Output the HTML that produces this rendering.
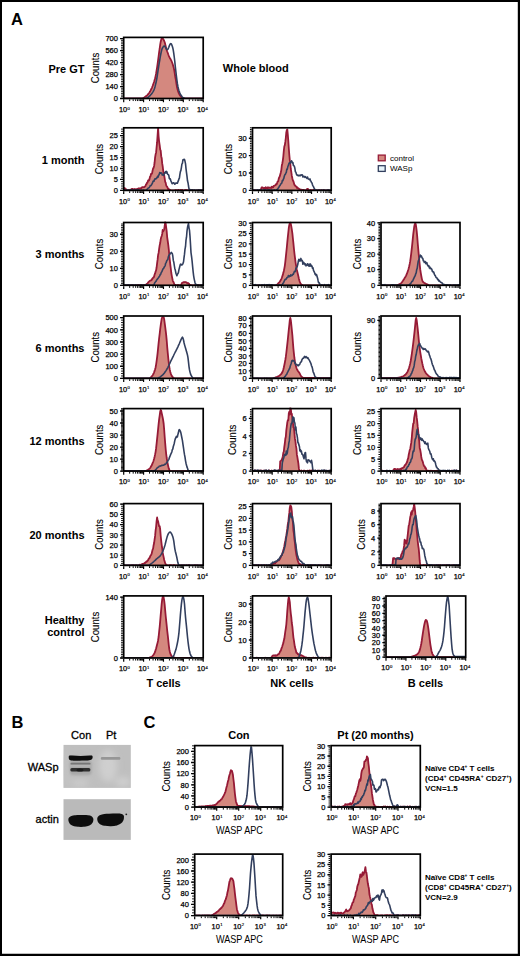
<!DOCTYPE html>
<html><head><meta charset="utf-8"><style>
html,body{margin:0;padding:0;background:#fff;}
body{width:520px;height:956px;overflow:hidden;font-family:"Liberation Sans", sans-serif;}
svg{display:block;}
</style></head><body>
<svg width="520" height="956" viewBox="0 0 520 956" font-family='"Liberation Sans", sans-serif'><rect x="0" y="0" width="520" height="956" fill="#fff"/>
<clipPath id="c123_37"><rect x="123.70" y="36.40" width="79.50" height="62.10"/></clipPath>
<g clip-path="url(#c123_37)">
<path d="M123.7,98.5L123.7,98.5L124.2,98.5L124.7,98.5L125.2,98.5L125.7,98.5L126.2,98.5L126.7,98.5L127.2,98.5L127.8,98.5L128.3,98.5L128.8,98.5L129.3,98.5L129.8,98.5L130.3,98.5L130.8,98.5L131.3,98.5L131.8,98.5L132.3,98.5L132.8,98.5L133.3,98.5L133.8,98.5L134.3,98.5L134.8,98.5L135.3,98.5L135.9,98.5L136.4,98.5L136.9,98.5L137.4,98.5L137.9,98.5L138.4,98.5L138.9,98.5L139.4,98.5L139.9,98.5L140.4,98.5L140.9,98.5L141.4,98.5L141.9,98.5L142.4,98.4L142.9,98.2L143.4,97.9L144.0,97.6L144.5,97.3L145.0,96.9L145.5,96.6L146.0,96.2L146.5,95.8L147.0,95.4L147.5,94.9L148.0,94.3L148.5,93.7L149.0,93.1L149.5,92.4L150.0,91.6L150.5,90.7L151.0,89.6L151.6,88.5L152.1,87.3L152.6,86.0L153.1,84.6L153.6,83.2L154.1,81.7L154.6,80.0L155.1,78.2L155.6,76.1L156.1,73.5L156.6,70.5L157.1,67.3L157.6,64.0L158.1,60.2L158.6,56.3L159.1,52.4L159.7,48.5L160.2,44.6L160.7,41.7L161.2,39.8L161.7,38.4L162.2,38.0L162.7,38.4L163.2,39.1L163.7,40.0L164.2,41.0L164.7,42.3L165.2,44.1L165.7,46.2L166.2,48.2L166.7,50.0L167.2,51.5L167.8,53.0L168.3,54.5L168.8,55.8L169.3,56.9L169.8,57.9L170.3,58.7L170.8,59.6L171.3,60.6L171.8,61.7L172.3,63.0L172.8,64.5L173.3,66.2L173.8,68.1L174.3,70.7L174.8,73.7L175.3,77.0L175.9,80.1L176.4,83.6L176.9,86.7L177.4,88.9L177.9,90.6L178.4,92.1L178.9,93.3L179.4,94.3L179.9,95.2L180.4,95.9L180.9,96.5L181.4,97.0L181.9,97.4L182.4,97.8L182.9,98.1L183.5,98.3L184.0,98.5L184.5,98.5L185.0,98.5L185.5,98.5L186.0,98.5L186.5,98.5L187.0,98.5L187.5,98.5L188.0,98.5L188.5,98.5L189.0,98.5L189.5,98.5L190.0,98.5L190.5,98.5L191.0,98.5L191.6,98.5L192.1,98.5L192.6,98.5L193.1,98.5L193.6,98.5L194.1,98.5L194.6,98.5L195.1,98.5L195.6,98.5L196.1,98.5L196.6,98.5L197.1,98.5L197.6,98.5L198.1,98.5L198.6,98.5L199.1,98.5L199.7,98.5L200.2,98.5L200.7,98.5L201.2,98.5L201.7,98.5L202.2,98.5L202.7,98.5L203.2,98.5L203.2,98.5 Z" fill="#d4887f" stroke="none"/>
<path d="M123.7,98.5L124.2,98.5L124.7,98.5L125.2,98.5L125.7,98.5L126.2,98.5L126.7,98.5L127.2,98.5L127.8,98.5L128.3,98.5L128.8,98.5L129.3,98.5L129.8,98.5L130.3,98.5L130.8,98.5L131.3,98.5L131.8,98.5L132.3,98.5L132.8,98.5L133.3,98.5L133.8,98.5L134.3,98.5L134.8,98.5L135.3,98.5L135.9,98.5L136.4,98.5L136.9,98.5L137.4,98.5L137.9,98.5L138.4,98.5L138.9,98.5L139.4,98.5L139.9,98.5L140.4,98.5L140.9,98.5L141.4,98.5L141.9,98.5L142.4,98.4L142.9,98.2L143.4,97.9L144.0,97.6L144.5,97.3L145.0,96.9L145.5,96.6L146.0,96.2L146.5,95.8L147.0,95.4L147.5,94.9L148.0,94.3L148.5,93.7L149.0,93.1L149.5,92.4L150.0,91.6L150.5,90.7L151.0,89.6L151.6,88.5L152.1,87.3L152.6,86.0L153.1,84.6L153.6,83.2L154.1,81.7L154.6,80.0L155.1,78.2L155.6,76.1L156.1,73.5L156.6,70.5L157.1,67.3L157.6,64.0L158.1,60.2L158.6,56.3L159.1,52.4L159.7,48.5L160.2,44.6L160.7,41.7L161.2,39.8L161.7,38.4L162.2,38.0L162.7,38.4L163.2,39.1L163.7,40.0L164.2,41.0L164.7,42.3L165.2,44.1L165.7,46.2L166.2,48.2L166.7,50.0L167.2,51.5L167.8,53.0L168.3,54.5L168.8,55.8L169.3,56.9L169.8,57.9L170.3,58.7L170.8,59.6L171.3,60.6L171.8,61.7L172.3,63.0L172.8,64.5L173.3,66.2L173.8,68.1L174.3,70.7L174.8,73.7L175.3,77.0L175.9,80.1L176.4,83.6L176.9,86.7L177.4,88.9L177.9,90.6L178.4,92.1L178.9,93.3L179.4,94.3L179.9,95.2L180.4,95.9L180.9,96.5L181.4,97.0L181.9,97.4L182.4,97.8L182.9,98.1L183.5,98.3L184.0,98.5L184.5,98.5L185.0,98.5L185.5,98.5L186.0,98.5L186.5,98.5L187.0,98.5L187.5,98.5L188.0,98.5L188.5,98.5L189.0,98.5L189.5,98.5L190.0,98.5L190.5,98.5L191.0,98.5L191.6,98.5L192.1,98.5L192.6,98.5L193.1,98.5L193.6,98.5L194.1,98.5L194.6,98.5L195.1,98.5L195.6,98.5L196.1,98.5L196.6,98.5L197.1,98.5L197.6,98.5L198.1,98.5L198.6,98.5L199.1,98.5L199.7,98.5L200.2,98.5L200.7,98.5L201.2,98.5L201.7,98.5L202.2,98.5L202.7,98.5L203.2,98.5" fill="none" stroke="#961a36" stroke-width="1.8" stroke-linejoin="round"/>
<path d="M123.7,98.5L124.2,98.5L124.7,98.5L125.2,98.5L125.7,98.5L126.2,98.5L126.7,98.5L127.2,98.5L127.8,98.5L128.3,98.5L128.8,98.5L129.3,98.5L129.8,98.5L130.3,98.5L130.8,98.5L131.3,98.5L131.8,98.5L132.3,98.5L132.8,98.5L133.3,98.5L133.8,98.5L134.3,98.5L134.8,98.5L135.3,98.5L135.9,98.5L136.4,98.5L136.9,98.5L137.4,98.5L137.9,98.5L138.4,98.5L138.9,98.5L139.4,98.5L139.9,98.5L140.4,98.5L140.9,98.5L141.4,98.5L141.9,98.5L142.4,98.5L142.9,98.5L143.4,98.5L144.0,98.5L144.5,98.5L145.0,98.5L145.5,98.5L146.0,98.5L146.5,98.3L147.0,98.1L147.5,97.7L148.0,97.4L148.5,96.9L149.0,96.5L149.5,96.1L150.0,95.6L150.5,95.1L151.0,94.5L151.6,93.9L152.1,93.2L152.6,92.4L153.1,91.6L153.6,90.6L154.1,89.6L154.6,88.2L155.1,86.4L155.6,84.4L156.1,82.2L156.6,79.8L157.1,76.8L157.6,73.5L158.1,70.2L158.6,67.0L159.1,63.7L159.7,60.3L160.2,57.2L160.7,54.5L161.2,52.2L161.7,50.1L162.2,48.5L162.7,47.6L163.2,46.8L163.7,46.2L164.2,46.0L164.7,46.2L165.2,46.9L165.7,47.8L166.2,48.7L166.7,49.4L167.2,49.6L167.8,49.3L168.3,48.4L168.8,47.2L169.3,45.9L169.8,44.7L170.3,43.9L170.8,43.5L171.3,43.9L171.8,44.9L172.3,46.3L172.8,47.9L173.3,50.3L173.8,53.6L174.3,57.5L174.8,61.6L175.3,66.7L175.9,71.9L176.4,76.2L176.9,80.2L177.4,83.7L177.9,86.5L178.4,88.6L178.9,90.4L179.4,91.9L179.9,93.1L180.4,94.1L180.9,95.0L181.4,95.8L181.9,96.5L182.4,97.0L182.9,97.4L183.5,97.8L184.0,98.1L184.5,98.3L185.0,98.5L185.5,98.5L186.0,98.5L186.5,98.5L187.0,98.5L187.5,98.5L188.0,98.5L188.5,98.5L189.0,98.5L189.5,98.5L190.0,98.5L190.5,98.5L191.0,98.5L191.6,98.5L192.1,98.5L192.6,98.5L193.1,98.5L193.6,98.5L194.1,98.5L194.6,98.5L195.1,98.5L195.6,98.5L196.1,98.5L196.6,98.5L197.1,98.5L197.6,98.5L198.1,98.5L198.6,98.5L199.1,98.5L199.7,98.5L200.2,98.5L200.7,98.5L201.2,98.5L201.7,98.5L202.2,98.5L202.7,98.5L203.2,98.5" fill="none" stroke="#323f5e" stroke-width="1.6" stroke-linejoin="round"/>
</g>
<rect x="123.70" y="37.40" width="79.50" height="61.10" fill="none" stroke="#000" stroke-width="1.7"/>
<path d="M122.85,98.50h-1.7M122.85,96.79h-1.7M122.85,95.08h-1.7M122.85,93.37h-1.7M122.85,91.66h-1.7M122.85,89.95h-1.7M122.85,88.25h-1.7M122.85,86.54h-1.7M122.85,84.83h-1.7M122.85,83.12h-1.7M122.85,81.41h-1.7M122.85,79.70h-1.7M122.85,77.99h-1.7M122.85,76.28h-1.7M122.85,74.57h-1.7M122.85,72.86h-1.7M122.85,71.15h-1.7M122.85,69.45h-1.7M122.85,67.74h-1.7M122.85,66.03h-1.7M122.85,64.32h-1.7M122.85,62.61h-1.7M122.85,60.90h-1.7M122.85,59.19h-1.7M122.85,57.48h-1.7M122.85,55.77h-1.7M122.85,54.06h-1.7M122.85,52.35h-1.7M122.85,50.65h-1.7M122.85,48.94h-1.7M122.85,47.23h-1.7M122.85,45.52h-1.7M122.85,43.81h-1.7M122.85,42.10h-1.7M122.85,40.39h-1.7M122.85,38.68h-1.7" stroke="#000" stroke-width="1.0" fill="none"/>
<path d="M122.85,98.50h-2.8M122.85,86.54h-2.8M122.85,74.57h-2.8M122.85,62.61h-2.8M122.85,50.65h-2.8M122.85,38.68h-2.8" stroke="#000" stroke-width="1.3" fill="none"/>
<path d="M129.68,99.35v1.7M133.18,99.35v1.7M135.67,99.35v1.7M137.59,99.35v1.7M139.17,99.35v1.7M140.50,99.35v1.7M141.65,99.35v1.7M142.67,99.35v1.7M149.56,99.35v1.7M153.06,99.35v1.7M155.54,99.35v1.7M157.47,99.35v1.7M159.04,99.35v1.7M160.37,99.35v1.7M161.52,99.35v1.7M162.54,99.35v1.7M169.43,99.35v1.7M172.93,99.35v1.7M175.42,99.35v1.7M177.34,99.35v1.7M178.92,99.35v1.7M180.25,99.35v1.7M181.40,99.35v1.7M182.42,99.35v1.7M189.31,99.35v1.7M192.81,99.35v1.7M195.29,99.35v1.7M197.22,99.35v1.7M198.79,99.35v1.7M200.12,99.35v1.7M201.27,99.35v1.7M202.29,99.35v1.7" stroke="#000" stroke-width="1.0" fill="none"/>
<path d="M123.70,99.35v2.8M143.57,99.35v2.8M163.45,99.35v2.8M183.32,99.35v2.8M203.20,99.35v2.8" stroke="#000" stroke-width="1.2" fill="none"/>
<text x="117.90" y="101.20" font-size="7.5" text-anchor="end" stroke="#000" stroke-width="0.25">0</text>
<text x="117.90" y="89.24" font-size="7.5" text-anchor="end" stroke="#000" stroke-width="0.25">140</text>
<text x="117.90" y="77.27" font-size="7.5" text-anchor="end" stroke="#000" stroke-width="0.25">280</text>
<text x="117.90" y="65.31" font-size="7.5" text-anchor="end" stroke="#000" stroke-width="0.25">420</text>
<text x="117.90" y="53.35" font-size="7.5" text-anchor="end" stroke="#000" stroke-width="0.25">560</text>
<text x="117.90" y="41.38" font-size="7.5" text-anchor="end" stroke="#000" stroke-width="0.25">700</text>
<text x="123.10" y="112.10" font-size="7.4" text-anchor="middle" stroke="#000" stroke-width="0.25">10</text>
<text x="127.60" y="109.60" font-size="4.2" stroke="#000" stroke-width="0.15">0</text>
<text x="142.58" y="112.10" font-size="7.4" text-anchor="middle" stroke="#000" stroke-width="0.25">10</text>
<text x="147.08" y="109.60" font-size="4.2" stroke="#000" stroke-width="0.15">1</text>
<text x="162.05" y="112.10" font-size="7.4" text-anchor="middle" stroke="#000" stroke-width="0.25">10</text>
<text x="166.55" y="109.60" font-size="4.2" stroke="#000" stroke-width="0.15">2</text>
<text x="181.53" y="112.10" font-size="7.4" text-anchor="middle" stroke="#000" stroke-width="0.25">10</text>
<text x="186.03" y="109.60" font-size="4.2" stroke="#000" stroke-width="0.15">3</text>
<text x="201.00" y="112.10" font-size="7.4" text-anchor="middle" stroke="#000" stroke-width="0.25">10</text>
<text x="205.50" y="109.60" font-size="4.2" stroke="#000" stroke-width="0.15">4</text>
<text x="99.19" y="67.95" font-size="10.6" text-anchor="middle" textLength="30.50" lengthAdjust="spacingAndGlyphs" transform="rotate(-90 99.19 67.95)" stroke="#000" stroke-width="0.1">Counts</text>
<clipPath id="c123_127"><rect x="123.70" y="126.80" width="79.50" height="63.60"/></clipPath>
<g clip-path="url(#c123_127)">
<path d="M123.7,190.4L123.7,190.4L124.2,189.1L124.7,188.0L125.2,188.7L125.7,189.0L126.2,189.4L126.7,190.3L127.2,190.3L127.8,190.3L128.3,190.0L128.8,190.4L129.3,190.4L129.8,190.4L130.3,189.6L130.8,189.6L131.3,190.2L131.8,189.0L132.3,188.9L132.8,189.1L133.3,189.1L133.8,189.5L134.3,189.6L134.8,189.0L135.3,189.5L135.9,189.3L136.4,189.2L136.9,189.4L137.4,188.8L137.9,188.8L138.4,188.3L138.9,188.6L139.4,188.4L139.9,188.5L140.4,188.2L140.9,188.3L141.4,188.4L141.9,187.3L142.4,187.1L142.9,187.1L143.4,187.1L144.0,187.3L144.5,187.0L145.0,186.4L145.5,186.1L146.0,184.4L146.5,184.2L147.0,182.7L147.5,182.6L148.0,180.8L148.5,180.1L149.0,180.5L149.5,179.1L150.0,176.7L150.5,176.3L151.0,174.0L151.6,173.9L152.1,173.2L152.6,170.5L153.1,168.4L153.6,167.8L154.1,166.0L154.6,162.5L155.1,157.4L155.6,154.3L156.1,152.4L156.6,147.1L157.1,142.2L157.6,135.1L158.1,127.7L158.6,136.3L159.1,141.3L159.7,145.5L160.2,149.6L160.7,150.7L161.2,156.2L161.7,158.2L162.2,163.4L162.7,166.3L163.2,170.6L163.7,173.7L164.2,175.5L164.7,178.7L165.2,181.9L165.7,182.8L166.2,185.4L166.7,186.4L167.2,186.8L167.8,188.1L168.3,189.5L168.8,189.0L169.3,190.2L169.8,190.4L170.3,189.9L170.8,190.4L171.3,190.4L171.8,190.4L172.3,190.4L172.8,190.3L173.3,190.4L173.8,190.3L174.3,190.4L174.8,190.4L175.3,189.9L175.9,190.4L176.4,190.3L176.9,190.0L177.4,190.4L177.9,190.4L178.4,189.9L178.9,190.0L179.4,190.4L179.9,190.4L180.4,190.1L180.9,189.9L181.4,190.4L181.9,189.9L182.4,190.0L182.9,190.3L183.5,190.4L184.0,190.4L184.5,190.4L185.0,189.9L185.5,190.4L186.0,190.2L186.5,190.4L187.0,190.0L187.5,190.3L188.0,190.4L188.5,190.4L189.0,190.2L189.5,190.4L190.0,190.4L190.5,190.3L191.0,190.0L191.6,190.3L192.1,190.4L192.6,189.9L193.1,190.4L193.6,190.4L194.1,190.4L194.6,190.4L195.1,190.4L195.6,190.4L196.1,190.4L196.6,190.3L197.1,190.4L197.6,190.4L198.1,190.0L198.6,189.9L199.1,190.2L199.7,190.2L200.2,190.3L200.7,190.4L201.2,190.4L201.7,190.4L202.2,189.9L202.7,190.2L203.2,189.9L203.2,190.4 Z" fill="#d4887f" stroke="none"/>
<path d="M123.7,190.4L124.2,189.1L124.7,188.0L125.2,188.7L125.7,189.0L126.2,189.4L126.7,190.3L127.2,190.3L127.8,190.3L128.3,190.0L128.8,190.4L129.3,190.4L129.8,190.4L130.3,189.6L130.8,189.6L131.3,190.2L131.8,189.0L132.3,188.9L132.8,189.1L133.3,189.1L133.8,189.5L134.3,189.6L134.8,189.0L135.3,189.5L135.9,189.3L136.4,189.2L136.9,189.4L137.4,188.8L137.9,188.8L138.4,188.3L138.9,188.6L139.4,188.4L139.9,188.5L140.4,188.2L140.9,188.3L141.4,188.4L141.9,187.3L142.4,187.1L142.9,187.1L143.4,187.1L144.0,187.3L144.5,187.0L145.0,186.4L145.5,186.1L146.0,184.4L146.5,184.2L147.0,182.7L147.5,182.6L148.0,180.8L148.5,180.1L149.0,180.5L149.5,179.1L150.0,176.7L150.5,176.3L151.0,174.0L151.6,173.9L152.1,173.2L152.6,170.5L153.1,168.4L153.6,167.8L154.1,166.0L154.6,162.5L155.1,157.4L155.6,154.3L156.1,152.4L156.6,147.1L157.1,142.2L157.6,135.1L158.1,127.7L158.6,136.3L159.1,141.3L159.7,145.5L160.2,149.6L160.7,150.7L161.2,156.2L161.7,158.2L162.2,163.4L162.7,166.3L163.2,170.6L163.7,173.7L164.2,175.5L164.7,178.7L165.2,181.9L165.7,182.8L166.2,185.4L166.7,186.4L167.2,186.8L167.8,188.1L168.3,189.5L168.8,189.0L169.3,190.2L169.8,190.4L170.3,189.9L170.8,190.4L171.3,190.4L171.8,190.4L172.3,190.4L172.8,190.3L173.3,190.4L173.8,190.3L174.3,190.4L174.8,190.4L175.3,189.9L175.9,190.4L176.4,190.3L176.9,190.0L177.4,190.4L177.9,190.4L178.4,189.9L178.9,190.0L179.4,190.4L179.9,190.4L180.4,190.1L180.9,189.9L181.4,190.4L181.9,189.9L182.4,190.0L182.9,190.3L183.5,190.4L184.0,190.4L184.5,190.4L185.0,189.9L185.5,190.4L186.0,190.2L186.5,190.4L187.0,190.0L187.5,190.3L188.0,190.4L188.5,190.4L189.0,190.2L189.5,190.4L190.0,190.4L190.5,190.3L191.0,190.0L191.6,190.3L192.1,190.4L192.6,189.9L193.1,190.4L193.6,190.4L194.1,190.4L194.6,190.4L195.1,190.4L195.6,190.4L196.1,190.4L196.6,190.3L197.1,190.4L197.6,190.4L198.1,190.0L198.6,189.9L199.1,190.2L199.7,190.2L200.2,190.3L200.7,190.4L201.2,190.4L201.7,190.4L202.2,189.9L202.7,190.2L203.2,189.9" fill="none" stroke="#961a36" stroke-width="1.8" stroke-linejoin="round"/>
<path d="M123.7,190.4L124.2,190.2L124.7,190.2L125.2,190.4L125.7,190.4L126.2,190.4L126.7,190.4L127.2,190.1L127.8,190.2L128.3,190.3L128.8,190.3L129.3,190.2L129.8,190.4L130.3,190.4L130.8,190.4L131.3,189.9L131.8,190.4L132.3,190.0L132.8,190.4L133.3,190.2L133.8,190.4L134.3,190.4L134.8,190.0L135.3,190.4L135.9,190.4L136.4,189.9L136.9,190.4L137.4,190.4L137.9,189.9L138.4,189.9L138.9,190.4L139.4,190.4L139.9,190.4L140.4,190.4L140.9,190.3L141.4,190.4L141.9,190.2L142.4,190.4L142.9,190.4L143.4,190.0L144.0,190.4L144.5,190.4L145.0,190.3L145.5,190.4L146.0,190.4L146.5,190.4L147.0,189.4L147.5,188.7L148.0,188.2L148.5,188.0L149.0,187.8L149.5,187.1L150.0,186.1L150.5,185.5L151.0,185.7L151.6,184.7L152.1,183.7L152.6,182.6L153.1,181.3L153.6,181.0L154.1,181.1L154.6,179.1L155.1,179.3L155.6,178.7L156.1,178.8L156.6,178.0L157.1,177.7L157.6,176.4L158.1,177.1L158.6,175.2L159.1,174.8L159.7,172.6L160.2,173.4L160.7,172.8L161.2,173.0L161.7,173.1L162.2,175.0L162.7,174.7L163.2,175.3L163.7,175.0L164.2,174.1L164.7,172.5L165.2,173.0L165.7,171.5L166.2,173.0L166.7,171.4L167.2,173.2L167.8,174.5L168.3,174.5L168.8,175.4L169.3,178.4L169.8,178.9L170.3,178.9L170.8,180.6L171.3,181.8L171.8,183.0L172.3,183.7L172.8,183.2L173.3,182.8L173.8,182.7L174.3,183.5L174.8,184.2L175.3,183.8L175.9,183.1L176.4,183.0L176.9,183.2L177.4,183.3L177.9,181.8L178.4,180.7L178.9,179.0L179.4,178.1L179.9,174.4L180.4,171.6L180.9,170.4L181.4,167.6L181.9,164.0L182.4,163.5L182.9,159.8L183.5,159.9L184.0,159.2L184.5,159.4L185.0,161.3L185.5,163.7L186.0,168.6L186.5,172.6L187.0,176.4L187.5,180.8L188.0,182.7L188.5,186.0L189.0,188.8L189.5,189.9L190.0,189.5L190.5,190.2L191.0,190.2L191.6,189.9L192.1,189.9L192.6,190.1L193.1,190.4L193.6,190.3L194.1,189.9L194.6,190.1L195.1,190.3L195.6,190.4L196.1,190.4L196.6,190.1L197.1,190.3L197.6,190.4L198.1,190.2L198.6,189.9L199.1,190.1L199.7,190.0L200.2,189.9L200.7,190.4L201.2,190.1L201.7,190.4L202.2,190.4L202.7,190.4L203.2,190.4" fill="none" stroke="#323f5e" stroke-width="1.6" stroke-linejoin="round"/>
</g>
<rect x="123.70" y="127.80" width="79.50" height="62.60" fill="none" stroke="#000" stroke-width="1.7"/>
<path d="M122.85,190.40h-1.7M122.85,188.21h-1.7M122.85,186.02h-1.7M122.85,183.83h-1.7M122.85,181.64h-1.7M122.85,179.46h-1.7M122.85,177.27h-1.7M122.85,175.08h-1.7M122.85,172.89h-1.7M122.85,170.70h-1.7M122.85,168.51h-1.7M122.85,166.32h-1.7M122.85,164.13h-1.7M122.85,161.95h-1.7M122.85,159.76h-1.7M122.85,157.57h-1.7M122.85,155.38h-1.7M122.85,153.19h-1.7M122.85,151.00h-1.7M122.85,148.81h-1.7M122.85,146.62h-1.7M122.85,144.43h-1.7M122.85,142.25h-1.7M122.85,140.06h-1.7M122.85,137.87h-1.7M122.85,135.68h-1.7M122.85,133.49h-1.7M122.85,131.30h-1.7M122.85,129.11h-1.7" stroke="#000" stroke-width="1.0" fill="none"/>
<path d="M122.85,190.40h-2.8M122.85,179.46h-2.8M122.85,168.51h-2.8M122.85,157.57h-2.8M122.85,146.62h-2.8M122.85,135.68h-2.8" stroke="#000" stroke-width="1.3" fill="none"/>
<path d="M129.68,191.25v1.7M133.18,191.25v1.7M135.67,191.25v1.7M137.59,191.25v1.7M139.17,191.25v1.7M140.50,191.25v1.7M141.65,191.25v1.7M142.67,191.25v1.7M149.56,191.25v1.7M153.06,191.25v1.7M155.54,191.25v1.7M157.47,191.25v1.7M159.04,191.25v1.7M160.37,191.25v1.7M161.52,191.25v1.7M162.54,191.25v1.7M169.43,191.25v1.7M172.93,191.25v1.7M175.42,191.25v1.7M177.34,191.25v1.7M178.92,191.25v1.7M180.25,191.25v1.7M181.40,191.25v1.7M182.42,191.25v1.7M189.31,191.25v1.7M192.81,191.25v1.7M195.29,191.25v1.7M197.22,191.25v1.7M198.79,191.25v1.7M200.12,191.25v1.7M201.27,191.25v1.7M202.29,191.25v1.7" stroke="#000" stroke-width="1.0" fill="none"/>
<path d="M123.70,191.25v2.8M143.57,191.25v2.8M163.45,191.25v2.8M183.32,191.25v2.8M203.20,191.25v2.8" stroke="#000" stroke-width="1.2" fill="none"/>
<text x="117.90" y="193.10" font-size="7.5" text-anchor="end" stroke="#000" stroke-width="0.25">0</text>
<text x="117.90" y="182.16" font-size="7.5" text-anchor="end" stroke="#000" stroke-width="0.25">5</text>
<text x="117.90" y="171.21" font-size="7.5" text-anchor="end" stroke="#000" stroke-width="0.25">10</text>
<text x="117.90" y="160.27" font-size="7.5" text-anchor="end" stroke="#000" stroke-width="0.25">15</text>
<text x="117.90" y="149.32" font-size="7.5" text-anchor="end" stroke="#000" stroke-width="0.25">20</text>
<text x="117.90" y="138.38" font-size="7.5" text-anchor="end" stroke="#000" stroke-width="0.25">25</text>
<text x="123.10" y="203.60" font-size="7.4" text-anchor="middle" stroke="#000" stroke-width="0.25">10</text>
<text x="127.60" y="201.10" font-size="4.2" stroke="#000" stroke-width="0.15">0</text>
<text x="142.58" y="203.60" font-size="7.4" text-anchor="middle" stroke="#000" stroke-width="0.25">10</text>
<text x="147.08" y="201.10" font-size="4.2" stroke="#000" stroke-width="0.15">1</text>
<text x="162.05" y="203.60" font-size="7.4" text-anchor="middle" stroke="#000" stroke-width="0.25">10</text>
<text x="166.55" y="201.10" font-size="4.2" stroke="#000" stroke-width="0.15">2</text>
<text x="181.53" y="203.60" font-size="7.4" text-anchor="middle" stroke="#000" stroke-width="0.25">10</text>
<text x="186.03" y="201.10" font-size="4.2" stroke="#000" stroke-width="0.15">3</text>
<text x="201.00" y="203.60" font-size="7.4" text-anchor="middle" stroke="#000" stroke-width="0.25">10</text>
<text x="205.50" y="201.10" font-size="4.2" stroke="#000" stroke-width="0.15">4</text>
<text x="103.36" y="159.10" font-size="10.6" text-anchor="middle" textLength="30.50" lengthAdjust="spacingAndGlyphs" transform="rotate(-90 103.36 159.10)" stroke="#000" stroke-width="0.1">Counts</text>
<clipPath id="c252_127"><rect x="252.50" y="126.80" width="78.70" height="63.60"/></clipPath>
<g clip-path="url(#c252_127)">
<path d="M252.5,190.4L252.5,190.4L253.0,190.2L253.5,190.2L254.0,190.4L254.5,190.4L255.0,190.1L255.5,190.1L256.0,190.4L256.5,190.4L257.0,190.4L257.5,190.4L258.0,190.4L258.6,190.3L259.1,190.4L259.6,190.0L260.1,190.3L260.6,189.6L261.1,189.1L261.6,187.4L262.1,187.6L262.6,187.4L263.1,187.7L263.6,188.5L264.1,188.1L264.6,187.9L265.1,188.4L265.6,187.3L266.1,188.1L266.6,188.3L267.1,187.5L267.6,188.4L268.1,187.3L268.6,187.9L269.1,187.7L269.7,187.9L270.2,187.6L270.7,187.9L271.2,188.0L271.7,186.8L272.2,187.5L272.7,186.6L273.2,187.2L273.7,186.0L274.2,185.9L274.7,185.7L275.2,185.2L275.7,184.9L276.2,184.0L276.7,184.2L277.2,182.8L277.7,181.4L278.2,181.4L278.7,178.9L279.2,177.4L279.7,176.6L280.2,174.7L280.8,172.4L281.3,170.1L281.8,165.5L282.3,163.5L282.8,160.6L283.3,156.6L283.8,150.9L284.3,146.5L284.8,145.1L285.3,141.9L285.8,138.1L286.3,132.4L286.8,130.1L287.3,129.4L287.8,134.7L288.3,140.8L288.8,148.3L289.3,154.7L289.8,160.2L290.3,163.3L290.8,169.0L291.3,172.0L291.8,175.7L292.4,178.5L292.9,180.6L293.4,181.2L293.9,182.9L294.4,184.8L294.9,185.2L295.4,186.0L295.9,186.3L296.4,186.7L296.9,187.9L297.4,187.5L297.9,187.9L298.4,188.7L298.9,188.6L299.4,189.3L299.9,189.7L300.4,190.0L300.9,189.4L301.4,190.3L301.9,190.4L302.4,189.8L302.9,189.9L303.5,190.3L304.0,189.9L304.5,190.4L305.0,190.4L305.5,190.4L306.0,190.3L306.5,189.7L307.0,189.1L307.5,188.9L308.0,189.0L308.5,189.7L309.0,190.1L309.5,190.4L310.0,190.4L310.5,189.9L311.0,190.4L311.5,190.1L312.0,190.4L312.5,190.4L313.0,190.0L313.5,190.1L314.0,190.0L314.6,190.3L315.1,190.4L315.6,190.3L316.1,190.0L316.6,190.4L317.1,190.4L317.6,190.4L318.1,190.1L318.6,190.4L319.1,190.2L319.6,189.9L320.1,190.4L320.6,190.3L321.1,190.2L321.6,190.0L322.1,190.3L322.6,190.4L323.1,190.4L323.6,189.9L324.1,189.9L324.6,190.4L325.1,190.4L325.7,190.4L326.2,190.4L326.7,190.4L327.2,190.4L327.7,190.0L328.2,190.2L328.7,190.4L329.2,190.4L329.7,190.4L330.2,190.4L330.7,190.4L331.2,190.4L331.2,190.4 Z" fill="#d4887f" stroke="none"/>
<path d="M252.5,190.4L253.0,190.2L253.5,190.2L254.0,190.4L254.5,190.4L255.0,190.1L255.5,190.1L256.0,190.4L256.5,190.4L257.0,190.4L257.5,190.4L258.0,190.4L258.6,190.3L259.1,190.4L259.6,190.0L260.1,190.3L260.6,189.6L261.1,189.1L261.6,187.4L262.1,187.6L262.6,187.4L263.1,187.7L263.6,188.5L264.1,188.1L264.6,187.9L265.1,188.4L265.6,187.3L266.1,188.1L266.6,188.3L267.1,187.5L267.6,188.4L268.1,187.3L268.6,187.9L269.1,187.7L269.7,187.9L270.2,187.6L270.7,187.9L271.2,188.0L271.7,186.8L272.2,187.5L272.7,186.6L273.2,187.2L273.7,186.0L274.2,185.9L274.7,185.7L275.2,185.2L275.7,184.9L276.2,184.0L276.7,184.2L277.2,182.8L277.7,181.4L278.2,181.4L278.7,178.9L279.2,177.4L279.7,176.6L280.2,174.7L280.8,172.4L281.3,170.1L281.8,165.5L282.3,163.5L282.8,160.6L283.3,156.6L283.8,150.9L284.3,146.5L284.8,145.1L285.3,141.9L285.8,138.1L286.3,132.4L286.8,130.1L287.3,129.4L287.8,134.7L288.3,140.8L288.8,148.3L289.3,154.7L289.8,160.2L290.3,163.3L290.8,169.0L291.3,172.0L291.8,175.7L292.4,178.5L292.9,180.6L293.4,181.2L293.9,182.9L294.4,184.8L294.9,185.2L295.4,186.0L295.9,186.3L296.4,186.7L296.9,187.9L297.4,187.5L297.9,187.9L298.4,188.7L298.9,188.6L299.4,189.3L299.9,189.7L300.4,190.0L300.9,189.4L301.4,190.3L301.9,190.4L302.4,189.8L302.9,189.9L303.5,190.3L304.0,189.9L304.5,190.4L305.0,190.4L305.5,190.4L306.0,190.3L306.5,189.7L307.0,189.1L307.5,188.9L308.0,189.0L308.5,189.7L309.0,190.1L309.5,190.4L310.0,190.4L310.5,189.9L311.0,190.4L311.5,190.1L312.0,190.4L312.5,190.4L313.0,190.0L313.5,190.1L314.0,190.0L314.6,190.3L315.1,190.4L315.6,190.3L316.1,190.0L316.6,190.4L317.1,190.4L317.6,190.4L318.1,190.1L318.6,190.4L319.1,190.2L319.6,189.9L320.1,190.4L320.6,190.3L321.1,190.2L321.6,190.0L322.1,190.3L322.6,190.4L323.1,190.4L323.6,189.9L324.1,189.9L324.6,190.4L325.1,190.4L325.7,190.4L326.2,190.4L326.7,190.4L327.2,190.4L327.7,190.0L328.2,190.2L328.7,190.4L329.2,190.4L329.7,190.4L330.2,190.4L330.7,190.4L331.2,190.4" fill="none" stroke="#961a36" stroke-width="1.8" stroke-linejoin="round"/>
<path d="M252.5,189.9L253.0,190.4L253.5,190.4L254.0,189.8L254.5,190.4L255.0,190.4L255.5,190.2L256.0,190.4L256.5,190.0L257.0,190.4L257.5,189.9L258.0,190.4L258.6,190.3L259.1,189.9L259.6,190.2L260.1,189.9L260.6,190.2L261.1,190.4L261.6,190.0L262.1,190.3L262.6,190.4L263.1,190.4L263.6,190.0L264.1,190.3L264.6,189.9L265.1,190.1L265.6,189.9L266.1,190.3L266.6,190.2L267.1,190.3L267.6,190.4L268.1,189.9L268.6,190.4L269.1,190.1L269.7,189.9L270.2,190.2L270.7,190.4L271.2,190.0L271.7,190.2L272.2,190.4L272.7,190.4L273.2,190.4L273.7,190.4L274.2,189.9L274.7,190.4L275.2,190.4L275.7,190.4L276.2,190.1L276.7,189.5L277.2,189.7L277.7,189.0L278.2,188.1L278.7,187.7L279.2,186.5L279.7,185.8L280.2,185.2L280.8,184.0L281.3,183.4L281.8,183.1L282.3,180.6L282.8,180.7L283.3,179.4L283.8,178.4L284.3,176.2L284.8,174.8L285.3,174.4L285.8,173.2L286.3,172.4L286.8,169.1L287.3,169.3L287.8,166.8L288.3,165.4L288.8,163.9L289.3,162.8L289.8,162.9L290.3,163.2L290.8,161.6L291.3,160.8L291.8,161.2L292.4,163.0L292.9,162.6L293.4,165.5L293.9,165.7L294.4,166.4L294.9,168.5L295.4,171.8L295.9,172.3L296.4,174.1L296.9,175.0L297.4,175.5L297.9,175.0L298.4,175.5L298.9,175.9L299.4,175.3L299.9,175.3L300.4,175.7L300.9,174.8L301.4,174.8L301.9,175.3L302.4,174.9L302.9,177.0L303.5,176.3L304.0,176.2L304.5,177.0L305.0,177.5L305.5,176.7L306.0,177.3L306.5,177.8L307.0,178.5L307.5,177.0L308.0,178.4L308.5,179.1L309.0,179.3L309.5,179.6L310.0,178.9L310.5,180.7L311.0,181.2L311.5,182.5L312.0,183.1L312.5,184.8L313.0,185.8L313.5,186.7L314.0,187.9L314.6,189.0L315.1,190.4L315.6,190.3L316.1,190.0L316.6,190.4L317.1,190.4L317.6,190.4L318.1,190.4L318.6,190.1L319.1,190.2L319.6,190.4L320.1,190.4L320.6,190.4L321.1,190.4L321.6,190.4L322.1,190.2L322.6,190.4L323.1,190.0L323.6,190.2L324.1,190.4L324.6,190.4L325.1,190.3L325.7,190.4L326.2,190.4L326.7,190.4L327.2,190.1L327.7,190.4L328.2,190.3L328.7,189.9L329.2,190.0L329.7,190.4L330.2,190.4L330.7,190.4L331.2,190.4" fill="none" stroke="#323f5e" stroke-width="1.6" stroke-linejoin="round"/>
</g>
<rect x="252.50" y="127.80" width="78.70" height="62.60" fill="none" stroke="#000" stroke-width="1.7"/>
<path d="M251.65,190.40h-1.7M251.65,188.66h-1.7M251.65,186.92h-1.7M251.65,185.18h-1.7M251.65,183.44h-1.7M251.65,181.71h-1.7M251.65,179.97h-1.7M251.65,178.23h-1.7M251.65,176.49h-1.7M251.65,174.75h-1.7M251.65,173.01h-1.7M251.65,171.27h-1.7M251.65,169.53h-1.7M251.65,167.79h-1.7M251.65,166.06h-1.7M251.65,164.32h-1.7M251.65,162.58h-1.7M251.65,160.84h-1.7M251.65,159.10h-1.7M251.65,157.36h-1.7M251.65,155.62h-1.7M251.65,153.88h-1.7M251.65,152.14h-1.7M251.65,150.41h-1.7M251.65,148.67h-1.7M251.65,146.93h-1.7M251.65,145.19h-1.7M251.65,143.45h-1.7M251.65,141.71h-1.7M251.65,139.97h-1.7M251.65,138.23h-1.7M251.65,136.49h-1.7M251.65,134.76h-1.7M251.65,133.02h-1.7M251.65,131.28h-1.7M251.65,129.54h-1.7M251.65,127.80h-1.7" stroke="#000" stroke-width="1.0" fill="none"/>
<path d="M251.65,190.40h-2.8M251.65,173.01h-2.8M251.65,155.62h-2.8M251.65,138.23h-2.8" stroke="#000" stroke-width="1.3" fill="none"/>
<path d="M258.42,191.25v1.7M261.89,191.25v1.7M264.35,191.25v1.7M266.25,191.25v1.7M267.81,191.25v1.7M269.13,191.25v1.7M270.27,191.25v1.7M271.27,191.25v1.7M278.10,191.25v1.7M281.56,191.25v1.7M284.02,191.25v1.7M285.93,191.25v1.7M287.49,191.25v1.7M288.80,191.25v1.7M289.94,191.25v1.7M290.95,191.25v1.7M297.77,191.25v1.7M301.24,191.25v1.7M303.70,191.25v1.7M305.60,191.25v1.7M307.16,191.25v1.7M308.48,191.25v1.7M309.62,191.25v1.7M310.62,191.25v1.7M317.45,191.25v1.7M320.91,191.25v1.7M323.37,191.25v1.7M325.28,191.25v1.7M326.84,191.25v1.7M328.15,191.25v1.7M329.29,191.25v1.7M330.30,191.25v1.7" stroke="#000" stroke-width="1.0" fill="none"/>
<path d="M252.50,191.25v2.8M272.18,191.25v2.8M291.85,191.25v2.8M311.52,191.25v2.8M331.20,191.25v2.8" stroke="#000" stroke-width="1.2" fill="none"/>
<text x="246.70" y="193.10" font-size="7.5" text-anchor="end" stroke="#000" stroke-width="0.25">0</text>
<text x="246.70" y="175.71" font-size="7.5" text-anchor="end" stroke="#000" stroke-width="0.25">10</text>
<text x="246.70" y="158.32" font-size="7.5" text-anchor="end" stroke="#000" stroke-width="0.25">20</text>
<text x="246.70" y="140.93" font-size="7.5" text-anchor="end" stroke="#000" stroke-width="0.25">30</text>
<text x="251.90" y="203.60" font-size="7.4" text-anchor="middle" stroke="#000" stroke-width="0.25">10</text>
<text x="256.40" y="201.10" font-size="4.2" stroke="#000" stroke-width="0.15">0</text>
<text x="271.18" y="203.60" font-size="7.4" text-anchor="middle" stroke="#000" stroke-width="0.25">10</text>
<text x="275.68" y="201.10" font-size="4.2" stroke="#000" stroke-width="0.15">1</text>
<text x="290.45" y="203.60" font-size="7.4" text-anchor="middle" stroke="#000" stroke-width="0.25">10</text>
<text x="294.95" y="201.10" font-size="4.2" stroke="#000" stroke-width="0.15">2</text>
<text x="309.73" y="203.60" font-size="7.4" text-anchor="middle" stroke="#000" stroke-width="0.25">10</text>
<text x="314.23" y="201.10" font-size="4.2" stroke="#000" stroke-width="0.15">3</text>
<text x="329.00" y="203.60" font-size="7.4" text-anchor="middle" stroke="#000" stroke-width="0.25">10</text>
<text x="333.50" y="201.10" font-size="4.2" stroke="#000" stroke-width="0.15">4</text>
<text x="232.16" y="159.10" font-size="10.6" text-anchor="middle" textLength="30.50" lengthAdjust="spacingAndGlyphs" transform="rotate(-90 232.16 159.10)" stroke="#000" stroke-width="0.1">Counts</text>
<clipPath id="c123_222"><rect x="123.70" y="221.50" width="79.50" height="63.80"/></clipPath>
<g clip-path="url(#c123_222)">
<path d="M123.7,285.3L123.7,285.3L124.2,285.3L124.7,285.3L125.2,285.2L125.7,285.3L126.2,285.3L126.7,285.3L127.2,285.1L127.8,285.3L128.3,285.1L128.8,285.2L129.3,285.3L129.8,285.3L130.3,285.3L130.8,285.3L131.3,284.9L131.8,285.3L132.3,285.3L132.8,285.0L133.3,285.3L133.8,285.3L134.3,285.3L134.8,285.3L135.3,285.0L135.9,285.3L136.4,285.3L136.9,285.2L137.4,285.3L137.9,285.0L138.4,285.0L138.9,285.3L139.4,285.3L139.9,285.0L140.4,284.9L140.9,285.3L141.4,285.1L141.9,285.0L142.4,285.2L142.9,285.3L143.4,285.1L144.0,285.1L144.5,285.3L145.0,284.9L145.5,285.0L146.0,284.8L146.5,284.2L147.0,283.8L147.5,283.4L148.0,282.7L148.5,282.1L149.0,281.6L149.5,281.1L150.0,280.7L150.5,280.4L151.0,280.4L151.6,280.0L152.1,279.0L152.6,278.5L153.1,277.7L153.6,277.5L154.1,276.5L154.6,274.5L155.1,273.4L155.6,271.5L156.1,270.3L156.6,267.5L157.1,263.3L157.6,259.7L158.1,255.0L158.6,252.9L159.1,249.1L159.7,245.1L160.2,243.0L160.7,239.4L161.2,237.3L161.7,236.0L162.2,233.9L162.7,229.8L163.2,231.4L163.7,230.5L164.2,229.2L164.7,226.0L165.2,221.9L165.7,223.5L166.2,227.6L166.7,231.4L167.2,237.3L167.8,241.5L168.3,245.2L168.8,249.5L169.3,255.3L169.8,260.0L170.3,264.7L170.8,268.5L171.3,273.0L171.8,275.8L172.3,278.4L172.8,280.8L173.3,281.8L173.8,282.7L174.3,284.2L174.8,285.0L175.3,284.9L175.9,285.0L176.4,285.2L176.9,285.3L177.4,285.3L177.9,284.9L178.4,285.3L178.9,285.2L179.4,285.3L179.9,285.3L180.4,285.1L180.9,285.0L181.4,284.2L181.9,283.2L182.4,282.6L182.9,282.6L183.5,282.1L184.0,282.4L184.5,282.2L185.0,282.0L185.5,282.2L186.0,282.1L186.5,282.5L187.0,283.0L187.5,283.3L188.0,283.0L188.5,283.4L189.0,283.8L189.5,284.7L190.0,285.2L190.5,285.3L191.0,285.0L191.6,285.3L192.1,285.3L192.6,285.3L193.1,285.3L193.6,285.3L194.1,285.3L194.6,285.1L195.1,285.3L195.6,285.3L196.1,285.1L196.6,285.1L197.1,285.1L197.6,285.3L198.1,285.2L198.6,285.0L199.1,285.3L199.7,285.3L200.2,285.1L200.7,285.3L201.2,285.3L201.7,285.1L202.2,285.3L202.7,285.3L203.2,285.3L203.2,285.3 Z" fill="#d4887f" stroke="none"/>
<path d="M123.7,285.3L124.2,285.3L124.7,285.3L125.2,285.2L125.7,285.3L126.2,285.3L126.7,285.3L127.2,285.1L127.8,285.3L128.3,285.1L128.8,285.2L129.3,285.3L129.8,285.3L130.3,285.3L130.8,285.3L131.3,284.9L131.8,285.3L132.3,285.3L132.8,285.0L133.3,285.3L133.8,285.3L134.3,285.3L134.8,285.3L135.3,285.0L135.9,285.3L136.4,285.3L136.9,285.2L137.4,285.3L137.9,285.0L138.4,285.0L138.9,285.3L139.4,285.3L139.9,285.0L140.4,284.9L140.9,285.3L141.4,285.1L141.9,285.0L142.4,285.2L142.9,285.3L143.4,285.1L144.0,285.1L144.5,285.3L145.0,284.9L145.5,285.0L146.0,284.8L146.5,284.2L147.0,283.8L147.5,283.4L148.0,282.7L148.5,282.1L149.0,281.6L149.5,281.1L150.0,280.7L150.5,280.4L151.0,280.4L151.6,280.0L152.1,279.0L152.6,278.5L153.1,277.7L153.6,277.5L154.1,276.5L154.6,274.5L155.1,273.4L155.6,271.5L156.1,270.3L156.6,267.5L157.1,263.3L157.6,259.7L158.1,255.0L158.6,252.9L159.1,249.1L159.7,245.1L160.2,243.0L160.7,239.4L161.2,237.3L161.7,236.0L162.2,233.9L162.7,229.8L163.2,231.4L163.7,230.5L164.2,229.2L164.7,226.0L165.2,221.9L165.7,223.5L166.2,227.6L166.7,231.4L167.2,237.3L167.8,241.5L168.3,245.2L168.8,249.5L169.3,255.3L169.8,260.0L170.3,264.7L170.8,268.5L171.3,273.0L171.8,275.8L172.3,278.4L172.8,280.8L173.3,281.8L173.8,282.7L174.3,284.2L174.8,285.0L175.3,284.9L175.9,285.0L176.4,285.2L176.9,285.3L177.4,285.3L177.9,284.9L178.4,285.3L178.9,285.2L179.4,285.3L179.9,285.3L180.4,285.1L180.9,285.0L181.4,284.2L181.9,283.2L182.4,282.6L182.9,282.6L183.5,282.1L184.0,282.4L184.5,282.2L185.0,282.0L185.5,282.2L186.0,282.1L186.5,282.5L187.0,283.0L187.5,283.3L188.0,283.0L188.5,283.4L189.0,283.8L189.5,284.7L190.0,285.2L190.5,285.3L191.0,285.0L191.6,285.3L192.1,285.3L192.6,285.3L193.1,285.3L193.6,285.3L194.1,285.3L194.6,285.1L195.1,285.3L195.6,285.3L196.1,285.1L196.6,285.1L197.1,285.1L197.6,285.3L198.1,285.2L198.6,285.0L199.1,285.3L199.7,285.3L200.2,285.1L200.7,285.3L201.2,285.3L201.7,285.1L202.2,285.3L202.7,285.3L203.2,285.3" fill="none" stroke="#961a36" stroke-width="1.8" stroke-linejoin="round"/>
<path d="M123.7,285.3L124.2,285.3L124.7,285.3L125.2,285.0L125.7,285.3L126.2,285.1L126.7,285.3L127.2,285.3L127.8,285.0L128.3,285.3L128.8,285.0L129.3,285.0L129.8,285.3L130.3,285.3L130.8,285.1L131.3,285.3L131.8,285.3L132.3,285.1L132.8,285.0L133.3,285.0L133.8,285.0L134.3,285.3L134.8,285.3L135.3,285.3L135.9,284.9L136.4,285.3L136.9,285.3L137.4,285.3L137.9,285.3L138.4,285.3L138.9,285.3L139.4,285.3L139.9,285.3L140.4,285.0L140.9,285.3L141.4,285.1L141.9,285.1L142.4,285.2L142.9,285.2L143.4,285.1L144.0,285.2L144.5,285.3L145.0,285.3L145.5,285.3L146.0,285.3L146.5,284.9L147.0,285.3L147.5,285.3L148.0,285.3L148.5,285.1L149.0,285.3L149.5,285.1L150.0,285.3L150.5,285.3L151.0,285.2L151.6,285.3L152.1,285.3L152.6,285.3L153.1,285.3L153.6,285.1L154.1,284.6L154.6,283.1L155.1,282.5L155.6,281.5L156.1,281.2L156.6,280.0L157.1,279.4L157.6,278.9L158.1,278.2L158.6,277.4L159.1,276.9L159.7,275.9L160.2,274.6L160.7,274.4L161.2,272.6L161.7,272.0L162.2,270.9L162.7,269.5L163.2,268.7L163.7,268.3L164.2,267.1L164.7,266.5L165.2,265.5L165.7,263.0L166.2,262.6L166.7,260.9L167.2,260.1L167.8,259.7L168.3,256.9L168.8,255.4L169.3,254.8L169.8,254.4L170.3,253.3L170.8,253.1L171.3,252.4L171.8,253.1L172.3,253.6L172.8,256.0L173.3,260.4L173.8,262.2L174.3,265.5L174.8,268.4L175.3,270.1L175.9,273.2L176.4,274.4L176.9,275.8L177.4,274.0L177.9,273.7L178.4,272.7L178.9,269.9L179.4,268.0L179.9,266.0L180.4,264.2L180.9,264.1L181.4,264.8L181.9,265.1L182.4,264.5L182.9,263.6L183.5,262.0L184.0,257.9L184.5,254.2L185.0,249.2L185.5,246.7L186.0,240.1L186.5,237.2L187.0,231.1L187.5,227.5L188.0,225.2L188.5,223.5L189.0,227.8L189.5,230.3L190.0,236.4L190.5,244.3L191.0,252.6L191.6,256.9L192.1,261.1L192.6,266.4L193.1,271.3L193.6,275.6L194.1,278.6L194.6,280.9L195.1,283.0L195.6,284.1L196.1,284.4L196.6,284.9L197.1,285.3L197.6,284.9L198.1,285.2L198.6,285.3L199.1,285.3L199.7,285.3L200.2,285.1L200.7,285.3L201.2,285.3L201.7,285.1L202.2,285.0L202.7,285.3L203.2,285.3" fill="none" stroke="#323f5e" stroke-width="1.6" stroke-linejoin="round"/>
</g>
<rect x="123.70" y="222.50" width="79.50" height="62.80" fill="none" stroke="#000" stroke-width="1.7"/>
<path d="M122.85,285.30h-1.7M122.85,283.60h-1.7M122.85,281.90h-1.7M122.85,280.19h-1.7M122.85,278.49h-1.7M122.85,276.79h-1.7M122.85,275.09h-1.7M122.85,273.39h-1.7M122.85,271.68h-1.7M122.85,269.98h-1.7M122.85,268.28h-1.7M122.85,266.58h-1.7M122.85,264.88h-1.7M122.85,263.18h-1.7M122.85,261.47h-1.7M122.85,259.77h-1.7M122.85,258.07h-1.7M122.85,256.37h-1.7M122.85,254.67h-1.7M122.85,252.96h-1.7M122.85,251.26h-1.7M122.85,249.56h-1.7M122.85,247.86h-1.7M122.85,246.16h-1.7M122.85,244.45h-1.7M122.85,242.75h-1.7M122.85,241.05h-1.7M122.85,239.35h-1.7M122.85,237.65h-1.7M122.85,235.94h-1.7M122.85,234.24h-1.7M122.85,232.54h-1.7M122.85,230.84h-1.7M122.85,229.14h-1.7M122.85,227.44h-1.7M122.85,225.73h-1.7M122.85,224.03h-1.7" stroke="#000" stroke-width="1.0" fill="none"/>
<path d="M122.85,285.30h-2.8M122.85,268.28h-2.8M122.85,251.26h-2.8M122.85,234.24h-2.8" stroke="#000" stroke-width="1.3" fill="none"/>
<path d="M129.68,286.15v1.7M133.18,286.15v1.7M135.67,286.15v1.7M137.59,286.15v1.7M139.17,286.15v1.7M140.50,286.15v1.7M141.65,286.15v1.7M142.67,286.15v1.7M149.56,286.15v1.7M153.06,286.15v1.7M155.54,286.15v1.7M157.47,286.15v1.7M159.04,286.15v1.7M160.37,286.15v1.7M161.52,286.15v1.7M162.54,286.15v1.7M169.43,286.15v1.7M172.93,286.15v1.7M175.42,286.15v1.7M177.34,286.15v1.7M178.92,286.15v1.7M180.25,286.15v1.7M181.40,286.15v1.7M182.42,286.15v1.7M189.31,286.15v1.7M192.81,286.15v1.7M195.29,286.15v1.7M197.22,286.15v1.7M198.79,286.15v1.7M200.12,286.15v1.7M201.27,286.15v1.7M202.29,286.15v1.7" stroke="#000" stroke-width="1.0" fill="none"/>
<path d="M123.70,286.15v2.8M143.57,286.15v2.8M163.45,286.15v2.8M183.32,286.15v2.8M203.20,286.15v2.8" stroke="#000" stroke-width="1.2" fill="none"/>
<text x="117.90" y="288.00" font-size="7.5" text-anchor="end" stroke="#000" stroke-width="0.25">0</text>
<text x="117.90" y="270.98" font-size="7.5" text-anchor="end" stroke="#000" stroke-width="0.25">10</text>
<text x="117.90" y="253.96" font-size="7.5" text-anchor="end" stroke="#000" stroke-width="0.25">20</text>
<text x="117.90" y="236.94" font-size="7.5" text-anchor="end" stroke="#000" stroke-width="0.25">30</text>
<text x="123.10" y="298.50" font-size="7.4" text-anchor="middle" stroke="#000" stroke-width="0.25">10</text>
<text x="127.60" y="296.00" font-size="4.2" stroke="#000" stroke-width="0.15">0</text>
<text x="142.58" y="298.50" font-size="7.4" text-anchor="middle" stroke="#000" stroke-width="0.25">10</text>
<text x="147.08" y="296.00" font-size="4.2" stroke="#000" stroke-width="0.15">1</text>
<text x="162.05" y="298.50" font-size="7.4" text-anchor="middle" stroke="#000" stroke-width="0.25">10</text>
<text x="166.55" y="296.00" font-size="4.2" stroke="#000" stroke-width="0.15">2</text>
<text x="181.53" y="298.50" font-size="7.4" text-anchor="middle" stroke="#000" stroke-width="0.25">10</text>
<text x="186.03" y="296.00" font-size="4.2" stroke="#000" stroke-width="0.15">3</text>
<text x="201.00" y="298.50" font-size="7.4" text-anchor="middle" stroke="#000" stroke-width="0.25">10</text>
<text x="205.50" y="296.00" font-size="4.2" stroke="#000" stroke-width="0.15">4</text>
<text x="103.36" y="253.90" font-size="10.6" text-anchor="middle" textLength="30.50" lengthAdjust="spacingAndGlyphs" transform="rotate(-90 103.36 253.90)" stroke="#000" stroke-width="0.1">Counts</text>
<clipPath id="c252_222"><rect x="252.50" y="221.50" width="78.70" height="63.80"/></clipPath>
<g clip-path="url(#c252_222)">
<path d="M252.5,285.3L252.5,285.3L253.0,285.3L253.5,285.3L254.0,285.3L254.5,285.3L255.0,285.3L255.5,285.3L256.0,285.3L256.5,285.3L257.0,285.3L257.5,285.3L258.0,285.3L258.6,285.3L259.1,285.3L259.6,285.3L260.1,285.3L260.6,285.3L261.1,285.3L261.6,285.3L262.1,285.3L262.6,285.3L263.1,285.3L263.6,285.3L264.1,285.3L264.6,285.3L265.1,285.3L265.6,285.3L266.1,285.3L266.6,285.3L267.1,285.3L267.6,285.3L268.1,285.3L268.6,285.3L269.1,285.3L269.7,285.3L270.2,285.3L270.7,285.3L271.2,285.3L271.7,285.3L272.2,285.3L272.7,285.3L273.2,285.3L273.7,285.3L274.2,285.3L274.7,285.3L275.2,285.3L275.7,285.2L276.2,285.0L276.7,284.7L277.2,284.4L277.7,284.0L278.2,283.5L278.7,282.9L279.2,282.4L279.7,281.8L280.2,281.0L280.8,280.1L281.3,279.0L281.8,277.8L282.3,276.4L282.8,274.9L283.3,273.1L283.8,271.0L284.3,268.6L284.8,265.8L285.3,261.8L285.8,257.2L286.3,252.4L286.8,247.5L287.3,242.2L287.8,237.2L288.3,232.5L288.8,227.9L289.3,224.9L289.8,223.2L290.3,222.5L290.8,223.8L291.3,226.4L291.8,229.4L292.4,233.6L292.9,238.5L293.4,243.2L293.9,248.3L294.4,253.0L294.9,257.2L295.4,261.2L295.9,264.6L296.4,267.4L296.9,269.9L297.4,272.1L297.9,274.2L298.4,276.4L298.9,278.7L299.4,280.6L299.9,282.0L300.4,283.2L300.9,284.1L301.4,284.6L301.9,284.9L302.4,285.1L302.9,285.2L303.5,285.3L304.0,285.3L304.5,285.3L305.0,285.3L305.5,285.3L306.0,285.3L306.5,285.3L307.0,285.3L307.5,285.3L308.0,285.3L308.5,285.3L309.0,285.3L309.5,285.3L310.0,285.3L310.5,285.3L311.0,285.3L311.5,285.3L312.0,285.3L312.5,285.3L313.0,285.3L313.5,285.3L314.0,285.3L314.6,285.3L315.1,285.3L315.6,285.3L316.1,285.3L316.6,285.3L317.1,285.3L317.6,285.3L318.1,285.3L318.6,285.3L319.1,285.3L319.6,285.3L320.1,285.3L320.6,285.3L321.1,285.3L321.6,285.3L322.1,285.3L322.6,285.3L323.1,285.3L323.6,285.3L324.1,285.3L324.6,285.3L325.1,285.3L325.7,285.3L326.2,285.3L326.7,285.3L327.2,285.3L327.7,285.3L328.2,285.3L328.7,285.3L329.2,285.3L329.7,285.3L330.2,285.3L330.7,285.3L331.2,285.3L331.2,285.3 Z" fill="#d4887f" stroke="none"/>
<path d="M252.5,285.3L253.0,285.3L253.5,285.3L254.0,285.3L254.5,285.3L255.0,285.3L255.5,285.3L256.0,285.3L256.5,285.3L257.0,285.3L257.5,285.3L258.0,285.3L258.6,285.3L259.1,285.3L259.6,285.3L260.1,285.3L260.6,285.3L261.1,285.3L261.6,285.3L262.1,285.3L262.6,285.3L263.1,285.3L263.6,285.3L264.1,285.3L264.6,285.3L265.1,285.3L265.6,285.3L266.1,285.3L266.6,285.3L267.1,285.3L267.6,285.3L268.1,285.3L268.6,285.3L269.1,285.3L269.7,285.3L270.2,285.3L270.7,285.3L271.2,285.3L271.7,285.3L272.2,285.3L272.7,285.3L273.2,285.3L273.7,285.3L274.2,285.3L274.7,285.3L275.2,285.3L275.7,285.2L276.2,285.0L276.7,284.7L277.2,284.4L277.7,284.0L278.2,283.5L278.7,282.9L279.2,282.4L279.7,281.8L280.2,281.0L280.8,280.1L281.3,279.0L281.8,277.8L282.3,276.4L282.8,274.9L283.3,273.1L283.8,271.0L284.3,268.6L284.8,265.8L285.3,261.8L285.8,257.2L286.3,252.4L286.8,247.5L287.3,242.2L287.8,237.2L288.3,232.5L288.8,227.9L289.3,224.9L289.8,223.2L290.3,222.5L290.8,223.8L291.3,226.4L291.8,229.4L292.4,233.6L292.9,238.5L293.4,243.2L293.9,248.3L294.4,253.0L294.9,257.2L295.4,261.2L295.9,264.6L296.4,267.4L296.9,269.9L297.4,272.1L297.9,274.2L298.4,276.4L298.9,278.7L299.4,280.6L299.9,282.0L300.4,283.2L300.9,284.1L301.4,284.6L301.9,284.9L302.4,285.1L302.9,285.2L303.5,285.3L304.0,285.3L304.5,285.3L305.0,285.3L305.5,285.3L306.0,285.3L306.5,285.3L307.0,285.3L307.5,285.3L308.0,285.3L308.5,285.3L309.0,285.3L309.5,285.3L310.0,285.3L310.5,285.3L311.0,285.3L311.5,285.3L312.0,285.3L312.5,285.3L313.0,285.3L313.5,285.3L314.0,285.3L314.6,285.3L315.1,285.3L315.6,285.3L316.1,285.3L316.6,285.3L317.1,285.3L317.6,285.3L318.1,285.3L318.6,285.3L319.1,285.3L319.6,285.3L320.1,285.3L320.6,285.3L321.1,285.3L321.6,285.3L322.1,285.3L322.6,285.3L323.1,285.3L323.6,285.3L324.1,285.3L324.6,285.3L325.1,285.3L325.7,285.3L326.2,285.3L326.7,285.3L327.2,285.3L327.7,285.3L328.2,285.3L328.7,285.3L329.2,285.3L329.7,285.3L330.2,285.3L330.7,285.3L331.2,285.3" fill="none" stroke="#961a36" stroke-width="1.8" stroke-linejoin="round"/>
<path d="M252.5,285.1L253.0,285.3L253.5,285.3L254.0,285.3L254.5,284.9L255.0,285.0L255.5,284.7L256.0,285.3L256.5,285.3L257.0,285.3L257.5,285.3L258.0,285.3L258.6,285.3L259.1,285.3L259.6,285.1L260.1,285.2L260.6,285.3L261.1,285.2L261.6,284.8L262.1,285.3L262.6,284.8L263.1,285.0L263.6,285.3L264.1,285.3L264.6,284.6L265.1,285.3L265.6,285.3L266.1,285.3L266.6,284.8L267.1,285.1L267.6,284.8L268.1,285.0L268.6,285.2L269.1,284.6L269.7,285.3L270.2,285.2L270.7,284.8L271.2,285.1L271.7,284.8L272.2,285.2L272.7,285.0L273.2,285.3L273.7,285.3L274.2,285.3L274.7,285.3L275.2,285.3L275.7,285.3L276.2,285.3L276.7,285.1L277.2,285.3L277.7,285.3L278.2,285.3L278.7,285.3L279.2,284.6L279.7,285.1L280.2,285.1L280.8,285.3L281.3,285.0L281.8,285.3L282.3,285.1L282.8,283.4L283.3,283.1L283.8,282.2L284.3,281.0L284.8,279.9L285.3,279.2L285.8,279.4L286.3,279.0L286.8,277.8L287.3,277.5L287.8,277.4L288.3,275.6L288.8,275.6L289.3,276.7L289.8,275.8L290.3,276.2L290.8,274.7L291.3,275.5L291.8,275.6L292.4,275.2L292.9,274.0L293.4,274.2L293.9,272.8L294.4,271.4L294.9,271.8L295.4,271.4L295.9,268.1L296.4,267.8L296.9,267.3L297.4,265.9L297.9,264.0L298.4,260.7L298.9,259.2L299.4,260.1L299.9,261.1L300.4,260.1L300.9,258.4L301.4,260.8L301.9,260.1L302.4,261.0L302.9,264.3L303.5,262.3L304.0,262.8L304.5,263.6L305.0,264.8L305.5,263.9L306.0,265.9L306.5,265.2L307.0,265.3L307.5,263.8L308.0,264.0L308.5,265.9L309.0,265.2L309.5,266.2L310.0,263.9L310.5,264.2L311.0,266.2L311.5,265.6L312.0,266.2L312.5,268.2L313.0,267.8L313.5,270.4L314.0,271.3L314.6,272.6L315.1,274.4L315.6,274.0L316.1,275.5L316.6,274.7L317.1,276.5L317.6,278.2L318.1,280.7L318.6,282.7L319.1,282.6L319.6,283.6L320.1,285.3L320.6,285.3L321.1,285.3L321.6,284.9L322.1,284.9L322.6,285.3L323.1,285.3L323.6,285.2L324.1,285.3L324.6,284.7L325.1,285.3L325.7,285.3L326.2,285.2L326.7,285.0L327.2,285.3L327.7,285.3L328.2,284.6L328.7,285.1L329.2,285.3L329.7,285.3L330.2,285.3L330.7,285.3L331.2,285.3" fill="none" stroke="#323f5e" stroke-width="1.6" stroke-linejoin="round"/>
</g>
<rect x="252.50" y="222.50" width="78.70" height="62.80" fill="none" stroke="#000" stroke-width="1.7"/>
<path d="M251.65,285.30h-1.7M251.65,283.23h-1.7M251.65,281.15h-1.7M251.65,279.08h-1.7M251.65,277.01h-1.7M251.65,274.94h-1.7M251.65,272.86h-1.7M251.65,270.79h-1.7M251.65,268.72h-1.7M251.65,266.65h-1.7M251.65,264.57h-1.7M251.65,262.50h-1.7M251.65,260.43h-1.7M251.65,258.36h-1.7M251.65,256.28h-1.7M251.65,254.21h-1.7M251.65,252.14h-1.7M251.65,250.07h-1.7M251.65,247.99h-1.7M251.65,245.92h-1.7M251.65,243.85h-1.7M251.65,241.78h-1.7M251.65,239.70h-1.7M251.65,237.63h-1.7M251.65,235.56h-1.7M251.65,233.48h-1.7M251.65,231.41h-1.7M251.65,229.34h-1.7M251.65,227.27h-1.7M251.65,225.19h-1.7M251.65,223.12h-1.7" stroke="#000" stroke-width="1.0" fill="none"/>
<path d="M251.65,285.30h-2.8M251.65,274.94h-2.8M251.65,264.57h-2.8M251.65,254.21h-2.8M251.65,243.85h-2.8M251.65,233.48h-2.8M251.65,223.12h-2.8" stroke="#000" stroke-width="1.3" fill="none"/>
<path d="M258.42,286.15v1.7M261.89,286.15v1.7M264.35,286.15v1.7M266.25,286.15v1.7M267.81,286.15v1.7M269.13,286.15v1.7M270.27,286.15v1.7M271.27,286.15v1.7M278.10,286.15v1.7M281.56,286.15v1.7M284.02,286.15v1.7M285.93,286.15v1.7M287.49,286.15v1.7M288.80,286.15v1.7M289.94,286.15v1.7M290.95,286.15v1.7M297.77,286.15v1.7M301.24,286.15v1.7M303.70,286.15v1.7M305.60,286.15v1.7M307.16,286.15v1.7M308.48,286.15v1.7M309.62,286.15v1.7M310.62,286.15v1.7M317.45,286.15v1.7M320.91,286.15v1.7M323.37,286.15v1.7M325.28,286.15v1.7M326.84,286.15v1.7M328.15,286.15v1.7M329.29,286.15v1.7M330.30,286.15v1.7" stroke="#000" stroke-width="1.0" fill="none"/>
<path d="M252.50,286.15v2.8M272.18,286.15v2.8M291.85,286.15v2.8M311.52,286.15v2.8M331.20,286.15v2.8" stroke="#000" stroke-width="1.2" fill="none"/>
<text x="246.70" y="288.00" font-size="7.5" text-anchor="end" stroke="#000" stroke-width="0.25">0</text>
<text x="246.70" y="277.64" font-size="7.5" text-anchor="end" stroke="#000" stroke-width="0.25">5</text>
<text x="246.70" y="267.27" font-size="7.5" text-anchor="end" stroke="#000" stroke-width="0.25">10</text>
<text x="246.70" y="256.91" font-size="7.5" text-anchor="end" stroke="#000" stroke-width="0.25">15</text>
<text x="246.70" y="246.55" font-size="7.5" text-anchor="end" stroke="#000" stroke-width="0.25">20</text>
<text x="246.70" y="236.18" font-size="7.5" text-anchor="end" stroke="#000" stroke-width="0.25">25</text>
<text x="246.70" y="225.82" font-size="7.5" text-anchor="end" stroke="#000" stroke-width="0.25">30</text>
<text x="251.90" y="298.50" font-size="7.4" text-anchor="middle" stroke="#000" stroke-width="0.25">10</text>
<text x="256.40" y="296.00" font-size="4.2" stroke="#000" stroke-width="0.15">0</text>
<text x="271.18" y="298.50" font-size="7.4" text-anchor="middle" stroke="#000" stroke-width="0.25">10</text>
<text x="275.68" y="296.00" font-size="4.2" stroke="#000" stroke-width="0.15">1</text>
<text x="290.45" y="298.50" font-size="7.4" text-anchor="middle" stroke="#000" stroke-width="0.25">10</text>
<text x="294.95" y="296.00" font-size="4.2" stroke="#000" stroke-width="0.15">2</text>
<text x="309.73" y="298.50" font-size="7.4" text-anchor="middle" stroke="#000" stroke-width="0.25">10</text>
<text x="314.23" y="296.00" font-size="4.2" stroke="#000" stroke-width="0.15">3</text>
<text x="329.00" y="298.50" font-size="7.4" text-anchor="middle" stroke="#000" stroke-width="0.25">10</text>
<text x="333.50" y="296.00" font-size="4.2" stroke="#000" stroke-width="0.15">4</text>
<text x="232.16" y="253.90" font-size="10.6" text-anchor="middle" textLength="30.50" lengthAdjust="spacingAndGlyphs" transform="rotate(-90 232.16 253.90)" stroke="#000" stroke-width="0.1">Counts</text>
<clipPath id="c381_222"><rect x="381.00" y="221.50" width="79.00" height="63.80"/></clipPath>
<g clip-path="url(#c381_222)">
<path d="M381.0,285.3L381.0,285.3L381.5,285.3L382.0,285.3L382.5,285.3L383.0,285.3L383.5,285.3L384.0,285.3L384.5,285.3L385.0,285.3L385.5,285.3L386.0,285.3L386.5,285.3L387.0,285.3L387.5,285.3L388.0,285.3L388.5,285.3L389.1,285.3L389.6,285.3L390.1,285.3L390.6,285.3L391.1,285.3L391.6,285.3L392.1,285.3L392.6,285.3L393.1,285.3L393.6,285.3L394.1,285.3L394.6,285.3L395.1,285.3L395.6,285.3L396.1,285.3L396.6,285.2L397.1,285.1L397.6,285.0L398.1,284.8L398.6,284.6L399.1,284.3L399.6,284.1L400.1,283.8L400.6,283.5L401.1,283.1L401.6,282.6L402.1,282.0L402.6,281.3L403.1,280.6L403.6,279.8L404.1,279.0L404.6,278.1L405.2,277.2L405.7,276.3L406.2,275.3L406.7,274.1L407.2,272.9L407.7,271.5L408.2,270.0L408.7,268.2L409.2,266.2L409.7,263.9L410.2,261.2L410.7,257.7L411.2,253.6L411.7,249.2L412.2,244.6L412.7,239.6L413.2,234.7L413.7,230.6L414.2,226.8L414.7,224.5L415.2,223.2L415.7,223.9L416.2,227.1L416.7,231.1L417.2,236.3L417.7,242.7L418.2,248.5L418.7,254.2L419.2,259.5L419.7,264.4L420.2,269.2L420.8,273.1L421.3,276.0L421.8,278.6L422.3,280.6L422.8,281.6L423.3,282.2L423.8,282.6L424.3,282.9L424.8,283.2L425.3,283.4L425.8,283.7L426.3,284.0L426.8,284.2L427.3,284.4L427.8,284.7L428.3,284.9L428.8,285.2L429.3,285.3L429.8,285.3L430.3,285.3L430.8,285.3L431.3,285.3L431.8,285.3L432.3,285.3L432.8,285.3L433.3,285.3L433.8,285.3L434.3,285.3L434.8,285.3L435.3,285.3L435.8,285.3L436.4,285.3L436.9,285.3L437.4,285.3L437.9,285.3L438.4,285.3L438.9,285.3L439.4,285.3L439.9,285.3L440.4,285.3L440.9,285.3L441.4,285.3L441.9,285.3L442.4,285.3L442.9,285.3L443.4,285.3L443.9,285.3L444.4,285.3L444.9,285.3L445.4,285.3L445.9,285.3L446.4,285.3L446.9,285.3L447.4,285.3L447.9,285.3L448.4,285.3L448.9,285.3L449.4,285.3L449.9,285.3L450.4,285.3L450.9,285.3L451.4,285.3L451.9,285.3L452.5,285.3L453.0,285.3L453.5,285.3L454.0,285.3L454.5,285.3L455.0,285.3L455.5,285.3L456.0,285.3L456.5,285.3L457.0,285.3L457.5,285.3L458.0,285.3L458.5,285.3L459.0,285.3L459.5,285.3L460.0,285.3L460.0,285.3 Z" fill="#d4887f" stroke="none"/>
<path d="M381.0,285.3L381.5,285.3L382.0,285.3L382.5,285.3L383.0,285.3L383.5,285.3L384.0,285.3L384.5,285.3L385.0,285.3L385.5,285.3L386.0,285.3L386.5,285.3L387.0,285.3L387.5,285.3L388.0,285.3L388.5,285.3L389.1,285.3L389.6,285.3L390.1,285.3L390.6,285.3L391.1,285.3L391.6,285.3L392.1,285.3L392.6,285.3L393.1,285.3L393.6,285.3L394.1,285.3L394.6,285.3L395.1,285.3L395.6,285.3L396.1,285.3L396.6,285.2L397.1,285.1L397.6,285.0L398.1,284.8L398.6,284.6L399.1,284.3L399.6,284.1L400.1,283.8L400.6,283.5L401.1,283.1L401.6,282.6L402.1,282.0L402.6,281.3L403.1,280.6L403.6,279.8L404.1,279.0L404.6,278.1L405.2,277.2L405.7,276.3L406.2,275.3L406.7,274.1L407.2,272.9L407.7,271.5L408.2,270.0L408.7,268.2L409.2,266.2L409.7,263.9L410.2,261.2L410.7,257.7L411.2,253.6L411.7,249.2L412.2,244.6L412.7,239.6L413.2,234.7L413.7,230.6L414.2,226.8L414.7,224.5L415.2,223.2L415.7,223.9L416.2,227.1L416.7,231.1L417.2,236.3L417.7,242.7L418.2,248.5L418.7,254.2L419.2,259.5L419.7,264.4L420.2,269.2L420.8,273.1L421.3,276.0L421.8,278.6L422.3,280.6L422.8,281.6L423.3,282.2L423.8,282.6L424.3,282.9L424.8,283.2L425.3,283.4L425.8,283.7L426.3,284.0L426.8,284.2L427.3,284.4L427.8,284.7L428.3,284.9L428.8,285.2L429.3,285.3L429.8,285.3L430.3,285.3L430.8,285.3L431.3,285.3L431.8,285.3L432.3,285.3L432.8,285.3L433.3,285.3L433.8,285.3L434.3,285.3L434.8,285.3L435.3,285.3L435.8,285.3L436.4,285.3L436.9,285.3L437.4,285.3L437.9,285.3L438.4,285.3L438.9,285.3L439.4,285.3L439.9,285.3L440.4,285.3L440.9,285.3L441.4,285.3L441.9,285.3L442.4,285.3L442.9,285.3L443.4,285.3L443.9,285.3L444.4,285.3L444.9,285.3L445.4,285.3L445.9,285.3L446.4,285.3L446.9,285.3L447.4,285.3L447.9,285.3L448.4,285.3L448.9,285.3L449.4,285.3L449.9,285.3L450.4,285.3L450.9,285.3L451.4,285.3L451.9,285.3L452.5,285.3L453.0,285.3L453.5,285.3L454.0,285.3L454.5,285.3L455.0,285.3L455.5,285.3L456.0,285.3L456.5,285.3L457.0,285.3L457.5,285.3L458.0,285.3L458.5,285.3L459.0,285.3L459.5,285.3L460.0,285.3" fill="none" stroke="#961a36" stroke-width="1.8" stroke-linejoin="round"/>
<path d="M381.0,284.8L381.5,285.3L382.0,285.0L382.5,285.3L383.0,284.8L383.5,285.3L384.0,284.8L384.5,285.3L385.0,284.7L385.5,285.3L386.0,285.3L386.5,285.3L387.0,285.2L387.5,285.3L388.0,285.3L388.5,285.3L389.1,285.3L389.6,285.3L390.1,285.3L390.6,285.3L391.1,285.0L391.6,285.3L392.1,284.9L392.6,284.8L393.1,284.9L393.6,284.8L394.1,285.2L394.6,285.1L395.1,284.9L395.6,285.3L396.1,285.3L396.6,285.3L397.1,285.3L397.6,285.3L398.1,285.3L398.6,285.3L399.1,285.1L399.6,284.9L400.1,285.1L400.6,285.3L401.1,285.3L401.6,285.3L402.1,285.1L402.6,285.3L403.1,285.3L403.6,285.3L404.1,285.3L404.6,285.3L405.2,285.3L405.7,285.2L406.2,285.3L406.7,285.2L407.2,285.3L407.7,285.2L408.2,285.0L408.7,285.0L409.2,285.3L409.7,284.3L410.2,283.9L410.7,283.3L411.2,283.1L411.7,281.7L412.2,281.1L412.7,281.1L413.2,279.7L413.7,278.6L414.2,277.7L414.7,276.4L415.2,275.7L415.7,273.8L416.2,272.9L416.7,269.6L417.2,268.4L417.7,264.6L418.2,261.3L418.7,260.0L419.2,258.8L419.7,257.0L420.2,255.1L420.8,256.7L421.3,255.9L421.8,257.2L422.3,258.2L422.8,258.5L423.3,260.7L423.8,260.7L424.3,262.4L424.8,261.7L425.3,261.6L425.8,263.6L426.3,262.7L426.8,262.5L427.3,264.7L427.8,265.6L428.3,266.2L428.8,265.6L429.3,267.9L429.8,267.0L430.3,268.7L430.8,268.3L431.3,268.6L431.8,269.3L432.3,271.3L432.8,271.3L433.3,272.5L433.8,272.2L434.3,274.1L434.8,275.1L435.3,275.6L435.8,277.0L436.4,277.7L436.9,277.7L437.4,279.0L437.9,279.9L438.4,279.5L438.9,281.1L439.4,280.8L439.9,281.5L440.4,282.0L440.9,282.3L441.4,282.7L441.9,282.7L442.4,283.3L442.9,284.3L443.4,284.2L443.9,284.7L444.4,284.5L444.9,285.3L445.4,285.3L445.9,284.8L446.4,285.3L446.9,285.0L447.4,284.8L447.9,285.2L448.4,285.3L448.9,285.0L449.4,285.3L449.9,285.3L450.4,284.9L450.9,285.3L451.4,285.3L451.9,285.3L452.5,285.3L453.0,285.3L453.5,285.1L454.0,284.9L454.5,285.3L455.0,285.3L455.5,285.0L456.0,285.0L456.5,285.3L457.0,285.3L457.5,285.1L458.0,285.3L458.5,284.7L459.0,284.8L459.5,284.8L460.0,285.3" fill="none" stroke="#323f5e" stroke-width="1.6" stroke-linejoin="round"/>
</g>
<rect x="381.00" y="222.50" width="79.00" height="62.80" fill="none" stroke="#000" stroke-width="1.7"/>
<path d="M380.15,285.30h-1.7M380.15,283.74h-1.7M380.15,282.18h-1.7M380.15,280.63h-1.7M380.15,279.07h-1.7M380.15,277.51h-1.7M380.15,275.95h-1.7M380.15,274.39h-1.7M380.15,272.83h-1.7M380.15,271.28h-1.7M380.15,269.72h-1.7M380.15,268.16h-1.7M380.15,266.60h-1.7M380.15,265.04h-1.7M380.15,263.48h-1.7M380.15,261.93h-1.7M380.15,260.37h-1.7M380.15,258.81h-1.7M380.15,257.25h-1.7M380.15,255.69h-1.7M380.15,254.13h-1.7M380.15,252.58h-1.7M380.15,251.02h-1.7M380.15,249.46h-1.7M380.15,247.90h-1.7M380.15,246.34h-1.7M380.15,244.78h-1.7M380.15,243.23h-1.7M380.15,241.67h-1.7M380.15,240.11h-1.7M380.15,238.55h-1.7M380.15,236.99h-1.7M380.15,235.43h-1.7M380.15,233.88h-1.7M380.15,232.32h-1.7M380.15,230.76h-1.7M380.15,229.20h-1.7M380.15,227.64h-1.7M380.15,226.08h-1.7M380.15,224.53h-1.7M380.15,222.97h-1.7" stroke="#000" stroke-width="1.0" fill="none"/>
<path d="M380.15,285.30h-2.8M380.15,269.72h-2.8M380.15,254.13h-2.8M380.15,238.55h-2.8M380.15,222.97h-2.8" stroke="#000" stroke-width="1.3" fill="none"/>
<path d="M386.95,286.15v1.7M390.42,286.15v1.7M392.89,286.15v1.7M394.80,286.15v1.7M396.37,286.15v1.7M397.69,286.15v1.7M398.84,286.15v1.7M399.85,286.15v1.7M406.70,286.15v1.7M410.17,286.15v1.7M412.64,286.15v1.7M414.55,286.15v1.7M416.12,286.15v1.7M417.44,286.15v1.7M418.59,286.15v1.7M419.60,286.15v1.7M426.45,286.15v1.7M429.92,286.15v1.7M432.39,286.15v1.7M434.30,286.15v1.7M435.87,286.15v1.7M437.19,286.15v1.7M438.34,286.15v1.7M439.35,286.15v1.7M446.20,286.15v1.7M449.67,286.15v1.7M452.14,286.15v1.7M454.05,286.15v1.7M455.62,286.15v1.7M456.94,286.15v1.7M458.09,286.15v1.7M459.10,286.15v1.7" stroke="#000" stroke-width="1.0" fill="none"/>
<path d="M381.00,286.15v2.8M400.75,286.15v2.8M420.50,286.15v2.8M440.25,286.15v2.8M460.00,286.15v2.8" stroke="#000" stroke-width="1.2" fill="none"/>
<text x="375.20" y="288.00" font-size="7.5" text-anchor="end" stroke="#000" stroke-width="0.25">0</text>
<text x="375.20" y="272.42" font-size="7.5" text-anchor="end" stroke="#000" stroke-width="0.25">10</text>
<text x="375.20" y="256.83" font-size="7.5" text-anchor="end" stroke="#000" stroke-width="0.25">20</text>
<text x="375.20" y="241.25" font-size="7.5" text-anchor="end" stroke="#000" stroke-width="0.25">30</text>
<text x="375.20" y="225.67" font-size="7.5" text-anchor="end" stroke="#000" stroke-width="0.25">40</text>
<text x="380.40" y="298.50" font-size="7.4" text-anchor="middle" stroke="#000" stroke-width="0.25">10</text>
<text x="384.90" y="296.00" font-size="4.2" stroke="#000" stroke-width="0.15">0</text>
<text x="399.75" y="298.50" font-size="7.4" text-anchor="middle" stroke="#000" stroke-width="0.25">10</text>
<text x="404.25" y="296.00" font-size="4.2" stroke="#000" stroke-width="0.15">1</text>
<text x="419.10" y="298.50" font-size="7.4" text-anchor="middle" stroke="#000" stroke-width="0.25">10</text>
<text x="423.60" y="296.00" font-size="4.2" stroke="#000" stroke-width="0.15">2</text>
<text x="438.45" y="298.50" font-size="7.4" text-anchor="middle" stroke="#000" stroke-width="0.25">10</text>
<text x="442.95" y="296.00" font-size="4.2" stroke="#000" stroke-width="0.15">3</text>
<text x="457.80" y="298.50" font-size="7.4" text-anchor="middle" stroke="#000" stroke-width="0.25">10</text>
<text x="462.30" y="296.00" font-size="4.2" stroke="#000" stroke-width="0.15">4</text>
<text x="360.66" y="253.90" font-size="10.6" text-anchor="middle" textLength="30.50" lengthAdjust="spacingAndGlyphs" transform="rotate(-90 360.66 253.90)" stroke="#000" stroke-width="0.1">Counts</text>
<clipPath id="c123_316"><rect x="123.70" y="315.00" width="79.50" height="63.40"/></clipPath>
<g clip-path="url(#c123_316)">
<path d="M123.7,378.4L123.7,378.4L124.2,378.4L124.7,378.4L125.2,378.4L125.7,378.4L126.2,378.4L126.7,378.4L127.2,378.4L127.8,378.4L128.3,378.4L128.8,378.4L129.3,378.4L129.8,378.4L130.3,378.4L130.8,378.4L131.3,378.4L131.8,378.4L132.3,378.4L132.8,378.4L133.3,378.4L133.8,378.4L134.3,378.4L134.8,378.4L135.3,378.4L135.9,378.4L136.4,378.4L136.9,378.4L137.4,378.4L137.9,378.4L138.4,378.4L138.9,378.4L139.4,378.4L139.9,378.4L140.4,378.4L140.9,378.4L141.4,378.4L141.9,378.4L142.4,378.4L142.9,378.4L143.4,378.4L144.0,378.4L144.5,378.4L145.0,378.4L145.5,378.4L146.0,378.4L146.5,378.4L147.0,378.4L147.5,378.4L148.0,378.4L148.5,378.4L149.0,378.4L149.5,378.3L150.0,378.1L150.5,377.7L151.0,377.2L151.6,376.6L152.1,375.9L152.6,375.2L153.1,374.4L153.6,373.5L154.1,372.3L154.6,370.9L155.1,369.3L155.6,367.4L156.1,364.6L156.6,361.2L157.1,357.3L157.6,353.1L158.1,348.2L158.6,343.2L159.1,338.5L159.7,333.7L160.2,329.2L160.7,325.4L161.2,321.9L161.7,318.8L162.2,317.3L162.7,317.2L163.2,317.2L163.7,317.3L164.2,319.4L164.7,323.2L165.2,326.8L165.7,330.8L166.2,335.2L166.7,340.3L167.2,346.9L167.8,353.3L168.3,358.5L168.8,363.2L169.3,367.0L169.8,369.7L170.3,371.9L170.8,373.6L171.3,374.9L171.8,375.8L172.3,376.7L172.8,377.3L173.3,377.7L173.8,378.0L174.3,378.2L174.8,378.3L175.3,378.4L175.9,378.4L176.4,378.4L176.9,378.4L177.4,378.4L177.9,378.4L178.4,378.4L178.9,378.4L179.4,378.4L179.9,378.4L180.4,378.4L180.9,378.4L181.4,378.4L181.9,378.4L182.4,378.4L182.9,378.4L183.5,378.4L184.0,378.4L184.5,378.4L185.0,378.4L185.5,378.4L186.0,378.4L186.5,378.4L187.0,378.4L187.5,378.4L188.0,378.4L188.5,378.4L189.0,378.4L189.5,378.4L190.0,378.4L190.5,378.4L191.0,378.4L191.6,378.4L192.1,378.4L192.6,378.4L193.1,378.4L193.6,378.4L194.1,378.4L194.6,378.4L195.1,378.4L195.6,378.4L196.1,378.4L196.6,378.4L197.1,378.4L197.6,378.4L198.1,378.4L198.6,378.4L199.1,378.4L199.7,378.4L200.2,378.4L200.7,378.4L201.2,378.4L201.7,378.4L202.2,378.4L202.7,378.4L203.2,378.4L203.2,378.4 Z" fill="#d4887f" stroke="none"/>
<path d="M123.7,378.4L124.2,378.4L124.7,378.4L125.2,378.4L125.7,378.4L126.2,378.4L126.7,378.4L127.2,378.4L127.8,378.4L128.3,378.4L128.8,378.4L129.3,378.4L129.8,378.4L130.3,378.4L130.8,378.4L131.3,378.4L131.8,378.4L132.3,378.4L132.8,378.4L133.3,378.4L133.8,378.4L134.3,378.4L134.8,378.4L135.3,378.4L135.9,378.4L136.4,378.4L136.9,378.4L137.4,378.4L137.9,378.4L138.4,378.4L138.9,378.4L139.4,378.4L139.9,378.4L140.4,378.4L140.9,378.4L141.4,378.4L141.9,378.4L142.4,378.4L142.9,378.4L143.4,378.4L144.0,378.4L144.5,378.4L145.0,378.4L145.5,378.4L146.0,378.4L146.5,378.4L147.0,378.4L147.5,378.4L148.0,378.4L148.5,378.4L149.0,378.4L149.5,378.3L150.0,378.1L150.5,377.7L151.0,377.2L151.6,376.6L152.1,375.9L152.6,375.2L153.1,374.4L153.6,373.5L154.1,372.3L154.6,370.9L155.1,369.3L155.6,367.4L156.1,364.6L156.6,361.2L157.1,357.3L157.6,353.1L158.1,348.2L158.6,343.2L159.1,338.5L159.7,333.7L160.2,329.2L160.7,325.4L161.2,321.9L161.7,318.8L162.2,317.3L162.7,317.2L163.2,317.2L163.7,317.3L164.2,319.4L164.7,323.2L165.2,326.8L165.7,330.8L166.2,335.2L166.7,340.3L167.2,346.9L167.8,353.3L168.3,358.5L168.8,363.2L169.3,367.0L169.8,369.7L170.3,371.9L170.8,373.6L171.3,374.9L171.8,375.8L172.3,376.7L172.8,377.3L173.3,377.7L173.8,378.0L174.3,378.2L174.8,378.3L175.3,378.4L175.9,378.4L176.4,378.4L176.9,378.4L177.4,378.4L177.9,378.4L178.4,378.4L178.9,378.4L179.4,378.4L179.9,378.4L180.4,378.4L180.9,378.4L181.4,378.4L181.9,378.4L182.4,378.4L182.9,378.4L183.5,378.4L184.0,378.4L184.5,378.4L185.0,378.4L185.5,378.4L186.0,378.4L186.5,378.4L187.0,378.4L187.5,378.4L188.0,378.4L188.5,378.4L189.0,378.4L189.5,378.4L190.0,378.4L190.5,378.4L191.0,378.4L191.6,378.4L192.1,378.4L192.6,378.4L193.1,378.4L193.6,378.4L194.1,378.4L194.6,378.4L195.1,378.4L195.6,378.4L196.1,378.4L196.6,378.4L197.1,378.4L197.6,378.4L198.1,378.4L198.6,378.4L199.1,378.4L199.7,378.4L200.2,378.4L200.7,378.4L201.2,378.4L201.7,378.4L202.2,378.4L202.7,378.4L203.2,378.4" fill="none" stroke="#961a36" stroke-width="1.8" stroke-linejoin="round"/>
<path d="M123.7,378.4L124.2,378.4L124.7,378.4L125.2,378.4L125.7,378.4L126.2,378.4L126.7,378.4L127.2,378.4L127.8,378.4L128.3,378.4L128.8,378.4L129.3,378.4L129.8,378.4L130.3,378.4L130.8,378.4L131.3,378.4L131.8,378.4L132.3,378.4L132.8,378.4L133.3,378.4L133.8,378.4L134.3,378.4L134.8,378.4L135.3,378.4L135.9,378.4L136.4,378.4L136.9,378.4L137.4,378.4L137.9,378.4L138.4,378.4L138.9,378.4L139.4,378.4L139.9,378.4L140.4,378.4L140.9,378.4L141.4,378.4L141.9,378.4L142.4,378.4L142.9,378.4L143.4,378.4L144.0,378.4L144.5,378.4L145.0,378.4L145.5,378.4L146.0,378.4L146.5,378.4L147.0,378.4L147.5,378.4L148.0,378.4L148.5,378.4L149.0,378.4L149.5,378.4L150.0,378.4L150.5,378.4L151.0,378.4L151.6,378.4L152.1,378.4L152.6,378.4L153.1,378.4L153.6,378.4L154.1,378.4L154.6,378.4L155.1,378.4L155.6,378.4L156.1,378.4L156.6,378.4L157.1,378.3L157.6,378.2L158.1,378.0L158.6,377.8L159.1,377.5L159.7,377.2L160.2,376.9L160.7,376.5L161.2,376.1L161.7,375.7L162.2,375.3L162.7,374.9L163.2,374.4L163.7,373.8L164.2,373.2L164.7,372.5L165.2,371.8L165.7,371.1L166.2,370.3L166.7,369.5L167.2,368.6L167.8,367.6L168.3,366.5L168.8,365.5L169.3,364.3L169.8,363.3L170.3,362.2L170.8,361.2L171.3,360.2L171.8,359.2L172.3,358.1L172.8,357.1L173.3,356.1L173.8,355.0L174.3,354.0L174.8,353.0L175.3,352.0L175.9,350.9L176.4,349.9L176.9,348.9L177.4,347.8L177.9,346.8L178.4,345.7L178.9,344.6L179.4,343.5L179.9,342.3L180.4,341.1L180.9,339.9L181.4,338.9L181.9,337.9L182.4,337.2L182.9,337.9L183.5,340.0L184.0,342.5L184.5,344.6L185.0,346.4L185.5,348.1L186.0,349.8L186.5,351.6L187.0,353.2L187.5,355.1L188.0,357.8L188.5,362.1L189.0,366.6L189.5,369.9L190.0,372.1L190.5,373.9L191.0,375.2L191.6,376.2L192.1,377.0L192.6,377.5L193.1,377.9L193.6,378.2L194.1,378.4L194.6,378.4L195.1,378.4L195.6,378.4L196.1,378.4L196.6,378.4L197.1,378.4L197.6,378.4L198.1,378.4L198.6,378.4L199.1,378.4L199.7,378.4L200.2,378.4L200.7,378.4L201.2,378.4L201.7,378.4L202.2,378.4L202.7,378.4L203.2,378.4" fill="none" stroke="#323f5e" stroke-width="1.6" stroke-linejoin="round"/>
</g>
<rect x="123.70" y="316.00" width="79.50" height="62.40" fill="none" stroke="#000" stroke-width="1.7"/>
<path d="M122.85,378.40h-1.7M122.85,375.97h-1.7M122.85,373.54h-1.7M122.85,371.12h-1.7M122.85,368.69h-1.7M122.85,366.26h-1.7M122.85,363.83h-1.7M122.85,361.40h-1.7M122.85,358.98h-1.7M122.85,356.55h-1.7M122.85,354.12h-1.7M122.85,351.69h-1.7M122.85,349.26h-1.7M122.85,346.84h-1.7M122.85,344.41h-1.7M122.85,341.98h-1.7M122.85,339.55h-1.7M122.85,337.12h-1.7M122.85,334.70h-1.7M122.85,332.27h-1.7M122.85,329.84h-1.7M122.85,327.41h-1.7M122.85,324.98h-1.7M122.85,322.56h-1.7M122.85,320.13h-1.7M122.85,317.70h-1.7" stroke="#000" stroke-width="1.0" fill="none"/>
<path d="M122.85,378.40h-2.8M122.85,366.26h-2.8M122.85,354.12h-2.8M122.85,341.98h-2.8M122.85,329.84h-2.8M122.85,317.70h-2.8" stroke="#000" stroke-width="1.3" fill="none"/>
<path d="M129.68,379.25v1.7M133.18,379.25v1.7M135.67,379.25v1.7M137.59,379.25v1.7M139.17,379.25v1.7M140.50,379.25v1.7M141.65,379.25v1.7M142.67,379.25v1.7M149.56,379.25v1.7M153.06,379.25v1.7M155.54,379.25v1.7M157.47,379.25v1.7M159.04,379.25v1.7M160.37,379.25v1.7M161.52,379.25v1.7M162.54,379.25v1.7M169.43,379.25v1.7M172.93,379.25v1.7M175.42,379.25v1.7M177.34,379.25v1.7M178.92,379.25v1.7M180.25,379.25v1.7M181.40,379.25v1.7M182.42,379.25v1.7M189.31,379.25v1.7M192.81,379.25v1.7M195.29,379.25v1.7M197.22,379.25v1.7M198.79,379.25v1.7M200.12,379.25v1.7M201.27,379.25v1.7M202.29,379.25v1.7" stroke="#000" stroke-width="1.0" fill="none"/>
<path d="M123.70,379.25v2.8M143.57,379.25v2.8M163.45,379.25v2.8M183.32,379.25v2.8M203.20,379.25v2.8" stroke="#000" stroke-width="1.2" fill="none"/>
<text x="117.90" y="381.10" font-size="7.5" text-anchor="end" stroke="#000" stroke-width="0.25">0</text>
<text x="117.90" y="368.96" font-size="7.5" text-anchor="end" stroke="#000" stroke-width="0.25">100</text>
<text x="117.90" y="356.82" font-size="7.5" text-anchor="end" stroke="#000" stroke-width="0.25">200</text>
<text x="117.90" y="344.68" font-size="7.5" text-anchor="end" stroke="#000" stroke-width="0.25">300</text>
<text x="117.90" y="332.54" font-size="7.5" text-anchor="end" stroke="#000" stroke-width="0.25">400</text>
<text x="117.90" y="320.40" font-size="7.5" text-anchor="end" stroke="#000" stroke-width="0.25">500</text>
<text x="123.10" y="391.60" font-size="7.4" text-anchor="middle" stroke="#000" stroke-width="0.25">10</text>
<text x="127.60" y="389.10" font-size="4.2" stroke="#000" stroke-width="0.15">0</text>
<text x="142.58" y="391.60" font-size="7.4" text-anchor="middle" stroke="#000" stroke-width="0.25">10</text>
<text x="147.08" y="389.10" font-size="4.2" stroke="#000" stroke-width="0.15">1</text>
<text x="162.05" y="391.60" font-size="7.4" text-anchor="middle" stroke="#000" stroke-width="0.25">10</text>
<text x="166.55" y="389.10" font-size="4.2" stroke="#000" stroke-width="0.15">2</text>
<text x="181.53" y="391.60" font-size="7.4" text-anchor="middle" stroke="#000" stroke-width="0.25">10</text>
<text x="186.03" y="389.10" font-size="4.2" stroke="#000" stroke-width="0.15">3</text>
<text x="201.00" y="391.60" font-size="7.4" text-anchor="middle" stroke="#000" stroke-width="0.25">10</text>
<text x="205.50" y="389.10" font-size="4.2" stroke="#000" stroke-width="0.15">4</text>
<text x="99.19" y="347.20" font-size="10.6" text-anchor="middle" textLength="30.50" lengthAdjust="spacingAndGlyphs" transform="rotate(-90 99.19 347.20)" stroke="#000" stroke-width="0.1">Counts</text>
<clipPath id="c252_316"><rect x="252.50" y="315.00" width="78.70" height="63.40"/></clipPath>
<g clip-path="url(#c252_316)">
<path d="M252.5,378.4L252.5,378.4L253.0,378.4L253.5,378.4L254.0,378.4L254.5,378.4L255.0,378.4L255.5,378.4L256.0,378.4L256.5,378.4L257.0,378.4L257.5,378.4L258.0,378.4L258.6,378.4L259.1,378.4L259.6,378.4L260.1,378.4L260.6,378.4L261.1,378.4L261.6,378.4L262.1,378.4L262.6,378.4L263.1,378.4L263.6,378.4L264.1,378.4L264.6,378.4L265.1,378.4L265.6,378.4L266.1,378.4L266.6,378.4L267.1,378.4L267.6,378.4L268.1,378.4L268.6,378.4L269.1,378.4L269.7,378.4L270.2,378.4L270.7,378.4L271.2,378.4L271.7,378.4L272.2,378.3L272.7,378.3L273.2,378.2L273.7,378.1L274.2,377.9L274.7,377.8L275.2,377.6L275.7,377.4L276.2,377.2L276.7,377.0L277.2,376.8L277.7,376.6L278.2,376.4L278.7,376.1L279.2,375.8L279.7,375.4L280.2,374.9L280.8,374.4L281.3,373.8L281.8,373.2L282.3,372.3L282.8,371.1L283.3,369.5L283.8,367.5L284.3,365.2L284.8,362.7L285.3,360.0L285.8,356.9L286.3,353.0L286.8,348.6L287.3,344.1L287.8,339.5L288.3,334.6L288.8,329.6L289.3,325.1L289.8,320.2L290.3,317.9L290.8,320.1L291.3,324.7L291.8,329.7L292.4,335.5L292.9,342.3L293.4,348.5L293.9,353.4L294.4,358.0L294.9,361.5L295.4,364.0L295.9,366.0L296.4,367.7L296.9,369.1L297.4,370.1L297.9,370.9L298.4,371.6L298.9,372.2L299.4,372.9L299.9,373.9L300.4,374.9L300.9,375.8L301.4,376.5L301.9,376.9L302.4,377.3L302.9,377.6L303.5,377.8L304.0,377.8L304.5,377.8L305.0,377.8L305.5,377.8L306.0,377.8L306.5,377.8L307.0,377.8L307.5,377.8L308.0,377.8L308.5,377.8L309.0,377.8L309.5,377.8L310.0,377.8L310.5,377.8L311.0,377.8L311.5,377.8L312.0,377.8L312.5,377.8L313.0,377.8L313.5,377.8L314.0,377.8L314.6,377.8L315.1,377.8L315.6,377.8L316.1,377.8L316.6,377.8L317.1,377.8L317.6,377.8L318.1,377.8L318.6,377.8L319.1,377.8L319.6,377.8L320.1,377.8L320.6,377.8L321.1,377.8L321.6,377.8L322.1,377.8L322.6,377.8L323.1,377.8L323.6,377.8L324.1,377.8L324.6,377.8L325.1,377.8L325.7,377.8L326.2,377.8L326.7,377.8L327.2,377.8L327.7,377.8L328.2,377.8L328.7,377.8L329.2,377.8L329.7,377.8L330.2,377.8L330.7,377.8L331.2,377.8L331.2,378.4 Z" fill="#d4887f" stroke="none"/>
<path d="M252.5,378.4L253.0,378.4L253.5,378.4L254.0,378.4L254.5,378.4L255.0,378.4L255.5,378.4L256.0,378.4L256.5,378.4L257.0,378.4L257.5,378.4L258.0,378.4L258.6,378.4L259.1,378.4L259.6,378.4L260.1,378.4L260.6,378.4L261.1,378.4L261.6,378.4L262.1,378.4L262.6,378.4L263.1,378.4L263.6,378.4L264.1,378.4L264.6,378.4L265.1,378.4L265.6,378.4L266.1,378.4L266.6,378.4L267.1,378.4L267.6,378.4L268.1,378.4L268.6,378.4L269.1,378.4L269.7,378.4L270.2,378.4L270.7,378.4L271.2,378.4L271.7,378.4L272.2,378.3L272.7,378.3L273.2,378.2L273.7,378.1L274.2,377.9L274.7,377.8L275.2,377.6L275.7,377.4L276.2,377.2L276.7,377.0L277.2,376.8L277.7,376.6L278.2,376.4L278.7,376.1L279.2,375.8L279.7,375.4L280.2,374.9L280.8,374.4L281.3,373.8L281.8,373.2L282.3,372.3L282.8,371.1L283.3,369.5L283.8,367.5L284.3,365.2L284.8,362.7L285.3,360.0L285.8,356.9L286.3,353.0L286.8,348.6L287.3,344.1L287.8,339.5L288.3,334.6L288.8,329.6L289.3,325.1L289.8,320.2L290.3,317.9L290.8,320.1L291.3,324.7L291.8,329.7L292.4,335.5L292.9,342.3L293.4,348.5L293.9,353.4L294.4,358.0L294.9,361.5L295.4,364.0L295.9,366.0L296.4,367.7L296.9,369.1L297.4,370.1L297.9,370.9L298.4,371.6L298.9,372.2L299.4,372.9L299.9,373.9L300.4,374.9L300.9,375.8L301.4,376.5L301.9,376.9L302.4,377.3L302.9,377.6L303.5,377.8L304.0,377.8L304.5,377.8L305.0,377.8L305.5,377.8L306.0,377.8L306.5,377.8L307.0,377.8L307.5,377.8L308.0,377.8L308.5,377.8L309.0,377.8L309.5,377.8L310.0,377.8L310.5,377.8L311.0,377.8L311.5,377.8L312.0,377.8L312.5,377.8L313.0,377.8L313.5,377.8L314.0,377.8L314.6,377.8L315.1,377.8L315.6,377.8L316.1,377.8L316.6,377.8L317.1,377.8L317.6,377.8L318.1,377.8L318.6,377.8L319.1,377.8L319.6,377.8L320.1,377.8L320.6,377.8L321.1,377.8L321.6,377.8L322.1,377.8L322.6,377.8L323.1,377.8L323.6,377.8L324.1,377.8L324.6,377.8L325.1,377.8L325.7,377.8L326.2,377.8L326.7,377.8L327.2,377.8L327.7,377.8L328.2,377.8L328.7,377.8L329.2,377.8L329.7,377.8L330.2,377.8L330.7,377.8L331.2,377.8" fill="none" stroke="#961a36" stroke-width="1.8" stroke-linejoin="round"/>
<path d="M252.5,378.1L253.0,378.4L253.5,378.0L254.0,378.4L254.5,378.4L255.0,378.1L255.5,378.4L256.0,378.4L256.5,378.4L257.0,378.1L257.5,378.0L258.0,378.4L258.6,378.4L259.1,378.4L259.6,378.4L260.1,378.2L260.6,378.4L261.1,378.3L261.6,378.4L262.1,378.4L262.6,378.4L263.1,378.4L263.6,378.4L264.1,378.3L264.6,378.1L265.1,378.4L265.6,378.4L266.1,378.4L266.6,378.1L267.1,378.4L267.6,378.4L268.1,378.4L268.6,378.3L269.1,378.4L269.7,378.4L270.2,378.2L270.7,378.3L271.2,378.3L271.7,378.4L272.2,378.4L272.7,378.4L273.2,378.4L273.7,378.1L274.2,378.0L274.7,378.1L275.2,378.4L275.7,378.4L276.2,378.1L276.7,378.4L277.2,378.4L277.7,378.2L278.2,378.4L278.7,378.4L279.2,378.4L279.7,378.2L280.2,378.4L280.8,378.4L281.3,378.4L281.8,378.3L282.3,378.4L282.8,378.2L283.3,378.3L283.8,377.7L284.3,377.4L284.8,376.5L285.3,376.3L285.8,375.4L286.3,374.6L286.8,374.2L287.3,372.8L287.8,371.9L288.3,370.9L288.8,369.9L289.3,368.8L289.8,368.0L290.3,365.9L290.8,364.5L291.3,363.2L291.8,360.9L292.4,360.4L292.9,360.9L293.4,360.5L293.9,361.0L294.4,361.3L294.9,363.3L295.4,363.4L295.9,364.9L296.4,364.8L296.9,364.6L297.4,365.2L297.9,365.7L298.4,365.8L298.9,364.7L299.4,364.8L299.9,363.8L300.4,362.5L300.9,362.0L301.4,361.7L301.9,359.8L302.4,359.0L302.9,358.3L303.5,358.3L304.0,357.3L304.5,356.4L305.0,357.2L305.5,357.6L306.0,356.5L306.5,357.4L307.0,357.3L307.5,358.3L308.0,357.8L308.5,358.8L309.0,359.7L309.5,360.5L310.0,361.7L310.5,362.6L311.0,363.8L311.5,365.8L312.0,366.7L312.5,368.6L313.0,371.2L313.5,372.7L314.0,373.7L314.6,375.5L315.1,376.8L315.6,377.1L316.1,377.4L316.6,378.2L317.1,378.3L317.6,378.4L318.1,378.4L318.6,378.3L319.1,378.1L319.6,378.1L320.1,378.1L320.6,378.3L321.1,378.2L321.6,378.2L322.1,378.2L322.6,378.3L323.1,378.2L323.6,378.4L324.1,378.4L324.6,378.3L325.1,378.4L325.7,378.4L326.2,378.3L326.7,378.4L327.2,378.2L327.7,378.4L328.2,378.1L328.7,378.4L329.2,378.1L329.7,378.4L330.2,378.2L330.7,378.4L331.2,378.4" fill="none" stroke="#323f5e" stroke-width="1.6" stroke-linejoin="round"/>
</g>
<rect x="252.50" y="316.00" width="78.70" height="62.40" fill="none" stroke="#000" stroke-width="1.7"/>
<path d="M251.65,378.40h-1.7M251.65,376.90h-1.7M251.65,375.39h-1.7M251.65,373.89h-1.7M251.65,372.39h-1.7M251.65,370.88h-1.7M251.65,369.38h-1.7M251.65,367.87h-1.7M251.65,366.37h-1.7M251.65,364.87h-1.7M251.65,363.36h-1.7M251.65,361.86h-1.7M251.65,360.36h-1.7M251.65,358.85h-1.7M251.65,357.35h-1.7M251.65,355.85h-1.7M251.65,354.34h-1.7M251.65,352.84h-1.7M251.65,351.33h-1.7M251.65,349.83h-1.7M251.65,348.33h-1.7M251.65,346.82h-1.7M251.65,345.32h-1.7M251.65,343.82h-1.7M251.65,342.31h-1.7M251.65,340.81h-1.7M251.65,339.31h-1.7M251.65,337.80h-1.7M251.65,336.30h-1.7M251.65,334.80h-1.7M251.65,333.29h-1.7M251.65,331.79h-1.7M251.65,330.28h-1.7M251.65,328.78h-1.7M251.65,327.28h-1.7M251.65,325.77h-1.7M251.65,324.27h-1.7M251.65,322.77h-1.7M251.65,321.26h-1.7M251.65,319.76h-1.7M251.65,318.26h-1.7M251.65,316.75h-1.7" stroke="#000" stroke-width="1.0" fill="none"/>
<path d="M251.65,378.40h-2.8M251.65,370.88h-2.8M251.65,363.36h-2.8M251.65,355.85h-2.8M251.65,348.33h-2.8M251.65,340.81h-2.8M251.65,333.29h-2.8M251.65,325.77h-2.8M251.65,318.26h-2.8" stroke="#000" stroke-width="1.3" fill="none"/>
<path d="M258.42,379.25v1.7M261.89,379.25v1.7M264.35,379.25v1.7M266.25,379.25v1.7M267.81,379.25v1.7M269.13,379.25v1.7M270.27,379.25v1.7M271.27,379.25v1.7M278.10,379.25v1.7M281.56,379.25v1.7M284.02,379.25v1.7M285.93,379.25v1.7M287.49,379.25v1.7M288.80,379.25v1.7M289.94,379.25v1.7M290.95,379.25v1.7M297.77,379.25v1.7M301.24,379.25v1.7M303.70,379.25v1.7M305.60,379.25v1.7M307.16,379.25v1.7M308.48,379.25v1.7M309.62,379.25v1.7M310.62,379.25v1.7M317.45,379.25v1.7M320.91,379.25v1.7M323.37,379.25v1.7M325.28,379.25v1.7M326.84,379.25v1.7M328.15,379.25v1.7M329.29,379.25v1.7M330.30,379.25v1.7" stroke="#000" stroke-width="1.0" fill="none"/>
<path d="M252.50,379.25v2.8M272.18,379.25v2.8M291.85,379.25v2.8M311.52,379.25v2.8M331.20,379.25v2.8" stroke="#000" stroke-width="1.2" fill="none"/>
<text x="246.70" y="381.10" font-size="7.5" text-anchor="end" stroke="#000" stroke-width="0.25">0</text>
<text x="246.70" y="373.58" font-size="7.5" text-anchor="end" stroke="#000" stroke-width="0.25">10</text>
<text x="246.70" y="366.06" font-size="7.5" text-anchor="end" stroke="#000" stroke-width="0.25">20</text>
<text x="246.70" y="358.55" font-size="7.5" text-anchor="end" stroke="#000" stroke-width="0.25">30</text>
<text x="246.70" y="351.03" font-size="7.5" text-anchor="end" stroke="#000" stroke-width="0.25">40</text>
<text x="246.70" y="343.51" font-size="7.5" text-anchor="end" stroke="#000" stroke-width="0.25">50</text>
<text x="246.70" y="335.99" font-size="7.5" text-anchor="end" stroke="#000" stroke-width="0.25">60</text>
<text x="246.70" y="328.47" font-size="7.5" text-anchor="end" stroke="#000" stroke-width="0.25">70</text>
<text x="246.70" y="320.96" font-size="7.5" text-anchor="end" stroke="#000" stroke-width="0.25">80</text>
<text x="251.90" y="391.60" font-size="7.4" text-anchor="middle" stroke="#000" stroke-width="0.25">10</text>
<text x="256.40" y="389.10" font-size="4.2" stroke="#000" stroke-width="0.15">0</text>
<text x="271.18" y="391.60" font-size="7.4" text-anchor="middle" stroke="#000" stroke-width="0.25">10</text>
<text x="275.68" y="389.10" font-size="4.2" stroke="#000" stroke-width="0.15">1</text>
<text x="290.45" y="391.60" font-size="7.4" text-anchor="middle" stroke="#000" stroke-width="0.25">10</text>
<text x="294.95" y="389.10" font-size="4.2" stroke="#000" stroke-width="0.15">2</text>
<text x="309.73" y="391.60" font-size="7.4" text-anchor="middle" stroke="#000" stroke-width="0.25">10</text>
<text x="314.23" y="389.10" font-size="4.2" stroke="#000" stroke-width="0.15">3</text>
<text x="329.00" y="391.60" font-size="7.4" text-anchor="middle" stroke="#000" stroke-width="0.25">10</text>
<text x="333.50" y="389.10" font-size="4.2" stroke="#000" stroke-width="0.15">4</text>
<text x="232.16" y="347.20" font-size="10.6" text-anchor="middle" textLength="30.50" lengthAdjust="spacingAndGlyphs" transform="rotate(-90 232.16 347.20)" stroke="#000" stroke-width="0.1">Counts</text>
<clipPath id="c381_316"><rect x="381.00" y="315.00" width="79.00" height="63.40"/></clipPath>
<g clip-path="url(#c381_316)">
<path d="M381.0,378.4L381.0,378.4L381.5,378.2L382.0,378.0L382.5,377.8L383.0,377.8L383.5,377.8L384.0,377.8L384.5,377.8L385.0,377.8L385.5,377.8L386.0,377.8L386.5,377.8L387.0,377.8L387.5,377.8L388.0,377.8L388.5,377.8L389.1,377.8L389.6,377.8L390.1,377.8L390.6,377.8L391.1,377.8L391.6,377.8L392.1,377.8L392.6,377.8L393.1,377.8L393.6,377.8L394.1,377.8L394.6,377.8L395.1,377.8L395.6,377.8L396.1,377.8L396.6,377.8L397.1,377.8L397.6,377.8L398.1,377.7L398.6,377.7L399.1,377.6L399.6,377.5L400.1,377.3L400.6,377.2L401.1,377.0L401.6,376.9L402.1,376.7L402.6,376.5L403.1,376.3L403.6,376.0L404.1,375.6L404.6,375.2L405.2,374.8L405.7,374.3L406.2,373.7L406.7,373.1L407.2,372.3L407.7,371.4L408.2,370.2L408.7,368.8L409.2,367.2L409.7,365.4L410.2,363.4L410.7,361.0L411.2,358.0L411.7,354.6L412.2,351.0L412.7,347.3L413.2,343.4L413.7,339.1L414.2,334.7L414.7,330.2L415.2,325.1L415.7,319.9L416.2,317.9L416.7,320.2L417.2,324.6L417.7,328.9L418.2,333.9L418.7,339.2L419.2,344.1L419.7,348.1L420.2,352.0L420.8,355.4L421.3,358.5L421.8,361.0L422.3,363.4L422.8,365.5L423.3,367.4L423.8,369.0L424.3,370.2L424.8,371.2L425.3,372.1L425.8,372.9L426.3,373.6L426.8,374.2L427.3,374.7L427.8,375.2L428.3,375.7L428.8,376.1L429.3,376.4L429.8,376.7L430.3,377.0L430.8,377.3L431.3,377.5L431.8,377.7L432.3,377.9L432.8,378.1L433.3,378.3L433.8,378.4L434.3,378.4L434.8,378.4L435.3,378.4L435.8,378.4L436.4,378.4L436.9,378.4L437.4,378.4L437.9,378.4L438.4,378.4L438.9,378.4L439.4,378.4L439.9,378.4L440.4,378.4L440.9,378.4L441.4,378.4L441.9,378.4L442.4,378.4L442.9,378.4L443.4,378.4L443.9,378.4L444.4,378.4L444.9,378.4L445.4,378.4L445.9,378.4L446.4,378.4L446.9,378.4L447.4,378.4L447.9,378.4L448.4,378.4L448.9,378.4L449.4,378.4L449.9,378.4L450.4,378.4L450.9,378.4L451.4,378.4L451.9,378.4L452.5,378.4L453.0,378.4L453.5,378.4L454.0,378.4L454.5,378.4L455.0,378.4L455.5,378.4L456.0,378.4L456.5,378.4L457.0,378.4L457.5,378.4L458.0,378.4L458.5,378.4L459.0,378.4L459.5,378.4L460.0,378.4L460.0,378.4 Z" fill="#d4887f" stroke="none"/>
<path d="M381.0,378.4L381.5,378.2L382.0,378.0L382.5,377.8L383.0,377.8L383.5,377.8L384.0,377.8L384.5,377.8L385.0,377.8L385.5,377.8L386.0,377.8L386.5,377.8L387.0,377.8L387.5,377.8L388.0,377.8L388.5,377.8L389.1,377.8L389.6,377.8L390.1,377.8L390.6,377.8L391.1,377.8L391.6,377.8L392.1,377.8L392.6,377.8L393.1,377.8L393.6,377.8L394.1,377.8L394.6,377.8L395.1,377.8L395.6,377.8L396.1,377.8L396.6,377.8L397.1,377.8L397.6,377.8L398.1,377.7L398.6,377.7L399.1,377.6L399.6,377.5L400.1,377.3L400.6,377.2L401.1,377.0L401.6,376.9L402.1,376.7L402.6,376.5L403.1,376.3L403.6,376.0L404.1,375.6L404.6,375.2L405.2,374.8L405.7,374.3L406.2,373.7L406.7,373.1L407.2,372.3L407.7,371.4L408.2,370.2L408.7,368.8L409.2,367.2L409.7,365.4L410.2,363.4L410.7,361.0L411.2,358.0L411.7,354.6L412.2,351.0L412.7,347.3L413.2,343.4L413.7,339.1L414.2,334.7L414.7,330.2L415.2,325.1L415.7,319.9L416.2,317.9L416.7,320.2L417.2,324.6L417.7,328.9L418.2,333.9L418.7,339.2L419.2,344.1L419.7,348.1L420.2,352.0L420.8,355.4L421.3,358.5L421.8,361.0L422.3,363.4L422.8,365.5L423.3,367.4L423.8,369.0L424.3,370.2L424.8,371.2L425.3,372.1L425.8,372.9L426.3,373.6L426.8,374.2L427.3,374.7L427.8,375.2L428.3,375.7L428.8,376.1L429.3,376.4L429.8,376.7L430.3,377.0L430.8,377.3L431.3,377.5L431.8,377.7L432.3,377.9L432.8,378.1L433.3,378.3L433.8,378.4L434.3,378.4L434.8,378.4L435.3,378.4L435.8,378.4L436.4,378.4L436.9,378.4L437.4,378.4L437.9,378.4L438.4,378.4L438.9,378.4L439.4,378.4L439.9,378.4L440.4,378.4L440.9,378.4L441.4,378.4L441.9,378.4L442.4,378.4L442.9,378.4L443.4,378.4L443.9,378.4L444.4,378.4L444.9,378.4L445.4,378.4L445.9,378.4L446.4,378.4L446.9,378.4L447.4,378.4L447.9,378.4L448.4,378.4L448.9,378.4L449.4,378.4L449.9,378.4L450.4,378.4L450.9,378.4L451.4,378.4L451.9,378.4L452.5,378.4L453.0,378.4L453.5,378.4L454.0,378.4L454.5,378.4L455.0,378.4L455.5,378.4L456.0,378.4L456.5,378.4L457.0,378.4L457.5,378.4L458.0,378.4L458.5,378.4L459.0,378.4L459.5,378.4L460.0,378.4" fill="none" stroke="#961a36" stroke-width="1.8" stroke-linejoin="round"/>
<path d="M381.0,378.4L381.5,378.3L382.0,378.0L382.5,378.4L383.0,378.4L383.5,378.4L384.0,378.2L384.5,378.3L385.0,378.3L385.5,378.0L386.0,378.2L386.5,378.4L387.0,378.4L387.5,378.3L388.0,378.3L388.5,378.4L389.1,378.2L389.6,378.4L390.1,378.2L390.6,378.4L391.1,378.4L391.6,378.4L392.1,378.4L392.6,378.4L393.1,378.4L393.6,378.4L394.1,378.1L394.6,378.3L395.1,378.4L395.6,378.4L396.1,378.4L396.6,378.1L397.1,378.1L397.6,378.3L398.1,378.4L398.6,378.1L399.1,378.4L399.6,378.4L400.1,378.4L400.6,378.4L401.1,378.1L401.6,378.4L402.1,378.4L402.6,378.4L403.1,378.4L403.6,378.3L404.1,378.4L404.6,378.1L405.2,378.1L405.7,378.4L406.2,378.2L406.7,378.4L407.2,377.9L407.7,378.3L408.2,377.7L408.7,376.8L409.2,377.1L409.7,376.4L410.2,375.9L410.7,375.2L411.2,373.7L411.7,373.4L412.2,371.5L412.7,370.7L413.2,368.6L413.7,367.7L414.2,365.4L414.7,361.4L415.2,360.0L415.7,356.2L416.2,354.5L416.7,351.3L417.2,349.3L417.7,346.7L418.2,345.4L418.7,344.4L419.2,345.1L419.7,343.4L420.2,345.3L420.8,346.0L421.3,346.9L421.8,347.5L422.3,348.3L422.8,348.7L423.3,349.5L423.8,348.4L424.3,349.2L424.8,349.1L425.3,348.9L425.8,349.7L426.3,350.7L426.8,350.7L427.3,351.7L427.8,351.9L428.3,351.4L428.8,352.6L429.3,354.9L429.8,355.9L430.3,357.8L430.8,358.7L431.3,360.2L431.8,362.3L432.3,364.2L432.8,365.5L433.3,366.4L433.8,368.0L434.3,369.7L434.8,370.3L435.3,371.6L435.8,372.9L436.4,373.9L436.9,374.4L437.4,374.8L437.9,375.9L438.4,376.3L438.9,376.8L439.4,377.1L439.9,376.9L440.4,377.1L440.9,377.4L441.4,377.8L441.9,377.9L442.4,378.2L442.9,377.5L443.4,377.8L443.9,378.0L444.4,378.1L444.9,377.9L445.4,377.9L445.9,377.6L446.4,378.1L446.9,377.6L447.4,378.0L447.9,378.0L448.4,377.7L448.9,378.0L449.4,377.4L449.9,377.6L450.4,377.6L450.9,377.7L451.4,377.5L451.9,377.5L452.5,377.7L453.0,378.1L453.5,377.6L454.0,377.4L454.5,378.0L455.0,377.6L455.5,378.1L456.0,377.5L456.5,377.7L457.0,377.7L457.5,377.7L458.0,377.8L458.5,377.7L459.0,377.7L459.5,377.9L460.0,377.5" fill="none" stroke="#323f5e" stroke-width="1.6" stroke-linejoin="round"/>
</g>
<rect x="381.00" y="316.00" width="79.00" height="62.40" fill="none" stroke="#000" stroke-width="1.7"/>
<path d="M380.15,378.40h-1.7M380.15,377.11h-1.7M380.15,375.82h-1.7M380.15,374.53h-1.7M380.15,373.24h-1.7M380.15,371.95h-1.7M380.15,370.66h-1.7M380.15,369.37h-1.7M380.15,368.08h-1.7M380.15,366.78h-1.7M380.15,365.49h-1.7M380.15,364.20h-1.7M380.15,362.91h-1.7M380.15,361.62h-1.7M380.15,360.33h-1.7M380.15,359.04h-1.7M380.15,357.75h-1.7M380.15,356.46h-1.7M380.15,355.17h-1.7M380.15,353.88h-1.7M380.15,352.59h-1.7M380.15,351.30h-1.7M380.15,350.01h-1.7M380.15,348.72h-1.7M380.15,347.43h-1.7M380.15,346.14h-1.7M380.15,344.84h-1.7M380.15,343.55h-1.7M380.15,342.26h-1.7M380.15,340.97h-1.7M380.15,339.68h-1.7M380.15,338.39h-1.7M380.15,337.10h-1.7M380.15,335.81h-1.7M380.15,334.52h-1.7M380.15,333.23h-1.7M380.15,331.94h-1.7M380.15,330.65h-1.7M380.15,329.36h-1.7M380.15,328.07h-1.7M380.15,326.78h-1.7M380.15,325.49h-1.7M380.15,324.20h-1.7M380.15,322.90h-1.7M380.15,321.61h-1.7M380.15,320.32h-1.7M380.15,319.03h-1.7M380.15,317.74h-1.7M380.15,316.45h-1.7" stroke="#000" stroke-width="1.0" fill="none"/>
<path d="M380.15,378.40h-2.8M380.15,320.32h-2.8" stroke="#000" stroke-width="1.3" fill="none"/>
<path d="M386.95,379.25v1.7M390.42,379.25v1.7M392.89,379.25v1.7M394.80,379.25v1.7M396.37,379.25v1.7M397.69,379.25v1.7M398.84,379.25v1.7M399.85,379.25v1.7M406.70,379.25v1.7M410.17,379.25v1.7M412.64,379.25v1.7M414.55,379.25v1.7M416.12,379.25v1.7M417.44,379.25v1.7M418.59,379.25v1.7M419.60,379.25v1.7M426.45,379.25v1.7M429.92,379.25v1.7M432.39,379.25v1.7M434.30,379.25v1.7M435.87,379.25v1.7M437.19,379.25v1.7M438.34,379.25v1.7M439.35,379.25v1.7M446.20,379.25v1.7M449.67,379.25v1.7M452.14,379.25v1.7M454.05,379.25v1.7M455.62,379.25v1.7M456.94,379.25v1.7M458.09,379.25v1.7M459.10,379.25v1.7" stroke="#000" stroke-width="1.0" fill="none"/>
<path d="M381.00,379.25v2.8M400.75,379.25v2.8M420.50,379.25v2.8M440.25,379.25v2.8M460.00,379.25v2.8" stroke="#000" stroke-width="1.2" fill="none"/>
<text x="375.20" y="381.10" font-size="7.5" text-anchor="end" stroke="#000" stroke-width="0.25">0</text>
<text x="375.20" y="323.02" font-size="7.5" text-anchor="end" stroke="#000" stroke-width="0.25">90</text>
<text x="380.40" y="391.60" font-size="7.4" text-anchor="middle" stroke="#000" stroke-width="0.25">10</text>
<text x="384.90" y="389.10" font-size="4.2" stroke="#000" stroke-width="0.15">0</text>
<text x="399.75" y="391.60" font-size="7.4" text-anchor="middle" stroke="#000" stroke-width="0.25">10</text>
<text x="404.25" y="389.10" font-size="4.2" stroke="#000" stroke-width="0.15">1</text>
<text x="419.10" y="391.60" font-size="7.4" text-anchor="middle" stroke="#000" stroke-width="0.25">10</text>
<text x="423.60" y="389.10" font-size="4.2" stroke="#000" stroke-width="0.15">2</text>
<text x="438.45" y="391.60" font-size="7.4" text-anchor="middle" stroke="#000" stroke-width="0.25">10</text>
<text x="442.95" y="389.10" font-size="4.2" stroke="#000" stroke-width="0.15">3</text>
<text x="457.80" y="391.60" font-size="7.4" text-anchor="middle" stroke="#000" stroke-width="0.25">10</text>
<text x="462.30" y="389.10" font-size="4.2" stroke="#000" stroke-width="0.15">4</text>
<text x="360.66" y="347.20" font-size="10.6" text-anchor="middle" textLength="30.50" lengthAdjust="spacingAndGlyphs" transform="rotate(-90 360.66 347.20)" stroke="#000" stroke-width="0.1">Counts</text>
<clipPath id="c123_408"><rect x="123.70" y="407.60" width="79.50" height="63.50"/></clipPath>
<g clip-path="url(#c123_408)">
<path d="M123.7,471.1L123.7,471.1L124.2,471.1L124.7,471.1L125.2,471.1L125.7,471.1L126.2,471.1L126.7,471.1L127.2,471.1L127.8,471.1L128.3,471.1L128.8,471.1L129.3,471.1L129.8,471.1L130.3,471.1L130.8,471.1L131.3,471.1L131.8,471.1L132.3,471.1L132.8,471.1L133.3,471.1L133.8,471.1L134.3,471.1L134.8,471.1L135.3,471.1L135.9,471.1L136.4,471.1L136.9,471.1L137.4,471.1L137.9,471.1L138.4,471.1L138.9,471.1L139.4,471.1L139.9,471.1L140.4,471.1L140.9,471.1L141.4,471.1L141.9,471.1L142.4,471.1L142.9,471.1L143.4,471.1L144.0,471.1L144.5,471.1L145.0,471.1L145.5,471.0L146.0,470.8L146.5,470.6L147.0,470.4L147.5,470.1L148.0,469.8L148.5,469.4L149.0,469.0L149.5,468.6L150.0,468.1L150.5,467.4L151.0,466.5L151.6,465.6L152.1,464.4L152.6,463.2L153.1,462.0L153.6,460.5L154.1,458.7L154.6,456.7L155.1,454.4L155.6,451.8L156.1,448.2L156.6,443.7L157.1,438.9L157.6,434.2L158.1,429.2L158.6,424.2L159.1,419.6L159.7,415.5L160.2,411.6L160.7,409.9L161.2,410.8L161.7,413.1L162.2,415.4L162.7,417.7L163.2,420.5L163.7,424.0L164.2,430.0L164.7,437.0L165.2,443.3L165.7,449.3L166.2,454.1L166.7,458.0L167.2,461.3L167.8,464.1L168.3,466.6L168.8,468.6L169.3,469.7L169.8,470.6L170.3,471.1L170.8,471.1L171.3,471.1L171.8,471.1L172.3,471.1L172.8,471.1L173.3,471.1L173.8,471.1L174.3,471.1L174.8,471.1L175.3,471.1L175.9,471.1L176.4,471.1L176.9,471.1L177.4,471.1L177.9,471.1L178.4,471.1L178.9,471.1L179.4,471.1L179.9,471.1L180.4,471.1L180.9,471.1L181.4,471.1L181.9,471.1L182.4,471.1L182.9,471.1L183.5,471.1L184.0,471.1L184.5,471.1L185.0,471.1L185.5,471.1L186.0,471.1L186.5,471.1L187.0,471.1L187.5,471.1L188.0,471.1L188.5,471.1L189.0,471.1L189.5,471.1L190.0,471.1L190.5,471.1L191.0,471.1L191.6,471.1L192.1,471.1L192.6,471.1L193.1,471.1L193.6,471.1L194.1,471.1L194.6,471.1L195.1,471.1L195.6,471.1L196.1,471.1L196.6,471.1L197.1,471.1L197.6,471.1L198.1,471.1L198.6,471.1L199.1,471.1L199.7,471.1L200.2,471.1L200.7,471.1L201.2,471.1L201.7,471.1L202.2,471.1L202.7,471.1L203.2,471.1L203.2,471.1 Z" fill="#d4887f" stroke="none"/>
<path d="M123.7,471.1L124.2,471.1L124.7,471.1L125.2,471.1L125.7,471.1L126.2,471.1L126.7,471.1L127.2,471.1L127.8,471.1L128.3,471.1L128.8,471.1L129.3,471.1L129.8,471.1L130.3,471.1L130.8,471.1L131.3,471.1L131.8,471.1L132.3,471.1L132.8,471.1L133.3,471.1L133.8,471.1L134.3,471.1L134.8,471.1L135.3,471.1L135.9,471.1L136.4,471.1L136.9,471.1L137.4,471.1L137.9,471.1L138.4,471.1L138.9,471.1L139.4,471.1L139.9,471.1L140.4,471.1L140.9,471.1L141.4,471.1L141.9,471.1L142.4,471.1L142.9,471.1L143.4,471.1L144.0,471.1L144.5,471.1L145.0,471.1L145.5,471.0L146.0,470.8L146.5,470.6L147.0,470.4L147.5,470.1L148.0,469.8L148.5,469.4L149.0,469.0L149.5,468.6L150.0,468.1L150.5,467.4L151.0,466.5L151.6,465.6L152.1,464.4L152.6,463.2L153.1,462.0L153.6,460.5L154.1,458.7L154.6,456.7L155.1,454.4L155.6,451.8L156.1,448.2L156.6,443.7L157.1,438.9L157.6,434.2L158.1,429.2L158.6,424.2L159.1,419.6L159.7,415.5L160.2,411.6L160.7,409.9L161.2,410.8L161.7,413.1L162.2,415.4L162.7,417.7L163.2,420.5L163.7,424.0L164.2,430.0L164.7,437.0L165.2,443.3L165.7,449.3L166.2,454.1L166.7,458.0L167.2,461.3L167.8,464.1L168.3,466.6L168.8,468.6L169.3,469.7L169.8,470.6L170.3,471.1L170.8,471.1L171.3,471.1L171.8,471.1L172.3,471.1L172.8,471.1L173.3,471.1L173.8,471.1L174.3,471.1L174.8,471.1L175.3,471.1L175.9,471.1L176.4,471.1L176.9,471.1L177.4,471.1L177.9,471.1L178.4,471.1L178.9,471.1L179.4,471.1L179.9,471.1L180.4,471.1L180.9,471.1L181.4,471.1L181.9,471.1L182.4,471.1L182.9,471.1L183.5,471.1L184.0,471.1L184.5,471.1L185.0,471.1L185.5,471.1L186.0,471.1L186.5,471.1L187.0,471.1L187.5,471.1L188.0,471.1L188.5,471.1L189.0,471.1L189.5,471.1L190.0,471.1L190.5,471.1L191.0,471.1L191.6,471.1L192.1,471.1L192.6,471.1L193.1,471.1L193.6,471.1L194.1,471.1L194.6,471.1L195.1,471.1L195.6,471.1L196.1,471.1L196.6,471.1L197.1,471.1L197.6,471.1L198.1,471.1L198.6,471.1L199.1,471.1L199.7,471.1L200.2,471.1L200.7,471.1L201.2,471.1L201.7,471.1L202.2,471.1L202.7,471.1L203.2,471.1" fill="none" stroke="#961a36" stroke-width="1.8" stroke-linejoin="round"/>
<path d="M123.7,471.1L124.2,471.1L124.7,471.1L125.2,470.8L125.7,470.9L126.2,470.9L126.7,471.0L127.2,471.1L127.8,470.9L128.3,471.1L128.8,471.1L129.3,471.1L129.8,471.1L130.3,470.9L130.8,471.1L131.3,471.1L131.8,471.1L132.3,471.1L132.8,471.1L133.3,471.1L133.8,471.1L134.3,471.1L134.8,471.1L135.3,471.1L135.9,471.1L136.4,471.1L136.9,471.0L137.4,471.1L137.9,471.1L138.4,471.0L138.9,470.9L139.4,471.0L139.9,471.1L140.4,471.1L140.9,470.8L141.4,470.8L141.9,471.1L142.4,471.1L142.9,471.1L143.4,471.1L144.0,471.1L144.5,470.8L145.0,470.8L145.5,471.1L146.0,471.1L146.5,470.9L147.0,471.0L147.5,470.9L148.0,471.1L148.5,470.9L149.0,470.9L149.5,471.0L150.0,471.0L150.5,471.0L151.0,471.1L151.6,470.8L152.1,471.1L152.6,471.1L153.1,471.1L153.6,471.1L154.1,470.8L154.6,470.9L155.1,470.3L155.6,469.8L156.1,469.3L156.6,468.6L157.1,468.0L157.6,467.6L158.1,467.3L158.6,467.1L159.1,466.3L159.7,466.1L160.2,465.9L160.7,466.1L161.2,465.7L161.7,465.3L162.2,465.5L162.7,465.3L163.2,465.2L163.7,465.3L164.2,464.6L164.7,464.3L165.2,464.4L165.7,464.1L166.2,463.4L166.7,462.5L167.2,462.2L167.8,461.0L168.3,460.0L168.8,459.6L169.3,457.9L169.8,456.6L170.3,455.4L170.8,454.1L171.3,453.2L171.8,452.0L172.3,449.7L172.8,449.0L173.3,446.5L173.8,444.9L174.3,443.2L174.8,440.6L175.3,438.7L175.9,437.7L176.4,436.4L176.9,437.3L177.4,436.8L177.9,434.4L178.4,432.8L178.9,430.1L179.4,429.7L179.9,430.3L180.4,431.3L180.9,432.9L181.4,435.5L181.9,438.0L182.4,440.3L182.9,443.8L183.5,447.8L184.0,451.5L184.5,454.7L185.0,457.2L185.5,460.6L186.0,463.2L186.5,465.2L187.0,467.1L187.5,468.3L188.0,469.9L188.5,470.7L189.0,470.9L189.5,470.9L190.0,470.8L190.5,470.9L191.0,470.9L191.6,470.9L192.1,470.8L192.6,471.1L193.1,470.9L193.6,471.1L194.1,471.1L194.6,470.9L195.1,471.1L195.6,471.1L196.1,471.0L196.6,471.1L197.1,471.1L197.6,470.9L198.1,471.1L198.6,470.9L199.1,471.1L199.7,471.1L200.2,470.8L200.7,471.1L201.2,471.0L201.7,471.1L202.2,470.9L202.7,471.1L203.2,470.9" fill="none" stroke="#323f5e" stroke-width="1.6" stroke-linejoin="round"/>
</g>
<rect x="123.70" y="408.60" width="79.50" height="62.50" fill="none" stroke="#000" stroke-width="1.7"/>
<path d="M122.85,471.10h-1.7M122.85,469.90h-1.7M122.85,468.70h-1.7M122.85,467.49h-1.7M122.85,466.29h-1.7M122.85,465.09h-1.7M122.85,463.89h-1.7M122.85,462.69h-1.7M122.85,461.48h-1.7M122.85,460.28h-1.7M122.85,459.08h-1.7M122.85,457.88h-1.7M122.85,456.68h-1.7M122.85,455.48h-1.7M122.85,454.27h-1.7M122.85,453.07h-1.7M122.85,451.87h-1.7M122.85,450.67h-1.7M122.85,449.47h-1.7M122.85,448.26h-1.7M122.85,447.06h-1.7M122.85,445.86h-1.7M122.85,444.66h-1.7M122.85,443.46h-1.7M122.85,442.25h-1.7M122.85,441.05h-1.7M122.85,439.85h-1.7M122.85,438.65h-1.7M122.85,437.45h-1.7M122.85,436.24h-1.7M122.85,435.04h-1.7M122.85,433.84h-1.7M122.85,432.64h-1.7M122.85,431.44h-1.7M122.85,430.23h-1.7M122.85,429.03h-1.7M122.85,427.83h-1.7M122.85,426.63h-1.7M122.85,425.43h-1.7M122.85,424.23h-1.7M122.85,423.02h-1.7M122.85,421.82h-1.7M122.85,420.62h-1.7M122.85,419.42h-1.7M122.85,418.22h-1.7M122.85,417.01h-1.7M122.85,415.81h-1.7M122.85,414.61h-1.7M122.85,413.41h-1.7M122.85,412.21h-1.7M122.85,411.00h-1.7M122.85,409.80h-1.7M122.85,408.60h-1.7" stroke="#000" stroke-width="1.0" fill="none"/>
<path d="M122.85,471.10h-2.8M122.85,459.08h-2.8M122.85,447.06h-2.8M122.85,435.04h-2.8M122.85,423.02h-2.8M122.85,411.00h-2.8" stroke="#000" stroke-width="1.3" fill="none"/>
<path d="M129.68,471.95v1.7M133.18,471.95v1.7M135.67,471.95v1.7M137.59,471.95v1.7M139.17,471.95v1.7M140.50,471.95v1.7M141.65,471.95v1.7M142.67,471.95v1.7M149.56,471.95v1.7M153.06,471.95v1.7M155.54,471.95v1.7M157.47,471.95v1.7M159.04,471.95v1.7M160.37,471.95v1.7M161.52,471.95v1.7M162.54,471.95v1.7M169.43,471.95v1.7M172.93,471.95v1.7M175.42,471.95v1.7M177.34,471.95v1.7M178.92,471.95v1.7M180.25,471.95v1.7M181.40,471.95v1.7M182.42,471.95v1.7M189.31,471.95v1.7M192.81,471.95v1.7M195.29,471.95v1.7M197.22,471.95v1.7M198.79,471.95v1.7M200.12,471.95v1.7M201.27,471.95v1.7M202.29,471.95v1.7" stroke="#000" stroke-width="1.0" fill="none"/>
<path d="M123.70,471.95v2.8M143.57,471.95v2.8M163.45,471.95v2.8M183.32,471.95v2.8M203.20,471.95v2.8" stroke="#000" stroke-width="1.2" fill="none"/>
<text x="117.90" y="473.80" font-size="7.5" text-anchor="end" stroke="#000" stroke-width="0.25">0</text>
<text x="117.90" y="461.78" font-size="7.5" text-anchor="end" stroke="#000" stroke-width="0.25">10</text>
<text x="117.90" y="449.76" font-size="7.5" text-anchor="end" stroke="#000" stroke-width="0.25">20</text>
<text x="117.90" y="437.74" font-size="7.5" text-anchor="end" stroke="#000" stroke-width="0.25">30</text>
<text x="117.90" y="425.72" font-size="7.5" text-anchor="end" stroke="#000" stroke-width="0.25">40</text>
<text x="117.90" y="413.70" font-size="7.5" text-anchor="end" stroke="#000" stroke-width="0.25">50</text>
<text x="123.10" y="484.30" font-size="7.4" text-anchor="middle" stroke="#000" stroke-width="0.25">10</text>
<text x="127.60" y="481.80" font-size="4.2" stroke="#000" stroke-width="0.15">0</text>
<text x="142.58" y="484.30" font-size="7.4" text-anchor="middle" stroke="#000" stroke-width="0.25">10</text>
<text x="147.08" y="481.80" font-size="4.2" stroke="#000" stroke-width="0.15">1</text>
<text x="162.05" y="484.30" font-size="7.4" text-anchor="middle" stroke="#000" stroke-width="0.25">10</text>
<text x="166.55" y="481.80" font-size="4.2" stroke="#000" stroke-width="0.15">2</text>
<text x="181.53" y="484.30" font-size="7.4" text-anchor="middle" stroke="#000" stroke-width="0.25">10</text>
<text x="186.03" y="481.80" font-size="4.2" stroke="#000" stroke-width="0.15">3</text>
<text x="201.00" y="484.30" font-size="7.4" text-anchor="middle" stroke="#000" stroke-width="0.25">10</text>
<text x="205.50" y="481.80" font-size="4.2" stroke="#000" stroke-width="0.15">4</text>
<text x="103.36" y="439.85" font-size="10.6" text-anchor="middle" textLength="30.50" lengthAdjust="spacingAndGlyphs" transform="rotate(-90 103.36 439.85)" stroke="#000" stroke-width="0.1">Counts</text>
<clipPath id="c252_408"><rect x="252.50" y="407.60" width="78.70" height="63.50"/></clipPath>
<g clip-path="url(#c252_408)">
<path d="M252.5,471.1L252.5,471.1L253.0,471.1L253.5,470.8L254.0,471.1L254.5,470.4L255.0,470.6L255.5,470.7L256.0,471.1L256.5,470.6L257.0,471.1L257.5,470.9L258.0,471.1L258.6,471.1L259.1,470.4L259.6,471.1L260.1,470.7L260.6,470.7L261.1,471.1L261.6,470.4L262.1,471.1L262.6,471.0L263.1,471.1L263.6,471.0L264.1,470.4L264.6,471.1L265.1,470.8L265.6,470.7L266.1,470.5L266.6,470.8L267.1,471.1L267.6,471.1L268.1,471.1L268.6,471.1L269.1,470.5L269.7,470.6L270.2,471.1L270.7,471.1L271.2,471.1L271.7,470.5L272.2,471.1L272.7,471.1L273.2,471.1L273.7,471.1L274.2,470.4L274.7,471.1L275.2,470.9L275.7,470.6L276.2,471.1L276.7,470.6L277.2,470.7L277.7,470.9L278.2,471.0L278.7,470.5L279.2,470.8L279.7,471.1L280.2,461.5L280.8,460.9L281.3,460.3L281.8,459.9L282.3,458.4L282.8,456.2L283.3,452.8L283.8,451.5L284.3,446.8L284.8,443.5L285.3,438.8L285.8,436.7L286.3,430.4L286.8,426.5L287.3,422.4L287.8,420.2L288.3,420.3L288.8,413.2L289.3,411.7L289.8,414.6L290.3,407.8L290.8,408.6L291.3,413.9L291.8,413.6L292.4,419.2L292.9,422.3L293.4,427.5L293.9,427.7L294.4,432.6L294.9,438.4L295.4,441.0L295.9,445.7L296.4,448.3L296.9,454.9L297.4,457.3L297.9,460.5L298.4,463.7L298.9,468.7L299.4,470.6L299.9,471.1L300.4,471.1L300.9,470.9L301.4,470.5L301.9,471.1L302.4,471.1L302.9,471.1L303.5,471.1L304.0,470.5L304.5,470.9L305.0,471.1L305.5,471.1L306.0,471.1L306.5,471.1L307.0,471.1L307.5,470.7L308.0,470.9L308.5,471.1L309.0,471.0L309.5,470.4L310.0,471.1L310.5,471.1L311.0,470.4L311.5,471.1L312.0,470.5L312.5,470.6L313.0,471.1L313.5,470.4L314.0,471.1L314.6,471.1L315.1,471.1L315.6,470.7L316.1,471.1L316.6,471.1L317.1,470.7L317.6,470.8L318.1,471.1L318.6,471.1L319.1,470.6L319.6,470.6L320.1,470.9L320.6,471.0L321.1,471.1L321.6,471.1L322.1,471.1L322.6,471.1L323.1,471.1L323.6,470.9L324.1,471.1L324.6,470.4L325.1,471.1L325.7,471.1L326.2,471.1L326.7,471.1L327.2,470.8L327.7,471.0L328.2,471.0L328.7,470.7L329.2,470.8L329.7,471.1L330.2,471.1L330.7,470.5L331.2,470.8L331.2,471.1 Z" fill="#d4887f" stroke="none"/>
<path d="M252.5,471.1L253.0,471.1L253.5,470.8L254.0,471.1L254.5,470.4L255.0,470.6L255.5,470.7L256.0,471.1L256.5,470.6L257.0,471.1L257.5,470.9L258.0,471.1L258.6,471.1L259.1,470.4L259.6,471.1L260.1,470.7L260.6,470.7L261.1,471.1L261.6,470.4L262.1,471.1L262.6,471.0L263.1,471.1L263.6,471.0L264.1,470.4L264.6,471.1L265.1,470.8L265.6,470.7L266.1,470.5L266.6,470.8L267.1,471.1L267.6,471.1L268.1,471.1L268.6,471.1L269.1,470.5L269.7,470.6L270.2,471.1L270.7,471.1L271.2,471.1L271.7,470.5L272.2,471.1L272.7,471.1L273.2,471.1L273.7,471.1L274.2,470.4L274.7,471.1L275.2,470.9L275.7,470.6L276.2,471.1L276.7,470.6L277.2,470.7L277.7,470.9L278.2,471.0L278.7,470.5L279.2,470.8L279.7,471.1L280.2,461.5L280.8,460.9L281.3,460.3L281.8,459.9L282.3,458.4L282.8,456.2L283.3,452.8L283.8,451.5L284.3,446.8L284.8,443.5L285.3,438.8L285.8,436.7L286.3,430.4L286.8,426.5L287.3,422.4L287.8,420.2L288.3,420.3L288.8,413.2L289.3,411.7L289.8,414.6L290.3,407.8L290.8,408.6L291.3,413.9L291.8,413.6L292.4,419.2L292.9,422.3L293.4,427.5L293.9,427.7L294.4,432.6L294.9,438.4L295.4,441.0L295.9,445.7L296.4,448.3L296.9,454.9L297.4,457.3L297.9,460.5L298.4,463.7L298.9,468.7L299.4,470.6L299.9,471.1L300.4,471.1L300.9,470.9L301.4,470.5L301.9,471.1L302.4,471.1L302.9,471.1L303.5,471.1L304.0,470.5L304.5,470.9L305.0,471.1L305.5,471.1L306.0,471.1L306.5,471.1L307.0,471.1L307.5,470.7L308.0,470.9L308.5,471.1L309.0,471.0L309.5,470.4L310.0,471.1L310.5,471.1L311.0,470.4L311.5,471.1L312.0,470.5L312.5,470.6L313.0,471.1L313.5,470.4L314.0,471.1L314.6,471.1L315.1,471.1L315.6,470.7L316.1,471.1L316.6,471.1L317.1,470.7L317.6,470.8L318.1,471.1L318.6,471.1L319.1,470.6L319.6,470.6L320.1,470.9L320.6,471.0L321.1,471.1L321.6,471.1L322.1,471.1L322.6,471.1L323.1,471.1L323.6,470.9L324.1,471.1L324.6,470.4L325.1,471.1L325.7,471.1L326.2,471.1L326.7,471.1L327.2,470.8L327.7,471.0L328.2,471.0L328.7,470.7L329.2,470.8L329.7,471.1L330.2,471.1L330.7,470.5L331.2,470.8" fill="none" stroke="#961a36" stroke-width="1.8" stroke-linejoin="round"/>
<path d="M252.5,471.1L253.0,471.0L253.5,471.0L254.0,470.9L254.5,470.4L255.0,470.0L255.5,470.7L256.0,470.4L256.5,470.9L257.0,471.1L257.5,470.3L258.0,470.0L258.6,470.9L259.1,470.8L259.6,471.1L260.1,470.3L260.6,470.8L261.1,470.8L261.6,471.1L262.1,470.9L262.6,470.9L263.1,471.1L263.6,471.1L264.1,470.6L264.6,470.5L265.1,470.6L265.6,470.7L266.1,470.1L266.6,470.4L267.1,471.1L267.6,471.1L268.1,471.1L268.6,470.2L269.1,470.7L269.7,471.1L270.2,471.1L270.7,471.1L271.2,470.9L271.7,471.1L272.2,471.1L272.7,470.8L273.2,471.1L273.7,471.1L274.2,470.0L274.7,470.2L275.2,470.3L275.7,470.2L276.2,470.9L276.7,471.1L277.2,471.1L277.7,470.9L278.2,470.1L278.7,471.1L279.2,471.1L279.7,470.1L280.2,470.6L280.8,470.3L281.3,471.1L281.8,471.1L282.3,462.9L282.8,460.7L283.3,459.0L283.8,457.7L284.3,455.3L284.8,454.3L285.3,455.3L285.8,455.4L286.3,451.0L286.8,454.2L287.3,452.9L287.8,448.8L288.3,447.5L288.8,443.2L289.3,440.9L289.8,435.4L290.3,430.3L290.8,426.1L291.3,423.3L291.8,423.4L292.4,420.1L292.9,416.8L293.4,421.7L293.9,417.7L294.4,422.2L294.9,423.2L295.4,430.0L295.9,427.1L296.4,433.4L296.9,434.5L297.4,437.7L297.9,442.7L298.4,443.0L298.9,445.1L299.4,446.4L299.9,450.9L300.4,449.7L300.9,451.7L301.4,451.1L301.9,454.2L302.4,454.1L302.9,455.0L303.5,457.3L304.0,458.8L304.5,455.3L305.0,452.8L305.5,452.6L306.0,458.9L306.5,461.7L307.0,461.8L307.5,462.8L308.0,459.8L308.5,460.0L309.0,460.1L309.5,460.9L310.0,461.7L310.5,461.3L311.0,462.7L311.5,460.4L312.0,463.0L312.5,467.0L313.0,471.1L313.5,471.1L314.0,471.1L314.6,471.1L315.1,470.1L315.6,471.1L316.1,471.1L316.6,471.1L317.1,471.1L317.6,471.1L318.1,470.4L318.6,471.1L319.1,470.8L319.6,471.1L320.1,471.1L320.6,471.1L321.1,471.1L321.6,470.2L322.1,471.1L322.6,471.1L323.1,470.1L323.6,471.1L324.1,470.1L324.6,470.7L325.1,470.3L325.7,471.1L326.2,471.1L326.7,470.4L327.2,471.1L327.7,471.1L328.2,471.1L328.7,470.8L329.2,471.1L329.7,470.3L330.2,471.1L330.7,470.3L331.2,470.7" fill="none" stroke="#323f5e" stroke-width="1.6" stroke-linejoin="round"/>
</g>
<rect x="252.50" y="408.60" width="78.70" height="62.50" fill="none" stroke="#000" stroke-width="1.7"/>
<path d="M251.65,471.10h-1.7M251.65,469.34h-1.7M251.65,467.58h-1.7M251.65,465.82h-1.7M251.65,464.06h-1.7M251.65,462.30h-1.7M251.65,460.54h-1.7M251.65,458.78h-1.7M251.65,457.02h-1.7M251.65,455.25h-1.7M251.65,453.49h-1.7M251.65,451.73h-1.7M251.65,449.97h-1.7M251.65,448.21h-1.7M251.65,446.45h-1.7M251.65,444.69h-1.7M251.65,442.93h-1.7M251.65,441.17h-1.7M251.65,439.41h-1.7M251.65,437.65h-1.7M251.65,435.89h-1.7M251.65,434.13h-1.7M251.65,432.37h-1.7M251.65,430.61h-1.7M251.65,428.85h-1.7M251.65,427.09h-1.7M251.65,425.33h-1.7M251.65,423.56h-1.7M251.65,421.80h-1.7M251.65,420.04h-1.7M251.65,418.28h-1.7M251.65,416.52h-1.7M251.65,414.76h-1.7M251.65,413.00h-1.7M251.65,411.24h-1.7M251.65,409.48h-1.7" stroke="#000" stroke-width="1.0" fill="none"/>
<path d="M251.65,471.10h-2.8M251.65,453.49h-2.8M251.65,435.89h-2.8M251.65,418.28h-2.8" stroke="#000" stroke-width="1.3" fill="none"/>
<path d="M258.42,471.95v1.7M261.89,471.95v1.7M264.35,471.95v1.7M266.25,471.95v1.7M267.81,471.95v1.7M269.13,471.95v1.7M270.27,471.95v1.7M271.27,471.95v1.7M278.10,471.95v1.7M281.56,471.95v1.7M284.02,471.95v1.7M285.93,471.95v1.7M287.49,471.95v1.7M288.80,471.95v1.7M289.94,471.95v1.7M290.95,471.95v1.7M297.77,471.95v1.7M301.24,471.95v1.7M303.70,471.95v1.7M305.60,471.95v1.7M307.16,471.95v1.7M308.48,471.95v1.7M309.62,471.95v1.7M310.62,471.95v1.7M317.45,471.95v1.7M320.91,471.95v1.7M323.37,471.95v1.7M325.28,471.95v1.7M326.84,471.95v1.7M328.15,471.95v1.7M329.29,471.95v1.7M330.30,471.95v1.7" stroke="#000" stroke-width="1.0" fill="none"/>
<path d="M252.50,471.95v2.8M272.18,471.95v2.8M291.85,471.95v2.8M311.52,471.95v2.8M331.20,471.95v2.8" stroke="#000" stroke-width="1.2" fill="none"/>
<text x="246.70" y="473.80" font-size="7.5" text-anchor="end" stroke="#000" stroke-width="0.25">0</text>
<text x="246.70" y="456.19" font-size="7.5" text-anchor="end" stroke="#000" stroke-width="0.25">2</text>
<text x="246.70" y="438.59" font-size="7.5" text-anchor="end" stroke="#000" stroke-width="0.25">4</text>
<text x="246.70" y="420.98" font-size="7.5" text-anchor="end" stroke="#000" stroke-width="0.25">6</text>
<text x="251.90" y="484.30" font-size="7.4" text-anchor="middle" stroke="#000" stroke-width="0.25">10</text>
<text x="256.40" y="481.80" font-size="4.2" stroke="#000" stroke-width="0.15">0</text>
<text x="271.18" y="484.30" font-size="7.4" text-anchor="middle" stroke="#000" stroke-width="0.25">10</text>
<text x="275.68" y="481.80" font-size="4.2" stroke="#000" stroke-width="0.15">1</text>
<text x="290.45" y="484.30" font-size="7.4" text-anchor="middle" stroke="#000" stroke-width="0.25">10</text>
<text x="294.95" y="481.80" font-size="4.2" stroke="#000" stroke-width="0.15">2</text>
<text x="309.73" y="484.30" font-size="7.4" text-anchor="middle" stroke="#000" stroke-width="0.25">10</text>
<text x="314.23" y="481.80" font-size="4.2" stroke="#000" stroke-width="0.15">3</text>
<text x="329.00" y="484.30" font-size="7.4" text-anchor="middle" stroke="#000" stroke-width="0.25">10</text>
<text x="333.50" y="481.80" font-size="4.2" stroke="#000" stroke-width="0.15">4</text>
<text x="236.33" y="439.85" font-size="10.6" text-anchor="middle" textLength="30.50" lengthAdjust="spacingAndGlyphs" transform="rotate(-90 236.33 439.85)" stroke="#000" stroke-width="0.1">Counts</text>
<clipPath id="c381_408"><rect x="381.00" y="407.60" width="79.00" height="63.50"/></clipPath>
<g clip-path="url(#c381_408)">
<path d="M381.0,471.1L381.0,471.0L381.5,471.1L382.0,470.6L382.5,470.6L383.0,471.1L383.5,470.9L384.0,471.1L384.5,471.1L385.0,471.1L385.5,470.9L386.0,471.1L386.5,470.6L387.0,471.1L387.5,471.1L388.0,471.1L388.5,470.8L389.1,471.1L389.6,471.1L390.1,471.1L390.6,470.9L391.1,471.1L391.6,471.1L392.1,471.1L392.6,471.1L393.1,471.1L393.6,469.6L394.1,469.0L394.6,469.0L395.1,468.8L395.6,469.4L396.1,469.4L396.6,469.3L397.1,469.3L397.6,469.0L398.1,469.8L398.6,469.3L399.1,469.2L399.6,469.4L400.1,469.7L400.6,468.7L401.1,469.3L401.6,468.3L402.1,468.5L402.6,468.2L403.1,467.6L403.6,467.4L404.1,466.8L404.6,465.6L405.2,464.9L405.7,464.7L406.2,463.5L406.7,462.8L407.2,461.6L407.7,459.3L408.2,458.2L408.7,454.8L409.2,452.6L409.7,450.1L410.2,449.0L410.7,445.9L411.2,442.9L411.7,438.5L412.2,432.3L412.7,427.8L413.2,423.6L413.7,423.1L414.2,417.7L414.7,414.8L415.2,412.3L415.7,410.0L416.2,412.3L416.7,417.4L417.2,421.4L417.7,426.7L418.2,430.8L418.7,437.1L419.2,440.9L419.7,447.9L420.2,449.7L420.8,453.1L421.3,456.9L421.8,459.6L422.3,460.5L422.8,461.9L423.3,463.8L423.8,465.5L424.3,466.3L424.8,466.4L425.3,468.3L425.8,468.0L426.3,469.6L426.8,470.5L427.3,471.1L427.8,470.6L428.3,470.6L428.8,471.1L429.3,471.1L429.8,470.9L430.3,470.7L430.8,471.1L431.3,471.0L431.8,470.7L432.3,471.1L432.8,471.0L433.3,470.8L433.8,471.1L434.3,471.1L434.8,470.9L435.3,471.0L435.8,471.1L436.4,471.1L436.9,470.6L437.4,471.1L437.9,470.9L438.4,470.7L438.9,471.1L439.4,471.1L439.9,471.1L440.4,471.1L440.9,471.1L441.4,471.1L441.9,471.1L442.4,471.1L442.9,471.1L443.4,470.9L443.9,470.9L444.4,470.9L444.9,471.1L445.4,470.9L445.9,471.0L446.4,471.1L446.9,471.0L447.4,471.1L447.9,470.9L448.4,470.8L448.9,471.1L449.4,471.1L449.9,471.1L450.4,471.1L450.9,471.1L451.4,471.1L451.9,470.5L452.5,470.8L453.0,471.1L453.5,470.9L454.0,471.1L454.5,470.9L455.0,470.6L455.5,470.8L456.0,471.1L456.5,470.6L457.0,470.6L457.5,471.1L458.0,471.1L458.5,471.1L459.0,471.1L459.5,471.0L460.0,471.1L460.0,471.1 Z" fill="#d4887f" stroke="none"/>
<path d="M381.0,471.0L381.5,471.1L382.0,470.6L382.5,470.6L383.0,471.1L383.5,470.9L384.0,471.1L384.5,471.1L385.0,471.1L385.5,470.9L386.0,471.1L386.5,470.6L387.0,471.1L387.5,471.1L388.0,471.1L388.5,470.8L389.1,471.1L389.6,471.1L390.1,471.1L390.6,470.9L391.1,471.1L391.6,471.1L392.1,471.1L392.6,471.1L393.1,471.1L393.6,469.6L394.1,469.0L394.6,469.0L395.1,468.8L395.6,469.4L396.1,469.4L396.6,469.3L397.1,469.3L397.6,469.0L398.1,469.8L398.6,469.3L399.1,469.2L399.6,469.4L400.1,469.7L400.6,468.7L401.1,469.3L401.6,468.3L402.1,468.5L402.6,468.2L403.1,467.6L403.6,467.4L404.1,466.8L404.6,465.6L405.2,464.9L405.7,464.7L406.2,463.5L406.7,462.8L407.2,461.6L407.7,459.3L408.2,458.2L408.7,454.8L409.2,452.6L409.7,450.1L410.2,449.0L410.7,445.9L411.2,442.9L411.7,438.5L412.2,432.3L412.7,427.8L413.2,423.6L413.7,423.1L414.2,417.7L414.7,414.8L415.2,412.3L415.7,410.0L416.2,412.3L416.7,417.4L417.2,421.4L417.7,426.7L418.2,430.8L418.7,437.1L419.2,440.9L419.7,447.9L420.2,449.7L420.8,453.1L421.3,456.9L421.8,459.6L422.3,460.5L422.8,461.9L423.3,463.8L423.8,465.5L424.3,466.3L424.8,466.4L425.3,468.3L425.8,468.0L426.3,469.6L426.8,470.5L427.3,471.1L427.8,470.6L428.3,470.6L428.8,471.1L429.3,471.1L429.8,470.9L430.3,470.7L430.8,471.1L431.3,471.0L431.8,470.7L432.3,471.1L432.8,471.0L433.3,470.8L433.8,471.1L434.3,471.1L434.8,470.9L435.3,471.0L435.8,471.1L436.4,471.1L436.9,470.6L437.4,471.1L437.9,470.9L438.4,470.7L438.9,471.1L439.4,471.1L439.9,471.1L440.4,471.1L440.9,471.1L441.4,471.1L441.9,471.1L442.4,471.1L442.9,471.1L443.4,470.9L443.9,470.9L444.4,470.9L444.9,471.1L445.4,470.9L445.9,471.0L446.4,471.1L446.9,471.0L447.4,471.1L447.9,470.9L448.4,470.8L448.9,471.1L449.4,471.1L449.9,471.1L450.4,471.1L450.9,471.1L451.4,471.1L451.9,470.5L452.5,470.8L453.0,471.1L453.5,470.9L454.0,471.1L454.5,470.9L455.0,470.6L455.5,470.8L456.0,471.1L456.5,470.6L457.0,470.6L457.5,471.1L458.0,471.1L458.5,471.1L459.0,471.1L459.5,471.0L460.0,471.1" fill="none" stroke="#961a36" stroke-width="1.8" stroke-linejoin="round"/>
<path d="M381.0,471.1L381.5,470.9L382.0,471.1L382.5,470.7L383.0,470.9L383.5,471.1L384.0,470.9L384.5,471.0L385.0,471.1L385.5,471.0L386.0,470.9L386.5,471.1L387.0,470.4L387.5,470.7L388.0,471.1L388.5,471.1L389.1,471.1L389.6,470.5L390.1,470.7L390.6,470.9L391.1,471.1L391.6,471.1L392.1,471.1L392.6,471.0L393.1,471.1L393.6,470.9L394.1,470.9L394.6,470.8L395.1,471.1L395.6,471.1L396.1,471.1L396.6,470.7L397.1,471.1L397.6,470.6L398.1,471.1L398.6,471.1L399.1,470.3L399.6,471.1L400.1,471.1L400.6,470.9L401.1,470.9L401.6,471.1L402.1,471.0L402.6,471.1L403.1,470.8L403.6,470.4L404.1,470.5L404.6,470.8L405.2,470.8L405.7,469.3L406.2,469.6L406.7,468.4L407.2,467.0L407.7,466.6L408.2,466.5L408.7,464.9L409.2,464.4L409.7,462.7L410.2,462.5L410.7,461.7L411.2,459.2L411.7,459.0L412.2,457.5L412.7,453.5L413.2,451.0L413.7,451.5L414.2,449.3L414.7,442.7L415.2,439.1L415.7,438.6L416.2,436.6L416.7,431.6L417.2,429.2L417.7,434.3L418.2,434.5L418.7,434.6L419.2,437.8L419.7,437.4L420.2,439.4L420.8,438.0L421.3,439.5L421.8,440.4L422.3,438.9L422.8,440.3L423.3,440.7L423.8,441.6L424.3,441.7L424.8,443.4L425.3,441.9L425.8,443.4L426.3,444.2L426.8,444.4L427.3,444.0L427.8,443.1L428.3,447.9L428.8,449.5L429.3,450.3L429.8,451.5L430.3,453.9L430.8,453.5L431.3,455.1L431.8,457.5L432.3,459.0L432.8,459.7L433.3,458.8L433.8,461.0L434.3,460.7L434.8,461.4L435.3,462.6L435.8,464.8L436.4,467.0L436.9,467.3L437.4,468.5L437.9,468.5L438.4,469.4L438.9,470.0L439.4,470.7L439.9,470.2L440.4,470.8L440.9,471.1L441.4,470.5L441.9,471.1L442.4,470.6L442.9,470.7L443.4,470.4L443.9,471.1L444.4,471.1L444.9,470.3L445.4,471.1L445.9,471.1L446.4,470.9L446.9,471.1L447.4,470.4L447.9,470.2L448.4,471.1L448.9,471.1L449.4,470.3L449.9,471.1L450.4,471.1L450.9,471.1L451.4,471.1L451.9,470.9L452.5,471.1L453.0,471.0L453.5,470.3L454.0,471.1L454.5,470.2L455.0,471.1L455.5,470.6L456.0,470.6L456.5,470.2L457.0,471.1L457.5,471.1L458.0,471.0L458.5,470.9L459.0,471.1L459.5,471.1L460.0,470.3" fill="none" stroke="#323f5e" stroke-width="1.6" stroke-linejoin="round"/>
</g>
<rect x="381.00" y="408.60" width="79.00" height="62.50" fill="none" stroke="#000" stroke-width="1.7"/>
<path d="M380.15,471.10h-1.7M380.15,468.72h-1.7M380.15,466.35h-1.7M380.15,463.97h-1.7M380.15,461.59h-1.7M380.15,459.22h-1.7M380.15,456.84h-1.7M380.15,454.47h-1.7M380.15,452.09h-1.7M380.15,449.71h-1.7M380.15,447.34h-1.7M380.15,444.96h-1.7M380.15,442.58h-1.7M380.15,440.21h-1.7M380.15,437.83h-1.7M380.15,435.45h-1.7M380.15,433.08h-1.7M380.15,430.70h-1.7M380.15,428.32h-1.7M380.15,425.95h-1.7M380.15,423.57h-1.7M380.15,421.20h-1.7M380.15,418.82h-1.7M380.15,416.44h-1.7M380.15,414.07h-1.7M380.15,411.69h-1.7M380.15,409.31h-1.7" stroke="#000" stroke-width="1.0" fill="none"/>
<path d="M380.15,471.10h-2.8M380.15,459.22h-2.8M380.15,447.34h-2.8M380.15,435.45h-2.8M380.15,423.57h-2.8M380.15,411.69h-2.8" stroke="#000" stroke-width="1.3" fill="none"/>
<path d="M386.95,471.95v1.7M390.42,471.95v1.7M392.89,471.95v1.7M394.80,471.95v1.7M396.37,471.95v1.7M397.69,471.95v1.7M398.84,471.95v1.7M399.85,471.95v1.7M406.70,471.95v1.7M410.17,471.95v1.7M412.64,471.95v1.7M414.55,471.95v1.7M416.12,471.95v1.7M417.44,471.95v1.7M418.59,471.95v1.7M419.60,471.95v1.7M426.45,471.95v1.7M429.92,471.95v1.7M432.39,471.95v1.7M434.30,471.95v1.7M435.87,471.95v1.7M437.19,471.95v1.7M438.34,471.95v1.7M439.35,471.95v1.7M446.20,471.95v1.7M449.67,471.95v1.7M452.14,471.95v1.7M454.05,471.95v1.7M455.62,471.95v1.7M456.94,471.95v1.7M458.09,471.95v1.7M459.10,471.95v1.7" stroke="#000" stroke-width="1.0" fill="none"/>
<path d="M381.00,471.95v2.8M400.75,471.95v2.8M420.50,471.95v2.8M440.25,471.95v2.8M460.00,471.95v2.8" stroke="#000" stroke-width="1.2" fill="none"/>
<text x="375.20" y="473.80" font-size="7.5" text-anchor="end" stroke="#000" stroke-width="0.25">0</text>
<text x="375.20" y="461.92" font-size="7.5" text-anchor="end" stroke="#000" stroke-width="0.25">5</text>
<text x="375.20" y="450.04" font-size="7.5" text-anchor="end" stroke="#000" stroke-width="0.25">10</text>
<text x="375.20" y="438.15" font-size="7.5" text-anchor="end" stroke="#000" stroke-width="0.25">15</text>
<text x="375.20" y="426.27" font-size="7.5" text-anchor="end" stroke="#000" stroke-width="0.25">20</text>
<text x="375.20" y="414.39" font-size="7.5" text-anchor="end" stroke="#000" stroke-width="0.25">25</text>
<text x="380.40" y="484.30" font-size="7.4" text-anchor="middle" stroke="#000" stroke-width="0.25">10</text>
<text x="384.90" y="481.80" font-size="4.2" stroke="#000" stroke-width="0.15">0</text>
<text x="399.75" y="484.30" font-size="7.4" text-anchor="middle" stroke="#000" stroke-width="0.25">10</text>
<text x="404.25" y="481.80" font-size="4.2" stroke="#000" stroke-width="0.15">1</text>
<text x="419.10" y="484.30" font-size="7.4" text-anchor="middle" stroke="#000" stroke-width="0.25">10</text>
<text x="423.60" y="481.80" font-size="4.2" stroke="#000" stroke-width="0.15">2</text>
<text x="438.45" y="484.30" font-size="7.4" text-anchor="middle" stroke="#000" stroke-width="0.25">10</text>
<text x="442.95" y="481.80" font-size="4.2" stroke="#000" stroke-width="0.15">3</text>
<text x="457.80" y="484.30" font-size="7.4" text-anchor="middle" stroke="#000" stroke-width="0.25">10</text>
<text x="462.30" y="481.80" font-size="4.2" stroke="#000" stroke-width="0.15">4</text>
<text x="360.66" y="439.85" font-size="10.6" text-anchor="middle" textLength="30.50" lengthAdjust="spacingAndGlyphs" transform="rotate(-90 360.66 439.85)" stroke="#000" stroke-width="0.1">Counts</text>
<clipPath id="c123_503"><rect x="123.70" y="502.60" width="79.50" height="62.80"/></clipPath>
<g clip-path="url(#c123_503)">
<path d="M123.7,565.4L123.7,565.2L124.2,565.4L124.7,565.1L125.2,565.4L125.7,565.4L126.2,565.3L126.7,565.4L127.2,565.4L127.8,565.4L128.3,565.4L128.8,565.3L129.3,565.4L129.8,565.4L130.3,565.4L130.8,565.4L131.3,565.2L131.8,565.1L132.3,565.4L132.8,565.2L133.3,565.4L133.8,565.2L134.3,565.4L134.8,565.3L135.3,565.4L135.9,565.1L136.4,565.2L136.9,565.4L137.4,565.4L137.9,565.4L138.4,565.4L138.9,565.4L139.4,564.8L139.9,564.7L140.4,565.2L140.9,565.1L141.4,564.5L141.9,564.1L142.4,564.0L142.9,564.0L143.4,563.7L144.0,563.6L144.5,563.3L145.0,562.7L145.5,562.9L146.0,562.0L146.5,561.5L147.0,561.5L147.5,560.5L148.0,560.5L148.5,559.1L149.0,558.5L149.5,558.0L150.0,557.0L150.5,555.6L151.0,555.1L151.6,553.9L152.1,551.7L152.6,549.6L153.1,548.6L153.6,545.2L154.1,543.0L154.6,539.3L155.1,535.9L155.6,530.4L156.1,526.8L156.6,521.2L157.1,517.5L157.6,520.3L158.1,521.2L158.6,523.8L159.1,526.2L159.7,526.2L160.2,529.6L160.7,535.7L161.2,540.7L161.7,544.9L162.2,548.3L162.7,552.7L163.2,555.1L163.7,557.4L164.2,560.0L164.7,561.6L165.2,563.3L165.7,564.1L166.2,564.8L166.7,564.8L167.2,565.4L167.8,565.4L168.3,565.4L168.8,565.4L169.3,565.4L169.8,565.1L170.3,565.4L170.8,565.1L171.3,565.2L171.8,565.4L172.3,565.4L172.8,565.4L173.3,565.1L173.8,565.4L174.3,565.2L174.8,565.4L175.3,565.4L175.9,565.4L176.4,565.4L176.9,565.4L177.4,565.3L177.9,565.3L178.4,565.4L178.9,565.4L179.4,565.4L179.9,565.4L180.4,565.4L180.9,565.4L181.4,565.3L181.9,565.1L182.4,565.4L182.9,565.3L183.5,565.4L184.0,565.2L184.5,565.4L185.0,565.3L185.5,565.4L186.0,565.4L186.5,565.1L187.0,565.4L187.5,565.4L188.0,565.4L188.5,565.1L189.0,565.3L189.5,565.1L190.0,565.4L190.5,565.4L191.0,565.3L191.6,565.4L192.1,565.4L192.6,565.4L193.1,565.4L193.6,565.4L194.1,565.4L194.6,565.1L195.1,565.3L195.6,565.2L196.1,565.3L196.6,565.4L197.1,565.1L197.6,565.4L198.1,565.4L198.6,565.4L199.1,565.4L199.7,565.4L200.2,565.4L200.7,565.3L201.2,565.4L201.7,565.4L202.2,565.4L202.7,565.2L203.2,565.4L203.2,565.4 Z" fill="#d4887f" stroke="none"/>
<path d="M123.7,565.2L124.2,565.4L124.7,565.1L125.2,565.4L125.7,565.4L126.2,565.3L126.7,565.4L127.2,565.4L127.8,565.4L128.3,565.4L128.8,565.3L129.3,565.4L129.8,565.4L130.3,565.4L130.8,565.4L131.3,565.2L131.8,565.1L132.3,565.4L132.8,565.2L133.3,565.4L133.8,565.2L134.3,565.4L134.8,565.3L135.3,565.4L135.9,565.1L136.4,565.2L136.9,565.4L137.4,565.4L137.9,565.4L138.4,565.4L138.9,565.4L139.4,564.8L139.9,564.7L140.4,565.2L140.9,565.1L141.4,564.5L141.9,564.1L142.4,564.0L142.9,564.0L143.4,563.7L144.0,563.6L144.5,563.3L145.0,562.7L145.5,562.9L146.0,562.0L146.5,561.5L147.0,561.5L147.5,560.5L148.0,560.5L148.5,559.1L149.0,558.5L149.5,558.0L150.0,557.0L150.5,555.6L151.0,555.1L151.6,553.9L152.1,551.7L152.6,549.6L153.1,548.6L153.6,545.2L154.1,543.0L154.6,539.3L155.1,535.9L155.6,530.4L156.1,526.8L156.6,521.2L157.1,517.5L157.6,520.3L158.1,521.2L158.6,523.8L159.1,526.2L159.7,526.2L160.2,529.6L160.7,535.7L161.2,540.7L161.7,544.9L162.2,548.3L162.7,552.7L163.2,555.1L163.7,557.4L164.2,560.0L164.7,561.6L165.2,563.3L165.7,564.1L166.2,564.8L166.7,564.8L167.2,565.4L167.8,565.4L168.3,565.4L168.8,565.4L169.3,565.4L169.8,565.1L170.3,565.4L170.8,565.1L171.3,565.2L171.8,565.4L172.3,565.4L172.8,565.4L173.3,565.1L173.8,565.4L174.3,565.2L174.8,565.4L175.3,565.4L175.9,565.4L176.4,565.4L176.9,565.4L177.4,565.3L177.9,565.3L178.4,565.4L178.9,565.4L179.4,565.4L179.9,565.4L180.4,565.4L180.9,565.4L181.4,565.3L181.9,565.1L182.4,565.4L182.9,565.3L183.5,565.4L184.0,565.2L184.5,565.4L185.0,565.3L185.5,565.4L186.0,565.4L186.5,565.1L187.0,565.4L187.5,565.4L188.0,565.4L188.5,565.1L189.0,565.3L189.5,565.1L190.0,565.4L190.5,565.4L191.0,565.3L191.6,565.4L192.1,565.4L192.6,565.4L193.1,565.4L193.6,565.4L194.1,565.4L194.6,565.1L195.1,565.3L195.6,565.2L196.1,565.3L196.6,565.4L197.1,565.1L197.6,565.4L198.1,565.4L198.6,565.4L199.1,565.4L199.7,565.4L200.2,565.4L200.7,565.3L201.2,565.4L201.7,565.4L202.2,565.4L202.7,565.2L203.2,565.4" fill="none" stroke="#961a36" stroke-width="1.8" stroke-linejoin="round"/>
<path d="M123.7,565.4L124.2,565.4L124.7,565.4L125.2,565.4L125.7,565.4L126.2,565.4L126.7,565.4L127.2,565.4L127.8,565.4L128.3,565.4L128.8,565.4L129.3,565.4L129.8,565.4L130.3,565.4L130.8,565.4L131.3,565.4L131.8,565.4L132.3,565.4L132.8,565.4L133.3,565.4L133.8,565.4L134.3,565.4L134.8,565.4L135.3,565.4L135.9,565.4L136.4,565.4L136.9,565.4L137.4,565.4L137.9,565.4L138.4,565.4L138.9,565.4L139.4,565.4L139.9,565.4L140.4,565.4L140.9,565.4L141.4,565.4L141.9,565.4L142.4,565.4L142.9,565.4L143.4,565.4L144.0,565.4L144.5,565.4L145.0,565.4L145.5,565.4L146.0,565.4L146.5,565.4L147.0,565.4L147.5,565.4L148.0,565.4L148.5,565.3L149.0,565.2L149.5,564.9L150.0,564.6L150.5,564.2L151.0,563.8L151.6,563.4L152.1,563.0L152.6,562.6L153.1,562.2L153.6,561.8L154.1,561.3L154.6,560.8L155.1,560.4L155.6,559.9L156.1,559.4L156.6,558.9L157.1,558.5L157.6,558.1L158.1,557.7L158.6,557.3L159.1,556.9L159.7,556.4L160.2,555.8L160.7,555.1L161.2,554.3L161.7,553.5L162.2,552.6L162.7,551.5L163.2,550.3L163.7,549.0L164.2,547.6L164.7,546.0L165.2,544.2L165.7,542.2L166.2,540.2L166.7,538.4L167.2,536.6L167.8,534.9L168.3,533.8L168.8,533.1L169.3,532.4L169.8,532.1L170.3,532.1L170.8,532.6L171.3,533.4L171.8,534.2L172.3,535.4L172.8,536.8L173.3,538.6L173.8,541.2L174.3,545.0L174.8,548.6L175.3,551.2L175.9,553.5L176.4,555.6L176.9,557.8L177.4,560.4L177.9,562.8L178.4,564.2L178.9,564.9L179.4,565.3L179.9,565.4L180.4,565.4L180.9,565.4L181.4,565.4L181.9,565.4L182.4,565.4L182.9,565.4L183.5,565.4L184.0,565.4L184.5,565.4L185.0,565.4L185.5,565.4L186.0,565.4L186.5,565.4L187.0,565.4L187.5,565.4L188.0,565.4L188.5,565.4L189.0,565.4L189.5,565.4L190.0,565.4L190.5,565.4L191.0,565.4L191.6,565.4L192.1,565.4L192.6,565.4L193.1,565.4L193.6,565.4L194.1,565.4L194.6,565.4L195.1,565.4L195.6,565.4L196.1,565.4L196.6,565.4L197.1,565.4L197.6,565.4L198.1,565.4L198.6,565.4L199.1,565.4L199.7,565.4L200.2,565.4L200.7,565.4L201.2,565.4L201.7,565.4L202.2,565.4L202.7,565.4L203.2,565.4" fill="none" stroke="#323f5e" stroke-width="1.6" stroke-linejoin="round"/>
</g>
<rect x="123.70" y="503.60" width="79.50" height="61.80" fill="none" stroke="#000" stroke-width="1.7"/>
<path d="M122.85,565.40h-1.7M122.85,563.36h-1.7M122.85,561.32h-1.7M122.85,559.28h-1.7M122.85,557.24h-1.7M122.85,555.20h-1.7M122.85,553.16h-1.7M122.85,551.12h-1.7M122.85,549.08h-1.7M122.85,547.04h-1.7M122.85,545.00h-1.7M122.85,542.96h-1.7M122.85,540.92h-1.7M122.85,538.89h-1.7M122.85,536.85h-1.7M122.85,534.81h-1.7M122.85,532.77h-1.7M122.85,530.73h-1.7M122.85,528.69h-1.7M122.85,526.65h-1.7M122.85,524.61h-1.7M122.85,522.57h-1.7M122.85,520.53h-1.7M122.85,518.49h-1.7M122.85,516.45h-1.7M122.85,514.41h-1.7M122.85,512.37h-1.7M122.85,510.33h-1.7M122.85,508.29h-1.7M122.85,506.25h-1.7M122.85,504.21h-1.7" stroke="#000" stroke-width="1.0" fill="none"/>
<path d="M122.85,565.40h-2.8M122.85,555.20h-2.8M122.85,545.00h-2.8M122.85,534.81h-2.8M122.85,524.61h-2.8M122.85,514.41h-2.8M122.85,504.21h-2.8" stroke="#000" stroke-width="1.3" fill="none"/>
<path d="M129.68,566.25v1.7M133.18,566.25v1.7M135.67,566.25v1.7M137.59,566.25v1.7M139.17,566.25v1.7M140.50,566.25v1.7M141.65,566.25v1.7M142.67,566.25v1.7M149.56,566.25v1.7M153.06,566.25v1.7M155.54,566.25v1.7M157.47,566.25v1.7M159.04,566.25v1.7M160.37,566.25v1.7M161.52,566.25v1.7M162.54,566.25v1.7M169.43,566.25v1.7M172.93,566.25v1.7M175.42,566.25v1.7M177.34,566.25v1.7M178.92,566.25v1.7M180.25,566.25v1.7M181.40,566.25v1.7M182.42,566.25v1.7M189.31,566.25v1.7M192.81,566.25v1.7M195.29,566.25v1.7M197.22,566.25v1.7M198.79,566.25v1.7M200.12,566.25v1.7M201.27,566.25v1.7M202.29,566.25v1.7" stroke="#000" stroke-width="1.0" fill="none"/>
<path d="M123.70,566.25v2.8M143.57,566.25v2.8M163.45,566.25v2.8M183.32,566.25v2.8M203.20,566.25v2.8" stroke="#000" stroke-width="1.2" fill="none"/>
<text x="117.90" y="568.10" font-size="7.5" text-anchor="end" stroke="#000" stroke-width="0.25">0</text>
<text x="117.90" y="557.90" font-size="7.5" text-anchor="end" stroke="#000" stroke-width="0.25">10</text>
<text x="117.90" y="547.70" font-size="7.5" text-anchor="end" stroke="#000" stroke-width="0.25">20</text>
<text x="117.90" y="537.51" font-size="7.5" text-anchor="end" stroke="#000" stroke-width="0.25">30</text>
<text x="117.90" y="527.31" font-size="7.5" text-anchor="end" stroke="#000" stroke-width="0.25">40</text>
<text x="117.90" y="517.11" font-size="7.5" text-anchor="end" stroke="#000" stroke-width="0.25">50</text>
<text x="117.90" y="506.91" font-size="7.5" text-anchor="end" stroke="#000" stroke-width="0.25">60</text>
<text x="123.10" y="578.60" font-size="7.4" text-anchor="middle" stroke="#000" stroke-width="0.25">10</text>
<text x="127.60" y="576.10" font-size="4.2" stroke="#000" stroke-width="0.15">0</text>
<text x="142.58" y="578.60" font-size="7.4" text-anchor="middle" stroke="#000" stroke-width="0.25">10</text>
<text x="147.08" y="576.10" font-size="4.2" stroke="#000" stroke-width="0.15">1</text>
<text x="162.05" y="578.60" font-size="7.4" text-anchor="middle" stroke="#000" stroke-width="0.25">10</text>
<text x="166.55" y="576.10" font-size="4.2" stroke="#000" stroke-width="0.15">2</text>
<text x="181.53" y="578.60" font-size="7.4" text-anchor="middle" stroke="#000" stroke-width="0.25">10</text>
<text x="186.03" y="576.10" font-size="4.2" stroke="#000" stroke-width="0.15">3</text>
<text x="201.00" y="578.60" font-size="7.4" text-anchor="middle" stroke="#000" stroke-width="0.25">10</text>
<text x="205.50" y="576.10" font-size="4.2" stroke="#000" stroke-width="0.15">4</text>
<text x="103.36" y="534.50" font-size="10.6" text-anchor="middle" textLength="30.50" lengthAdjust="spacingAndGlyphs" transform="rotate(-90 103.36 534.50)" stroke="#000" stroke-width="0.1">Counts</text>
<clipPath id="c252_503"><rect x="252.50" y="502.60" width="78.70" height="62.80"/></clipPath>
<g clip-path="url(#c252_503)">
<path d="M252.5,565.4L252.5,565.4L253.0,565.3L253.5,565.4L254.0,564.9L254.5,565.3L255.0,565.4L255.5,564.9L256.0,565.4L256.5,565.0L257.0,565.4L257.5,565.2L258.0,564.9L258.6,565.1L259.1,565.3L259.6,565.1L260.1,565.4L260.6,565.4L261.1,565.0L261.6,565.1L262.1,565.4L262.6,565.4L263.1,565.4L263.6,565.4L264.1,565.4L264.6,564.9L265.1,565.2L265.6,565.4L266.1,565.4L266.6,565.4L267.1,565.4L267.6,565.4L268.1,565.4L268.6,565.4L269.1,565.1L269.7,564.9L270.2,565.4L270.7,565.4L271.2,564.6L271.7,565.2L272.2,564.6L272.7,563.9L273.2,563.7L273.7,563.8L274.2,562.9L274.7,562.7L275.2,563.3L275.7,562.1L276.2,562.2L276.7,561.7L277.2,561.2L277.7,560.7L278.2,560.0L278.7,560.4L279.2,559.8L279.7,559.2L280.2,558.5L280.8,556.7L281.3,555.6L281.8,555.3L282.3,553.5L282.8,551.9L283.3,550.2L283.8,548.4L284.3,546.4L284.8,543.1L285.3,541.5L285.8,537.9L286.3,535.7L286.8,532.1L287.3,528.7L287.8,524.4L288.3,522.3L288.8,516.9L289.3,512.9L289.8,507.6L290.3,505.4L290.8,505.9L291.3,507.1L291.8,511.0L292.4,519.4L292.9,522.0L293.4,530.4L293.9,533.7L294.4,539.2L294.9,542.9L295.4,548.2L295.9,551.9L296.4,555.1L296.9,557.4L297.4,559.6L297.9,561.0L298.4,562.5L298.9,563.6L299.4,563.5L299.9,565.0L300.4,564.3L300.9,565.4L301.4,565.1L301.9,565.1L302.4,564.9L302.9,565.1L303.5,565.4L304.0,565.1L304.5,564.9L305.0,565.1L305.5,565.4L306.0,565.4L306.5,565.4L307.0,565.4L307.5,565.2L308.0,565.4L308.5,565.3L309.0,565.1L309.5,565.3L310.0,565.1L310.5,565.1L311.0,565.2L311.5,565.4L312.0,565.2L312.5,565.3L313.0,565.0L313.5,565.4L314.0,565.4L314.6,565.4L315.1,565.4L315.6,565.4L316.1,565.1L316.6,565.3L317.1,565.4L317.6,565.4L318.1,565.4L318.6,565.4L319.1,565.0L319.6,565.4L320.1,565.4L320.6,565.3L321.1,565.1L321.6,565.4L322.1,565.4L322.6,565.4L323.1,565.4L323.6,565.4L324.1,565.4L324.6,565.4L325.1,565.4L325.7,565.3L326.2,565.4L326.7,565.0L327.2,565.4L327.7,565.4L328.2,565.2L328.7,565.4L329.2,565.4L329.7,565.4L330.2,565.4L330.7,565.3L331.2,565.1L331.2,565.4 Z" fill="#d4887f" stroke="none"/>
<path d="M252.5,565.4L253.0,565.3L253.5,565.4L254.0,564.9L254.5,565.3L255.0,565.4L255.5,564.9L256.0,565.4L256.5,565.0L257.0,565.4L257.5,565.2L258.0,564.9L258.6,565.1L259.1,565.3L259.6,565.1L260.1,565.4L260.6,565.4L261.1,565.0L261.6,565.1L262.1,565.4L262.6,565.4L263.1,565.4L263.6,565.4L264.1,565.4L264.6,564.9L265.1,565.2L265.6,565.4L266.1,565.4L266.6,565.4L267.1,565.4L267.6,565.4L268.1,565.4L268.6,565.4L269.1,565.1L269.7,564.9L270.2,565.4L270.7,565.4L271.2,564.6L271.7,565.2L272.2,564.6L272.7,563.9L273.2,563.7L273.7,563.8L274.2,562.9L274.7,562.7L275.2,563.3L275.7,562.1L276.2,562.2L276.7,561.7L277.2,561.2L277.7,560.7L278.2,560.0L278.7,560.4L279.2,559.8L279.7,559.2L280.2,558.5L280.8,556.7L281.3,555.6L281.8,555.3L282.3,553.5L282.8,551.9L283.3,550.2L283.8,548.4L284.3,546.4L284.8,543.1L285.3,541.5L285.8,537.9L286.3,535.7L286.8,532.1L287.3,528.7L287.8,524.4L288.3,522.3L288.8,516.9L289.3,512.9L289.8,507.6L290.3,505.4L290.8,505.9L291.3,507.1L291.8,511.0L292.4,519.4L292.9,522.0L293.4,530.4L293.9,533.7L294.4,539.2L294.9,542.9L295.4,548.2L295.9,551.9L296.4,555.1L296.9,557.4L297.4,559.6L297.9,561.0L298.4,562.5L298.9,563.6L299.4,563.5L299.9,565.0L300.4,564.3L300.9,565.4L301.4,565.1L301.9,565.1L302.4,564.9L302.9,565.1L303.5,565.4L304.0,565.1L304.5,564.9L305.0,565.1L305.5,565.4L306.0,565.4L306.5,565.4L307.0,565.4L307.5,565.2L308.0,565.4L308.5,565.3L309.0,565.1L309.5,565.3L310.0,565.1L310.5,565.1L311.0,565.2L311.5,565.4L312.0,565.2L312.5,565.3L313.0,565.0L313.5,565.4L314.0,565.4L314.6,565.4L315.1,565.4L315.6,565.4L316.1,565.1L316.6,565.3L317.1,565.4L317.6,565.4L318.1,565.4L318.6,565.4L319.1,565.0L319.6,565.4L320.1,565.4L320.6,565.3L321.1,565.1L321.6,565.4L322.1,565.4L322.6,565.4L323.1,565.4L323.6,565.4L324.1,565.4L324.6,565.4L325.1,565.4L325.7,565.3L326.2,565.4L326.7,565.0L327.2,565.4L327.7,565.4L328.2,565.2L328.7,565.4L329.2,565.4L329.7,565.4L330.2,565.4L330.7,565.3L331.2,565.1" fill="none" stroke="#961a36" stroke-width="1.8" stroke-linejoin="round"/>
<path d="M252.5,565.4L253.0,565.3L253.5,565.4L254.0,564.9L254.5,565.1L255.0,565.1L255.5,565.4L256.0,565.0L256.5,565.1L257.0,565.3L257.5,565.4L258.0,565.4L258.6,564.9L259.1,565.3L259.6,565.4L260.1,565.3L260.6,565.4L261.1,565.4L261.6,565.1L262.1,565.4L262.6,565.4L263.1,564.9L263.6,565.4L264.1,565.4L264.6,565.4L265.1,565.3L265.6,565.4L266.1,565.4L266.6,564.9L267.1,565.3L267.6,565.4L268.1,565.0L268.6,565.4L269.1,564.9L269.7,565.2L270.2,565.4L270.7,565.4L271.2,563.5L271.7,563.2L272.2,563.5L272.7,562.2L273.2,562.5L273.7,562.5L274.2,562.1L274.7,562.3L275.2,561.5L275.7,561.4L276.2,561.4L276.7,561.1L277.2,561.0L277.7,560.1L278.2,559.4L278.7,560.1L279.2,558.8L279.7,557.9L280.2,557.0L280.8,556.7L281.3,555.7L281.8,555.3L282.3,553.9L282.8,552.9L283.3,552.5L283.8,550.2L284.3,548.7L284.8,546.8L285.3,544.9L285.8,540.3L286.3,537.6L286.8,534.4L287.3,532.5L287.8,529.1L288.3,525.7L288.8,521.7L289.3,518.3L289.8,514.1L290.3,515.2L290.8,513.1L291.3,517.6L291.8,517.0L292.4,516.5L292.9,520.2L293.4,522.4L293.9,525.7L294.4,531.7L294.9,538.1L295.4,542.5L295.9,544.4L296.4,549.5L296.9,552.4L297.4,555.3L297.9,556.4L298.4,558.1L298.9,559.6L299.4,559.7L299.9,560.4L300.4,561.1L300.9,561.2L301.4,561.5L301.9,562.1L302.4,563.4L302.9,563.3L303.5,563.5L304.0,563.6L304.5,564.3L305.0,564.7L305.5,565.2L306.0,565.4L306.5,565.0L307.0,565.4L307.5,565.1L308.0,564.9L308.5,565.4L309.0,565.4L309.5,565.4L310.0,565.0L310.5,565.0L311.0,564.9L311.5,565.3L312.0,565.4L312.5,565.4L313.0,565.3L313.5,565.1L314.0,565.4L314.6,564.9L315.1,565.4L315.6,564.9L316.1,565.4L316.6,565.4L317.1,565.4L317.6,565.2L318.1,564.9L318.6,565.4L319.1,565.4L319.6,565.4L320.1,565.1L320.6,565.4L321.1,565.4L321.6,565.4L322.1,565.4L322.6,565.4L323.1,565.4L323.6,565.3L324.1,565.2L324.6,565.2L325.1,565.0L325.7,565.3L326.2,565.2L326.7,565.2L327.2,565.4L327.7,564.9L328.2,565.4L328.7,565.0L329.2,565.4L329.7,565.4L330.2,565.4L330.7,565.3L331.2,565.4" fill="none" stroke="#323f5e" stroke-width="1.6" stroke-linejoin="round"/>
</g>
<rect x="252.50" y="503.60" width="78.70" height="61.80" fill="none" stroke="#000" stroke-width="1.7"/>
<path d="M251.65,565.40h-1.7M251.65,563.05h-1.7M251.65,560.70h-1.7M251.65,558.35h-1.7M251.65,556.00h-1.7M251.65,553.65h-1.7M251.65,551.30h-1.7M251.65,548.95h-1.7M251.65,546.60h-1.7M251.65,544.25h-1.7M251.65,541.90h-1.7M251.65,539.55h-1.7M251.65,537.20h-1.7M251.65,534.85h-1.7M251.65,532.50h-1.7M251.65,530.15h-1.7M251.65,527.80h-1.7M251.65,525.45h-1.7M251.65,523.10h-1.7M251.65,520.75h-1.7M251.65,518.40h-1.7M251.65,516.05h-1.7M251.65,513.70h-1.7M251.65,511.35h-1.7M251.65,509.00h-1.7M251.65,506.65h-1.7M251.65,504.30h-1.7" stroke="#000" stroke-width="1.0" fill="none"/>
<path d="M251.65,565.40h-2.8M251.65,553.65h-2.8M251.65,541.90h-2.8M251.65,530.15h-2.8M251.65,518.40h-2.8M251.65,506.65h-2.8" stroke="#000" stroke-width="1.3" fill="none"/>
<path d="M258.42,566.25v1.7M261.89,566.25v1.7M264.35,566.25v1.7M266.25,566.25v1.7M267.81,566.25v1.7M269.13,566.25v1.7M270.27,566.25v1.7M271.27,566.25v1.7M278.10,566.25v1.7M281.56,566.25v1.7M284.02,566.25v1.7M285.93,566.25v1.7M287.49,566.25v1.7M288.80,566.25v1.7M289.94,566.25v1.7M290.95,566.25v1.7M297.77,566.25v1.7M301.24,566.25v1.7M303.70,566.25v1.7M305.60,566.25v1.7M307.16,566.25v1.7M308.48,566.25v1.7M309.62,566.25v1.7M310.62,566.25v1.7M317.45,566.25v1.7M320.91,566.25v1.7M323.37,566.25v1.7M325.28,566.25v1.7M326.84,566.25v1.7M328.15,566.25v1.7M329.29,566.25v1.7M330.30,566.25v1.7" stroke="#000" stroke-width="1.0" fill="none"/>
<path d="M252.50,566.25v2.8M272.18,566.25v2.8M291.85,566.25v2.8M311.52,566.25v2.8M331.20,566.25v2.8" stroke="#000" stroke-width="1.2" fill="none"/>
<text x="246.70" y="568.10" font-size="7.5" text-anchor="end" stroke="#000" stroke-width="0.25">0</text>
<text x="246.70" y="556.35" font-size="7.5" text-anchor="end" stroke="#000" stroke-width="0.25">5</text>
<text x="246.70" y="544.60" font-size="7.5" text-anchor="end" stroke="#000" stroke-width="0.25">10</text>
<text x="246.70" y="532.85" font-size="7.5" text-anchor="end" stroke="#000" stroke-width="0.25">15</text>
<text x="246.70" y="521.10" font-size="7.5" text-anchor="end" stroke="#000" stroke-width="0.25">20</text>
<text x="246.70" y="509.35" font-size="7.5" text-anchor="end" stroke="#000" stroke-width="0.25">25</text>
<text x="251.90" y="578.60" font-size="7.4" text-anchor="middle" stroke="#000" stroke-width="0.25">10</text>
<text x="256.40" y="576.10" font-size="4.2" stroke="#000" stroke-width="0.15">0</text>
<text x="271.18" y="578.60" font-size="7.4" text-anchor="middle" stroke="#000" stroke-width="0.25">10</text>
<text x="275.68" y="576.10" font-size="4.2" stroke="#000" stroke-width="0.15">1</text>
<text x="290.45" y="578.60" font-size="7.4" text-anchor="middle" stroke="#000" stroke-width="0.25">10</text>
<text x="294.95" y="576.10" font-size="4.2" stroke="#000" stroke-width="0.15">2</text>
<text x="309.73" y="578.60" font-size="7.4" text-anchor="middle" stroke="#000" stroke-width="0.25">10</text>
<text x="314.23" y="576.10" font-size="4.2" stroke="#000" stroke-width="0.15">3</text>
<text x="329.00" y="578.60" font-size="7.4" text-anchor="middle" stroke="#000" stroke-width="0.25">10</text>
<text x="333.50" y="576.10" font-size="4.2" stroke="#000" stroke-width="0.15">4</text>
<text x="232.16" y="534.50" font-size="10.6" text-anchor="middle" textLength="30.50" lengthAdjust="spacingAndGlyphs" transform="rotate(-90 232.16 534.50)" stroke="#000" stroke-width="0.1">Counts</text>
<clipPath id="c381_503"><rect x="381.00" y="502.60" width="79.00" height="62.80"/></clipPath>
<g clip-path="url(#c381_503)">
<path d="M381.0,565.4L381.0,565.4L381.5,565.1L382.0,565.4L382.5,565.4L383.0,565.4L383.5,565.0L384.0,565.4L384.5,565.3L385.0,565.4L385.5,565.4L386.0,565.2L386.5,565.3L387.0,565.2L387.5,565.4L388.0,565.4L388.5,565.4L389.1,565.4L389.6,565.4L390.1,565.4L390.6,565.4L391.1,565.3L391.6,565.1L392.1,565.2L392.6,563.6L393.1,558.2L393.6,559.3L394.1,558.0L394.6,558.6L395.1,558.7L395.6,559.2L396.1,559.1L396.6,559.3L397.1,559.2L397.6,558.2L398.1,558.8L398.6,558.2L399.1,557.9L399.6,558.4L400.1,559.0L400.6,558.7L401.1,555.2L401.6,554.0L402.1,553.2L402.6,551.2L403.1,551.8L403.6,548.8L404.1,545.9L404.6,539.7L405.2,540.6L405.7,540.7L406.2,543.5L406.7,543.3L407.2,539.4L407.7,535.1L408.2,530.3L408.7,525.7L409.2,524.2L409.7,521.0L410.2,517.3L410.7,515.2L411.2,512.2L411.7,514.6L412.2,510.7L412.7,511.0L413.2,509.3L413.7,506.9L414.2,504.0L414.7,507.7L415.2,511.8L415.7,519.0L416.2,523.0L416.7,530.6L417.2,535.2L417.7,541.1L418.2,545.3L418.7,548.6L419.2,554.0L419.7,560.7L420.2,565.1L420.8,565.4L421.3,565.4L421.8,565.4L422.3,565.4L422.8,565.4L423.3,565.2L423.8,565.0L424.3,565.4L424.8,565.4L425.3,565.1L425.8,565.2L426.3,565.2L426.8,565.4L427.3,564.9L427.8,565.1L428.3,565.1L428.8,565.3L429.3,565.4L429.8,564.9L430.3,565.3L430.8,565.4L431.3,565.2L431.8,565.1L432.3,565.4L432.8,565.4L433.3,565.4L433.8,565.4L434.3,565.2L434.8,565.4L435.3,565.3L435.8,565.3L436.4,565.1L436.9,565.1L437.4,565.4L437.9,565.4L438.4,565.0L438.9,565.3L439.4,565.4L439.9,565.0L440.4,565.0L440.9,565.3L441.4,565.4L441.9,565.4L442.4,565.4L442.9,565.4L443.4,565.4L443.9,565.2L444.4,565.4L444.9,565.2L445.4,565.4L445.9,565.4L446.4,564.9L446.9,565.4L447.4,565.4L447.9,565.2L448.4,565.2L448.9,564.9L449.4,565.1L449.9,565.4L450.4,565.3L450.9,565.4L451.4,565.4L451.9,565.4L452.5,565.4L453.0,565.0L453.5,565.1L454.0,565.4L454.5,565.1L455.0,565.4L455.5,565.4L456.0,565.4L456.5,565.4L457.0,565.2L457.5,565.4L458.0,565.4L458.5,565.4L459.0,565.4L459.5,565.0L460.0,565.4L460.0,565.4 Z" fill="#d4887f" stroke="none"/>
<path d="M381.0,565.4L381.5,565.1L382.0,565.4L382.5,565.4L383.0,565.4L383.5,565.0L384.0,565.4L384.5,565.3L385.0,565.4L385.5,565.4L386.0,565.2L386.5,565.3L387.0,565.2L387.5,565.4L388.0,565.4L388.5,565.4L389.1,565.4L389.6,565.4L390.1,565.4L390.6,565.4L391.1,565.3L391.6,565.1L392.1,565.2L392.6,563.6L393.1,558.2L393.6,559.3L394.1,558.0L394.6,558.6L395.1,558.7L395.6,559.2L396.1,559.1L396.6,559.3L397.1,559.2L397.6,558.2L398.1,558.8L398.6,558.2L399.1,557.9L399.6,558.4L400.1,559.0L400.6,558.7L401.1,555.2L401.6,554.0L402.1,553.2L402.6,551.2L403.1,551.8L403.6,548.8L404.1,545.9L404.6,539.7L405.2,540.6L405.7,540.7L406.2,543.5L406.7,543.3L407.2,539.4L407.7,535.1L408.2,530.3L408.7,525.7L409.2,524.2L409.7,521.0L410.2,517.3L410.7,515.2L411.2,512.2L411.7,514.6L412.2,510.7L412.7,511.0L413.2,509.3L413.7,506.9L414.2,504.0L414.7,507.7L415.2,511.8L415.7,519.0L416.2,523.0L416.7,530.6L417.2,535.2L417.7,541.1L418.2,545.3L418.7,548.6L419.2,554.0L419.7,560.7L420.2,565.1L420.8,565.4L421.3,565.4L421.8,565.4L422.3,565.4L422.8,565.4L423.3,565.2L423.8,565.0L424.3,565.4L424.8,565.4L425.3,565.1L425.8,565.2L426.3,565.2L426.8,565.4L427.3,564.9L427.8,565.1L428.3,565.1L428.8,565.3L429.3,565.4L429.8,564.9L430.3,565.3L430.8,565.4L431.3,565.2L431.8,565.1L432.3,565.4L432.8,565.4L433.3,565.4L433.8,565.4L434.3,565.2L434.8,565.4L435.3,565.3L435.8,565.3L436.4,565.1L436.9,565.1L437.4,565.4L437.9,565.4L438.4,565.0L438.9,565.3L439.4,565.4L439.9,565.0L440.4,565.0L440.9,565.3L441.4,565.4L441.9,565.4L442.4,565.4L442.9,565.4L443.4,565.4L443.9,565.2L444.4,565.4L444.9,565.2L445.4,565.4L445.9,565.4L446.4,564.9L446.9,565.4L447.4,565.4L447.9,565.2L448.4,565.2L448.9,564.9L449.4,565.1L449.9,565.4L450.4,565.3L450.9,565.4L451.4,565.4L451.9,565.4L452.5,565.4L453.0,565.0L453.5,565.1L454.0,565.4L454.5,565.1L455.0,565.4L455.5,565.4L456.0,565.4L456.5,565.4L457.0,565.2L457.5,565.4L458.0,565.4L458.5,565.4L459.0,565.4L459.5,565.0L460.0,565.4" fill="none" stroke="#961a36" stroke-width="1.8" stroke-linejoin="round"/>
<path d="M381.0,565.4L381.5,565.4L382.0,565.0L382.5,565.0L383.0,565.4L383.5,565.0L384.0,564.9L384.5,565.0L385.0,565.4L385.5,564.9L386.0,565.4L386.5,565.1L387.0,565.4L387.5,565.3L388.0,565.4L388.5,565.2L389.1,565.1L389.6,565.0L390.1,565.0L390.6,565.0L391.1,565.3L391.6,565.4L392.1,565.1L392.6,565.3L393.1,565.1L393.6,565.4L394.1,564.9L394.6,565.0L395.1,565.4L395.6,565.1L396.1,558.5L396.6,558.4L397.1,558.1L397.6,558.3L398.1,558.3L398.6,558.0L399.1,559.1L399.6,559.3L400.1,558.9L400.6,558.8L401.1,559.2L401.6,559.3L402.1,558.6L402.6,558.0L403.1,556.6L403.6,554.5L404.1,550.8L404.6,549.3L405.2,548.3L405.7,548.7L406.2,547.6L406.7,547.0L407.2,547.1L407.7,545.7L408.2,544.1L408.7,544.0L409.2,541.9L409.7,538.8L410.2,537.9L410.7,534.9L411.2,533.8L411.7,531.1L412.2,526.8L412.7,524.5L413.2,524.6L413.7,520.6L414.2,518.4L414.7,517.3L415.2,516.3L415.7,515.5L416.2,517.8L416.7,521.1L417.2,526.7L417.7,529.6L418.2,532.8L418.7,535.4L419.2,537.5L419.7,539.1L420.2,542.2L420.8,542.1L421.3,545.2L421.8,545.7L422.3,548.5L422.8,548.1L423.3,549.1L423.8,549.3L424.3,552.2L424.8,555.7L425.3,557.8L425.8,560.0L426.3,561.0L426.8,563.5L427.3,563.9L427.8,564.9L428.3,565.4L428.8,565.2L429.3,565.0L429.8,565.2L430.3,564.9L430.8,565.4L431.3,565.4L431.8,564.9L432.3,565.4L432.8,565.3L433.3,565.0L433.8,565.4L434.3,565.4L434.8,565.2L435.3,565.4L435.8,565.1L436.4,565.4L436.9,564.9L437.4,565.4L437.9,565.4L438.4,565.2L438.9,565.4L439.4,565.2L439.9,565.4L440.4,565.4L440.9,565.4L441.4,565.4L441.9,565.2L442.4,565.1L442.9,565.0L443.4,565.4L443.9,565.2L444.4,565.4L444.9,565.4L445.4,565.4L445.9,565.2L446.4,565.4L446.9,565.4L447.4,564.9L447.9,565.2L448.4,565.4L448.9,565.4L449.4,564.9L449.9,565.2L450.4,565.4L450.9,565.2L451.4,565.0L451.9,565.4L452.5,565.4L453.0,565.4L453.5,565.0L454.0,565.4L454.5,565.4L455.0,564.9L455.5,565.4L456.0,565.4L456.5,564.9L457.0,565.2L457.5,565.4L458.0,565.0L458.5,564.9L459.0,565.4L459.5,565.3L460.0,565.0" fill="none" stroke="#323f5e" stroke-width="1.6" stroke-linejoin="round"/>
</g>
<rect x="381.00" y="503.60" width="79.00" height="61.80" fill="none" stroke="#000" stroke-width="1.7"/>
<path d="M380.15,565.40h-1.7M380.15,564.04h-1.7M380.15,562.68h-1.7M380.15,561.32h-1.7M380.15,559.96h-1.7M380.15,558.60h-1.7M380.15,557.24h-1.7M380.15,555.88h-1.7M380.15,554.52h-1.7M380.15,553.16h-1.7M380.15,551.80h-1.7M380.15,550.44h-1.7M380.15,549.08h-1.7M380.15,547.72h-1.7M380.15,546.36h-1.7M380.15,545.00h-1.7M380.15,543.64h-1.7M380.15,542.28h-1.7M380.15,540.92h-1.7M380.15,539.57h-1.7M380.15,538.21h-1.7M380.15,536.85h-1.7M380.15,535.49h-1.7M380.15,534.13h-1.7M380.15,532.77h-1.7M380.15,531.41h-1.7M380.15,530.05h-1.7M380.15,528.69h-1.7M380.15,527.33h-1.7M380.15,525.97h-1.7M380.15,524.61h-1.7M380.15,523.25h-1.7M380.15,521.89h-1.7M380.15,520.53h-1.7M380.15,519.17h-1.7M380.15,517.81h-1.7M380.15,516.45h-1.7M380.15,515.09h-1.7M380.15,513.73h-1.7M380.15,512.37h-1.7M380.15,511.01h-1.7M380.15,509.65h-1.7M380.15,508.29h-1.7M380.15,506.93h-1.7M380.15,505.57h-1.7M380.15,504.21h-1.7" stroke="#000" stroke-width="1.0" fill="none"/>
<path d="M380.15,565.40h-2.8M380.15,551.80h-2.8M380.15,538.21h-2.8M380.15,524.61h-2.8M380.15,511.01h-2.8" stroke="#000" stroke-width="1.3" fill="none"/>
<path d="M386.95,566.25v1.7M390.42,566.25v1.7M392.89,566.25v1.7M394.80,566.25v1.7M396.37,566.25v1.7M397.69,566.25v1.7M398.84,566.25v1.7M399.85,566.25v1.7M406.70,566.25v1.7M410.17,566.25v1.7M412.64,566.25v1.7M414.55,566.25v1.7M416.12,566.25v1.7M417.44,566.25v1.7M418.59,566.25v1.7M419.60,566.25v1.7M426.45,566.25v1.7M429.92,566.25v1.7M432.39,566.25v1.7M434.30,566.25v1.7M435.87,566.25v1.7M437.19,566.25v1.7M438.34,566.25v1.7M439.35,566.25v1.7M446.20,566.25v1.7M449.67,566.25v1.7M452.14,566.25v1.7M454.05,566.25v1.7M455.62,566.25v1.7M456.94,566.25v1.7M458.09,566.25v1.7M459.10,566.25v1.7" stroke="#000" stroke-width="1.0" fill="none"/>
<path d="M381.00,566.25v2.8M400.75,566.25v2.8M420.50,566.25v2.8M440.25,566.25v2.8M460.00,566.25v2.8" stroke="#000" stroke-width="1.2" fill="none"/>
<text x="375.20" y="568.10" font-size="7.5" text-anchor="end" stroke="#000" stroke-width="0.25">0</text>
<text x="375.20" y="554.50" font-size="7.5" text-anchor="end" stroke="#000" stroke-width="0.25">2</text>
<text x="375.20" y="540.91" font-size="7.5" text-anchor="end" stroke="#000" stroke-width="0.25">4</text>
<text x="375.20" y="527.31" font-size="7.5" text-anchor="end" stroke="#000" stroke-width="0.25">6</text>
<text x="375.20" y="513.71" font-size="7.5" text-anchor="end" stroke="#000" stroke-width="0.25">8</text>
<text x="380.40" y="578.60" font-size="7.4" text-anchor="middle" stroke="#000" stroke-width="0.25">10</text>
<text x="384.90" y="576.10" font-size="4.2" stroke="#000" stroke-width="0.15">0</text>
<text x="399.75" y="578.60" font-size="7.4" text-anchor="middle" stroke="#000" stroke-width="0.25">10</text>
<text x="404.25" y="576.10" font-size="4.2" stroke="#000" stroke-width="0.15">1</text>
<text x="419.10" y="578.60" font-size="7.4" text-anchor="middle" stroke="#000" stroke-width="0.25">10</text>
<text x="423.60" y="576.10" font-size="4.2" stroke="#000" stroke-width="0.15">2</text>
<text x="438.45" y="578.60" font-size="7.4" text-anchor="middle" stroke="#000" stroke-width="0.25">10</text>
<text x="442.95" y="576.10" font-size="4.2" stroke="#000" stroke-width="0.15">3</text>
<text x="457.80" y="578.60" font-size="7.4" text-anchor="middle" stroke="#000" stroke-width="0.25">10</text>
<text x="462.30" y="576.10" font-size="4.2" stroke="#000" stroke-width="0.15">4</text>
<text x="364.83" y="534.50" font-size="10.6" text-anchor="middle" textLength="30.50" lengthAdjust="spacingAndGlyphs" transform="rotate(-90 364.83 534.50)" stroke="#000" stroke-width="0.1">Counts</text>
<clipPath id="c123_595"><rect x="123.70" y="594.90" width="79.50" height="63.10"/></clipPath>
<g clip-path="url(#c123_595)">
<path d="M123.7,658.0L123.7,658.0L124.2,658.0L124.7,658.0L125.2,658.0L125.7,658.0L126.2,658.0L126.7,658.0L127.2,658.0L127.8,658.0L128.3,658.0L128.8,658.0L129.3,658.0L129.8,658.0L130.3,658.0L130.8,658.0L131.3,658.0L131.8,658.0L132.3,658.0L132.8,658.0L133.3,658.0L133.8,658.0L134.3,658.0L134.8,658.0L135.3,658.0L135.9,658.0L136.4,658.0L136.9,658.0L137.4,658.0L137.9,658.0L138.4,658.0L138.9,658.0L139.4,658.0L139.9,658.0L140.4,658.0L140.9,658.0L141.4,658.0L141.9,658.0L142.4,658.0L142.9,658.0L143.4,658.0L144.0,658.0L144.5,658.0L145.0,658.0L145.5,658.0L146.0,658.0L146.5,658.0L147.0,658.0L147.5,658.0L148.0,658.0L148.5,657.9L149.0,657.8L149.5,657.6L150.0,657.5L150.5,657.2L151.0,657.0L151.6,656.7L152.1,656.4L152.6,655.9L153.1,655.3L153.6,654.6L154.1,653.8L154.6,652.9L155.1,651.7L155.6,650.1L156.1,648.4L156.6,646.5L157.1,644.6L157.6,642.6L158.1,640.2L158.6,637.0L159.1,632.1L159.7,626.6L160.2,620.8L160.7,614.9L161.2,609.3L161.7,603.7L162.2,599.4L162.7,596.8L163.2,596.0L163.7,597.8L164.2,600.7L164.7,604.8L165.2,610.6L165.7,616.0L166.2,620.8L166.7,625.5L167.2,630.5L167.8,635.6L168.3,640.4L168.8,645.3L169.3,649.2L169.8,651.5L170.3,653.4L170.8,654.8L171.3,655.6L171.8,656.2L172.3,656.7L172.8,657.0L173.3,657.3L173.8,657.4L174.3,657.6L174.8,657.7L175.3,657.8L175.9,657.9L176.4,657.9L176.9,658.0L177.4,658.0L177.9,658.0L178.4,658.0L178.9,658.0L179.4,658.0L179.9,658.0L180.4,658.0L180.9,658.0L181.4,658.0L181.9,658.0L182.4,658.0L182.9,658.0L183.5,658.0L184.0,658.0L184.5,658.0L185.0,658.0L185.5,658.0L186.0,658.0L186.5,658.0L187.0,658.0L187.5,658.0L188.0,658.0L188.5,658.0L189.0,658.0L189.5,658.0L190.0,658.0L190.5,658.0L191.0,658.0L191.6,658.0L192.1,658.0L192.6,658.0L193.1,658.0L193.6,658.0L194.1,658.0L194.6,658.0L195.1,658.0L195.6,658.0L196.1,658.0L196.6,658.0L197.1,658.0L197.6,658.0L198.1,658.0L198.6,658.0L199.1,658.0L199.7,658.0L200.2,658.0L200.7,658.0L201.2,658.0L201.7,658.0L202.2,658.0L202.7,658.0L203.2,658.0L203.2,658.0 Z" fill="#d4887f" stroke="none"/>
<path d="M123.7,658.0L124.2,658.0L124.7,658.0L125.2,658.0L125.7,658.0L126.2,658.0L126.7,658.0L127.2,658.0L127.8,658.0L128.3,658.0L128.8,658.0L129.3,658.0L129.8,658.0L130.3,658.0L130.8,658.0L131.3,658.0L131.8,658.0L132.3,658.0L132.8,658.0L133.3,658.0L133.8,658.0L134.3,658.0L134.8,658.0L135.3,658.0L135.9,658.0L136.4,658.0L136.9,658.0L137.4,658.0L137.9,658.0L138.4,658.0L138.9,658.0L139.4,658.0L139.9,658.0L140.4,658.0L140.9,658.0L141.4,658.0L141.9,658.0L142.4,658.0L142.9,658.0L143.4,658.0L144.0,658.0L144.5,658.0L145.0,658.0L145.5,658.0L146.0,658.0L146.5,658.0L147.0,658.0L147.5,658.0L148.0,658.0L148.5,657.9L149.0,657.8L149.5,657.6L150.0,657.5L150.5,657.2L151.0,657.0L151.6,656.7L152.1,656.4L152.6,655.9L153.1,655.3L153.6,654.6L154.1,653.8L154.6,652.9L155.1,651.7L155.6,650.1L156.1,648.4L156.6,646.5L157.1,644.6L157.6,642.6L158.1,640.2L158.6,637.0L159.1,632.1L159.7,626.6L160.2,620.8L160.7,614.9L161.2,609.3L161.7,603.7L162.2,599.4L162.7,596.8L163.2,596.0L163.7,597.8L164.2,600.7L164.7,604.8L165.2,610.6L165.7,616.0L166.2,620.8L166.7,625.5L167.2,630.5L167.8,635.6L168.3,640.4L168.8,645.3L169.3,649.2L169.8,651.5L170.3,653.4L170.8,654.8L171.3,655.6L171.8,656.2L172.3,656.7L172.8,657.0L173.3,657.3L173.8,657.4L174.3,657.6L174.8,657.7L175.3,657.8L175.9,657.9L176.4,657.9L176.9,658.0L177.4,658.0L177.9,658.0L178.4,658.0L178.9,658.0L179.4,658.0L179.9,658.0L180.4,658.0L180.9,658.0L181.4,658.0L181.9,658.0L182.4,658.0L182.9,658.0L183.5,658.0L184.0,658.0L184.5,658.0L185.0,658.0L185.5,658.0L186.0,658.0L186.5,658.0L187.0,658.0L187.5,658.0L188.0,658.0L188.5,658.0L189.0,658.0L189.5,658.0L190.0,658.0L190.5,658.0L191.0,658.0L191.6,658.0L192.1,658.0L192.6,658.0L193.1,658.0L193.6,658.0L194.1,658.0L194.6,658.0L195.1,658.0L195.6,658.0L196.1,658.0L196.6,658.0L197.1,658.0L197.6,658.0L198.1,658.0L198.6,658.0L199.1,658.0L199.7,658.0L200.2,658.0L200.7,658.0L201.2,658.0L201.7,658.0L202.2,658.0L202.7,658.0L203.2,658.0" fill="none" stroke="#961a36" stroke-width="1.8" stroke-linejoin="round"/>
<path d="M123.7,658.0L124.2,658.0L124.7,658.0L125.2,658.0L125.7,658.0L126.2,658.0L126.7,658.0L127.2,658.0L127.8,658.0L128.3,658.0L128.8,658.0L129.3,658.0L129.8,658.0L130.3,658.0L130.8,658.0L131.3,658.0L131.8,658.0L132.3,658.0L132.8,658.0L133.3,658.0L133.8,658.0L134.3,658.0L134.8,658.0L135.3,658.0L135.9,658.0L136.4,658.0L136.9,658.0L137.4,658.0L137.9,658.0L138.4,658.0L138.9,658.0L139.4,658.0L139.9,658.0L140.4,658.0L140.9,658.0L141.4,658.0L141.9,658.0L142.4,658.0L142.9,658.0L143.4,658.0L144.0,658.0L144.5,658.0L145.0,658.0L145.5,658.0L146.0,658.0L146.5,658.0L147.0,658.0L147.5,658.0L148.0,658.0L148.5,658.0L149.0,658.0L149.5,658.0L150.0,658.0L150.5,658.0L151.0,658.0L151.6,658.0L152.1,658.0L152.6,658.0L153.1,658.0L153.6,658.0L154.1,658.0L154.6,658.0L155.1,658.0L155.6,658.0L156.1,658.0L156.6,658.0L157.1,658.0L157.6,658.0L158.1,658.0L158.6,658.0L159.1,658.0L159.7,658.0L160.2,658.0L160.7,658.0L161.2,658.0L161.7,658.0L162.2,658.0L162.7,658.0L163.2,658.0L163.7,658.0L164.2,658.0L164.7,658.0L165.2,658.0L165.7,658.0L166.2,658.0L166.7,658.0L167.2,658.0L167.8,658.0L168.3,658.0L168.8,658.0L169.3,658.0L169.8,658.0L170.3,657.9L170.8,657.8L171.3,657.6L171.8,657.4L172.3,657.2L172.8,656.9L173.3,656.4L173.8,655.5L174.3,654.2L174.8,652.8L175.3,651.3L175.9,649.6L176.4,647.6L176.9,645.4L177.4,643.0L177.9,640.3L178.4,637.1L178.9,633.2L179.4,627.4L179.9,621.3L180.4,614.9L180.9,609.1L181.4,604.2L181.9,600.1L182.4,597.7L182.9,596.5L183.5,597.6L184.0,600.0L184.5,604.0L185.0,610.8L185.5,616.9L186.0,621.9L186.5,626.7L187.0,631.8L187.5,637.0L188.0,641.5L188.5,645.4L189.0,648.8L189.5,651.3L190.0,653.2L190.5,654.7L191.0,655.8L191.6,656.5L192.1,657.1L192.6,657.5L193.1,657.9L193.6,658.0L194.1,658.0L194.6,658.0L195.1,658.0L195.6,658.0L196.1,658.0L196.6,658.0L197.1,658.0L197.6,658.0L198.1,658.0L198.6,658.0L199.1,658.0L199.7,658.0L200.2,658.0L200.7,658.0L201.2,658.0L201.7,658.0L202.2,658.0L202.7,658.0L203.2,658.0" fill="none" stroke="#323f5e" stroke-width="1.6" stroke-linejoin="round"/>
</g>
<rect x="123.70" y="595.90" width="79.50" height="62.10" fill="none" stroke="#000" stroke-width="1.7"/>
<path d="M122.85,658.00h-1.7M122.85,656.26h-1.7M122.85,654.53h-1.7M122.85,652.79h-1.7M122.85,651.05h-1.7M122.85,649.31h-1.7M122.85,647.58h-1.7M122.85,645.84h-1.7M122.85,644.10h-1.7M122.85,642.37h-1.7M122.85,640.63h-1.7M122.85,638.89h-1.7M122.85,637.16h-1.7M122.85,635.42h-1.7M122.85,633.68h-1.7M122.85,631.94h-1.7M122.85,630.21h-1.7M122.85,628.47h-1.7M122.85,626.73h-1.7M122.85,625.00h-1.7M122.85,623.26h-1.7M122.85,621.52h-1.7M122.85,619.78h-1.7M122.85,618.05h-1.7M122.85,616.31h-1.7M122.85,614.57h-1.7M122.85,612.84h-1.7M122.85,611.10h-1.7M122.85,609.36h-1.7M122.85,607.63h-1.7M122.85,605.89h-1.7M122.85,604.15h-1.7M122.85,602.41h-1.7M122.85,600.68h-1.7M122.85,598.94h-1.7M122.85,597.20h-1.7" stroke="#000" stroke-width="1.0" fill="none"/>
<path d="M122.85,658.00h-2.8M122.85,597.20h-2.8" stroke="#000" stroke-width="1.3" fill="none"/>
<path d="M129.68,658.85v1.7M133.18,658.85v1.7M135.67,658.85v1.7M137.59,658.85v1.7M139.17,658.85v1.7M140.50,658.85v1.7M141.65,658.85v1.7M142.67,658.85v1.7M149.56,658.85v1.7M153.06,658.85v1.7M155.54,658.85v1.7M157.47,658.85v1.7M159.04,658.85v1.7M160.37,658.85v1.7M161.52,658.85v1.7M162.54,658.85v1.7M169.43,658.85v1.7M172.93,658.85v1.7M175.42,658.85v1.7M177.34,658.85v1.7M178.92,658.85v1.7M180.25,658.85v1.7M181.40,658.85v1.7M182.42,658.85v1.7M189.31,658.85v1.7M192.81,658.85v1.7M195.29,658.85v1.7M197.22,658.85v1.7M198.79,658.85v1.7M200.12,658.85v1.7M201.27,658.85v1.7M202.29,658.85v1.7" stroke="#000" stroke-width="1.0" fill="none"/>
<path d="M123.70,658.85v2.8M143.57,658.85v2.8M163.45,658.85v2.8M183.32,658.85v2.8M203.20,658.85v2.8" stroke="#000" stroke-width="1.2" fill="none"/>
<text x="117.90" y="660.70" font-size="7.5" text-anchor="end" stroke="#000" stroke-width="0.25">0</text>
<text x="117.90" y="599.90" font-size="7.5" text-anchor="end" stroke="#000" stroke-width="0.25">140</text>
<text x="123.10" y="671.20" font-size="7.4" text-anchor="middle" stroke="#000" stroke-width="0.25">10</text>
<text x="127.60" y="668.70" font-size="4.2" stroke="#000" stroke-width="0.15">0</text>
<text x="142.58" y="671.20" font-size="7.4" text-anchor="middle" stroke="#000" stroke-width="0.25">10</text>
<text x="147.08" y="668.70" font-size="4.2" stroke="#000" stroke-width="0.15">1</text>
<text x="162.05" y="671.20" font-size="7.4" text-anchor="middle" stroke="#000" stroke-width="0.25">10</text>
<text x="166.55" y="668.70" font-size="4.2" stroke="#000" stroke-width="0.15">2</text>
<text x="181.53" y="671.20" font-size="7.4" text-anchor="middle" stroke="#000" stroke-width="0.25">10</text>
<text x="186.03" y="668.70" font-size="4.2" stroke="#000" stroke-width="0.15">3</text>
<text x="201.00" y="671.20" font-size="7.4" text-anchor="middle" stroke="#000" stroke-width="0.25">10</text>
<text x="205.50" y="668.70" font-size="4.2" stroke="#000" stroke-width="0.15">4</text>
<text x="99.19" y="626.95" font-size="10.6" text-anchor="middle" textLength="30.50" lengthAdjust="spacingAndGlyphs" transform="rotate(-90 99.19 626.95)" stroke="#000" stroke-width="0.1">Counts</text>
<clipPath id="c252_595"><rect x="252.50" y="594.90" width="78.70" height="63.10"/></clipPath>
<g clip-path="url(#c252_595)">
<path d="M252.5,658.0L252.5,658.0L253.0,658.0L253.5,657.8L254.0,658.0L254.5,657.9L255.0,658.0L255.5,658.0L256.0,658.0L256.5,657.9L257.0,657.7L257.5,658.0L258.0,658.0L258.6,658.0L259.1,657.8L259.6,657.8L260.1,658.0L260.6,657.8L261.1,658.0L261.6,658.0L262.1,657.8L262.6,658.0L263.1,658.0L263.6,658.0L264.1,658.0L264.6,658.0L265.1,657.7L265.6,657.8L266.1,657.8L266.6,657.9L267.1,658.0L267.6,658.0L268.1,657.9L268.6,658.0L269.1,658.0L269.7,658.0L270.2,658.0L270.7,657.9L271.2,657.7L271.7,657.3L272.2,656.1L272.7,655.6L273.2,655.5L273.7,655.4L274.2,655.5L274.7,655.7L275.2,655.2L275.7,655.8L276.2,655.5L276.7,655.6L277.2,655.2L277.7,654.6L278.2,654.3L278.7,654.2L279.2,653.5L279.7,652.4L280.2,651.2L280.8,650.8L281.3,648.9L281.8,647.7L282.3,646.3L282.8,644.5L283.3,643.1L283.8,640.5L284.3,638.8L284.8,635.2L285.3,631.5L285.8,628.3L286.3,624.5L286.8,618.2L287.3,611.1L287.8,605.1L288.3,599.7L288.8,597.1L289.3,599.1L289.8,602.1L290.3,608.5L290.8,613.5L291.3,617.3L291.8,623.0L292.4,626.8L292.9,632.3L293.4,637.3L293.9,640.3L294.4,643.8L294.9,647.1L295.4,648.8L295.9,650.5L296.4,652.8L296.9,652.7L297.4,653.4L297.9,654.3L298.4,654.1L298.9,654.4L299.4,655.4L299.9,655.5L300.4,655.1L300.9,655.4L301.4,655.2L301.9,655.6L302.4,655.6L302.9,656.0L303.5,656.3L304.0,656.7L304.5,657.4L305.0,657.8L305.5,657.3L306.0,657.8L306.5,657.5L307.0,657.9L307.5,657.9L308.0,658.0L308.5,658.0L309.0,657.6L309.5,658.0L310.0,658.0L310.5,658.0L311.0,657.8L311.5,658.0L312.0,658.0L312.5,658.0L313.0,657.6L313.5,657.6L314.0,657.8L314.6,658.0L315.1,658.0L315.6,657.7L316.1,658.0L316.6,657.9L317.1,658.0L317.6,658.0L318.1,658.0L318.6,658.0L319.1,657.9L319.6,658.0L320.1,658.0L320.6,657.8L321.1,657.7L321.6,657.9L322.1,658.0L322.6,657.7L323.1,657.7L323.6,658.0L324.1,657.8L324.6,658.0L325.1,658.0L325.7,657.7L326.2,657.7L326.7,658.0L327.2,658.0L327.7,658.0L328.2,658.0L328.7,657.7L329.2,657.8L329.7,657.6L330.2,658.0L330.7,657.9L331.2,658.0L331.2,658.0 Z" fill="#d4887f" stroke="none"/>
<path d="M252.5,658.0L253.0,658.0L253.5,657.8L254.0,658.0L254.5,657.9L255.0,658.0L255.5,658.0L256.0,658.0L256.5,657.9L257.0,657.7L257.5,658.0L258.0,658.0L258.6,658.0L259.1,657.8L259.6,657.8L260.1,658.0L260.6,657.8L261.1,658.0L261.6,658.0L262.1,657.8L262.6,658.0L263.1,658.0L263.6,658.0L264.1,658.0L264.6,658.0L265.1,657.7L265.6,657.8L266.1,657.8L266.6,657.9L267.1,658.0L267.6,658.0L268.1,657.9L268.6,658.0L269.1,658.0L269.7,658.0L270.2,658.0L270.7,657.9L271.2,657.7L271.7,657.3L272.2,656.1L272.7,655.6L273.2,655.5L273.7,655.4L274.2,655.5L274.7,655.7L275.2,655.2L275.7,655.8L276.2,655.5L276.7,655.6L277.2,655.2L277.7,654.6L278.2,654.3L278.7,654.2L279.2,653.5L279.7,652.4L280.2,651.2L280.8,650.8L281.3,648.9L281.8,647.7L282.3,646.3L282.8,644.5L283.3,643.1L283.8,640.5L284.3,638.8L284.8,635.2L285.3,631.5L285.8,628.3L286.3,624.5L286.8,618.2L287.3,611.1L287.8,605.1L288.3,599.7L288.8,597.1L289.3,599.1L289.8,602.1L290.3,608.5L290.8,613.5L291.3,617.3L291.8,623.0L292.4,626.8L292.9,632.3L293.4,637.3L293.9,640.3L294.4,643.8L294.9,647.1L295.4,648.8L295.9,650.5L296.4,652.8L296.9,652.7L297.4,653.4L297.9,654.3L298.4,654.1L298.9,654.4L299.4,655.4L299.9,655.5L300.4,655.1L300.9,655.4L301.4,655.2L301.9,655.6L302.4,655.6L302.9,656.0L303.5,656.3L304.0,656.7L304.5,657.4L305.0,657.8L305.5,657.3L306.0,657.8L306.5,657.5L307.0,657.9L307.5,657.9L308.0,658.0L308.5,658.0L309.0,657.6L309.5,658.0L310.0,658.0L310.5,658.0L311.0,657.8L311.5,658.0L312.0,658.0L312.5,658.0L313.0,657.6L313.5,657.6L314.0,657.8L314.6,658.0L315.1,658.0L315.6,657.7L316.1,658.0L316.6,657.9L317.1,658.0L317.6,658.0L318.1,658.0L318.6,658.0L319.1,657.9L319.6,658.0L320.1,658.0L320.6,657.8L321.1,657.7L321.6,657.9L322.1,658.0L322.6,657.7L323.1,657.7L323.6,658.0L324.1,657.8L324.6,658.0L325.1,658.0L325.7,657.7L326.2,657.7L326.7,658.0L327.2,658.0L327.7,658.0L328.2,658.0L328.7,657.7L329.2,657.8L329.7,657.6L330.2,658.0L330.7,657.9L331.2,658.0" fill="none" stroke="#961a36" stroke-width="1.8" stroke-linejoin="round"/>
<path d="M252.5,658.0L253.0,658.0L253.5,658.0L254.0,658.0L254.5,658.0L255.0,658.0L255.5,658.0L256.0,658.0L256.5,658.0L257.0,658.0L257.5,658.0L258.0,658.0L258.6,658.0L259.1,658.0L259.6,658.0L260.1,658.0L260.6,658.0L261.1,658.0L261.6,658.0L262.1,658.0L262.6,658.0L263.1,658.0L263.6,658.0L264.1,658.0L264.6,658.0L265.1,658.0L265.6,658.0L266.1,658.0L266.6,658.0L267.1,658.0L267.6,658.0L268.1,658.0L268.6,658.0L269.1,658.0L269.7,658.0L270.2,658.0L270.7,658.0L271.2,658.0L271.7,658.0L272.2,658.0L272.7,658.0L273.2,658.0L273.7,658.0L274.2,658.0L274.7,658.0L275.2,658.0L275.7,658.0L276.2,658.0L276.7,658.0L277.2,658.0L277.7,658.0L278.2,658.0L278.7,658.0L279.2,658.0L279.7,658.0L280.2,658.0L280.8,658.0L281.3,658.0L281.8,658.0L282.3,658.0L282.8,658.0L283.3,658.0L283.8,658.0L284.3,658.0L284.8,658.0L285.3,658.0L285.8,658.0L286.3,658.0L286.8,658.0L287.3,658.0L287.8,658.0L288.3,658.0L288.8,658.0L289.3,658.0L289.8,658.0L290.3,658.0L290.8,658.0L291.3,658.0L291.8,658.0L292.4,658.0L292.9,658.0L293.4,658.0L293.9,658.0L294.4,658.0L294.9,658.0L295.4,658.0L295.9,658.0L296.4,658.0L296.9,657.9L297.4,657.8L297.9,657.6L298.4,657.4L298.9,657.0L299.4,655.9L299.9,654.3L300.4,652.6L300.9,650.5L301.4,647.8L301.9,644.7L302.4,640.9L302.9,636.1L303.5,630.7L304.0,625.2L304.5,619.0L305.0,612.9L305.5,607.8L306.0,602.9L306.5,599.5L307.0,598.0L307.5,597.2L308.0,598.4L308.5,601.6L309.0,605.2L309.5,609.5L310.0,614.0L310.5,618.4L311.0,622.9L311.5,627.3L312.0,631.1L312.5,634.6L313.0,637.9L313.5,641.0L314.0,643.9L314.6,646.7L315.1,649.1L315.6,651.0L316.1,652.6L316.6,653.9L317.1,655.0L317.6,655.9L318.1,656.7L318.6,657.2L319.1,657.5L319.6,657.7L320.1,657.8L320.6,657.9L321.1,658.0L321.6,658.0L322.1,658.0L322.6,658.0L323.1,658.0L323.6,658.0L324.1,658.0L324.6,658.0L325.1,658.0L325.7,658.0L326.2,658.0L326.7,658.0L327.2,658.0L327.7,658.0L328.2,658.0L328.7,658.0L329.2,658.0L329.7,658.0L330.2,658.0L330.7,658.0L331.2,658.0" fill="none" stroke="#323f5e" stroke-width="1.6" stroke-linejoin="round"/>
</g>
<rect x="252.50" y="595.90" width="78.70" height="62.10" fill="none" stroke="#000" stroke-width="1.7"/>
<path d="M251.65,658.00h-1.7M251.65,656.20h-1.7M251.65,654.40h-1.7M251.65,652.60h-1.7M251.65,650.80h-1.7M251.65,649.00h-1.7M251.65,647.20h-1.7M251.65,645.40h-1.7M251.65,643.60h-1.7M251.65,641.80h-1.7M251.65,640.00h-1.7M251.65,638.20h-1.7M251.65,636.40h-1.7M251.65,634.60h-1.7M251.65,632.80h-1.7M251.65,631.00h-1.7M251.65,629.20h-1.7M251.65,627.40h-1.7M251.65,625.60h-1.7M251.65,623.80h-1.7M251.65,622.00h-1.7M251.65,620.20h-1.7M251.65,618.40h-1.7M251.65,616.60h-1.7M251.65,614.80h-1.7M251.65,613.00h-1.7M251.65,611.20h-1.7M251.65,609.40h-1.7M251.65,607.60h-1.7M251.65,605.80h-1.7M251.65,604.00h-1.7M251.65,602.20h-1.7M251.65,600.40h-1.7M251.65,598.60h-1.7M251.65,596.80h-1.7" stroke="#000" stroke-width="1.0" fill="none"/>
<path d="M251.65,658.00h-2.8M251.65,640.00h-2.8M251.65,622.00h-2.8M251.65,604.00h-2.8" stroke="#000" stroke-width="1.3" fill="none"/>
<path d="M258.42,658.85v1.7M261.89,658.85v1.7M264.35,658.85v1.7M266.25,658.85v1.7M267.81,658.85v1.7M269.13,658.85v1.7M270.27,658.85v1.7M271.27,658.85v1.7M278.10,658.85v1.7M281.56,658.85v1.7M284.02,658.85v1.7M285.93,658.85v1.7M287.49,658.85v1.7M288.80,658.85v1.7M289.94,658.85v1.7M290.95,658.85v1.7M297.77,658.85v1.7M301.24,658.85v1.7M303.70,658.85v1.7M305.60,658.85v1.7M307.16,658.85v1.7M308.48,658.85v1.7M309.62,658.85v1.7M310.62,658.85v1.7M317.45,658.85v1.7M320.91,658.85v1.7M323.37,658.85v1.7M325.28,658.85v1.7M326.84,658.85v1.7M328.15,658.85v1.7M329.29,658.85v1.7M330.30,658.85v1.7" stroke="#000" stroke-width="1.0" fill="none"/>
<path d="M252.50,658.85v2.8M272.18,658.85v2.8M291.85,658.85v2.8M311.52,658.85v2.8M331.20,658.85v2.8" stroke="#000" stroke-width="1.2" fill="none"/>
<text x="246.70" y="660.70" font-size="7.5" text-anchor="end" stroke="#000" stroke-width="0.25">0</text>
<text x="246.70" y="642.70" font-size="7.5" text-anchor="end" stroke="#000" stroke-width="0.25">10</text>
<text x="246.70" y="624.70" font-size="7.5" text-anchor="end" stroke="#000" stroke-width="0.25">20</text>
<text x="246.70" y="606.70" font-size="7.5" text-anchor="end" stroke="#000" stroke-width="0.25">30</text>
<text x="251.90" y="671.20" font-size="7.4" text-anchor="middle" stroke="#000" stroke-width="0.25">10</text>
<text x="256.40" y="668.70" font-size="4.2" stroke="#000" stroke-width="0.15">0</text>
<text x="271.18" y="671.20" font-size="7.4" text-anchor="middle" stroke="#000" stroke-width="0.25">10</text>
<text x="275.68" y="668.70" font-size="4.2" stroke="#000" stroke-width="0.15">1</text>
<text x="290.45" y="671.20" font-size="7.4" text-anchor="middle" stroke="#000" stroke-width="0.25">10</text>
<text x="294.95" y="668.70" font-size="4.2" stroke="#000" stroke-width="0.15">2</text>
<text x="309.73" y="671.20" font-size="7.4" text-anchor="middle" stroke="#000" stroke-width="0.25">10</text>
<text x="314.23" y="668.70" font-size="4.2" stroke="#000" stroke-width="0.15">3</text>
<text x="329.00" y="671.20" font-size="7.4" text-anchor="middle" stroke="#000" stroke-width="0.25">10</text>
<text x="333.50" y="668.70" font-size="4.2" stroke="#000" stroke-width="0.15">4</text>
<text x="232.16" y="626.95" font-size="10.6" text-anchor="middle" textLength="30.50" lengthAdjust="spacingAndGlyphs" transform="rotate(-90 232.16 626.95)" stroke="#000" stroke-width="0.1">Counts</text>
<clipPath id="c386_596"><rect x="386.00" y="595.00" width="79.70" height="62.20"/></clipPath>
<g clip-path="url(#c386_596)">
<path d="M386.0,657.2L386.0,657.2L386.5,657.2L387.0,657.2L387.5,657.2L388.0,657.2L388.5,657.2L389.0,657.2L389.5,657.2L390.0,657.2L390.5,657.2L391.0,657.2L391.5,657.2L392.1,657.2L392.6,657.2L393.1,657.2L393.6,657.2L394.1,657.2L394.6,657.2L395.1,657.2L395.6,657.2L396.1,657.2L396.6,657.2L397.1,657.2L397.6,657.2L398.1,657.2L398.6,657.2L399.1,657.2L399.6,657.2L400.1,657.2L400.6,657.2L401.1,657.2L401.6,657.2L402.1,657.2L402.6,657.2L403.2,657.2L403.7,657.2L404.2,657.2L404.7,657.2L405.2,657.2L405.7,657.2L406.2,657.2L406.7,657.2L407.2,657.2L407.7,657.2L408.2,657.2L408.7,657.2L409.2,657.2L409.7,657.2L410.2,657.2L410.7,657.0L411.2,656.9L411.7,656.7L412.2,656.5L412.7,656.3L413.2,656.1L413.7,656.0L414.2,655.8L414.8,655.6L415.3,655.4L415.8,655.2L416.3,654.9L416.8,654.6L417.3,654.2L417.8,653.7L418.3,653.1L418.8,652.4L419.3,651.4L419.8,649.9L420.3,648.0L420.8,645.9L421.3,643.5L421.8,640.5L422.3,637.0L422.8,633.6L423.3,630.4L423.8,627.3L424.3,624.7L424.8,622.5L425.3,620.7L425.9,619.9L426.4,620.3L426.9,621.1L427.4,622.9L427.9,625.6L428.4,628.8L428.9,632.9L429.4,636.9L429.9,640.9L430.4,644.6L430.9,647.7L431.4,650.5L431.9,652.6L432.4,653.8L432.9,654.8L433.4,655.6L433.9,656.0L434.4,656.4L434.9,656.7L435.4,656.9L435.9,657.1L436.4,657.2L436.9,657.2L437.5,657.2L438.0,657.2L438.5,657.2L439.0,657.2L439.5,657.2L440.0,657.2L440.5,657.2L441.0,657.2L441.5,657.2L442.0,657.2L442.5,657.2L443.0,657.2L443.5,657.2L444.0,657.2L444.5,657.2L445.0,657.2L445.5,657.2L446.0,657.2L446.5,657.2L447.0,657.2L447.5,657.2L448.0,657.2L448.5,657.2L449.1,657.2L449.6,657.2L450.1,657.2L450.6,657.2L451.1,657.2L451.6,657.2L452.1,657.2L452.6,657.2L453.1,657.2L453.6,657.2L454.1,657.2L454.6,657.2L455.1,657.2L455.6,657.2L456.1,657.2L456.6,657.2L457.1,657.2L457.6,657.2L458.1,657.2L458.6,657.2L459.1,657.2L459.6,657.2L460.2,657.2L460.7,657.2L461.2,657.2L461.7,657.2L462.2,657.2L462.7,657.2L463.2,657.2L463.7,657.2L464.2,657.2L464.7,657.2L465.2,657.2L465.7,657.2L465.7,657.2 Z" fill="#d4887f" stroke="none"/>
<path d="M386.0,657.2L386.5,657.2L387.0,657.2L387.5,657.2L388.0,657.2L388.5,657.2L389.0,657.2L389.5,657.2L390.0,657.2L390.5,657.2L391.0,657.2L391.5,657.2L392.1,657.2L392.6,657.2L393.1,657.2L393.6,657.2L394.1,657.2L394.6,657.2L395.1,657.2L395.6,657.2L396.1,657.2L396.6,657.2L397.1,657.2L397.6,657.2L398.1,657.2L398.6,657.2L399.1,657.2L399.6,657.2L400.1,657.2L400.6,657.2L401.1,657.2L401.6,657.2L402.1,657.2L402.6,657.2L403.2,657.2L403.7,657.2L404.2,657.2L404.7,657.2L405.2,657.2L405.7,657.2L406.2,657.2L406.7,657.2L407.2,657.2L407.7,657.2L408.2,657.2L408.7,657.2L409.2,657.2L409.7,657.2L410.2,657.2L410.7,657.0L411.2,656.9L411.7,656.7L412.2,656.5L412.7,656.3L413.2,656.1L413.7,656.0L414.2,655.8L414.8,655.6L415.3,655.4L415.8,655.2L416.3,654.9L416.8,654.6L417.3,654.2L417.8,653.7L418.3,653.1L418.8,652.4L419.3,651.4L419.8,649.9L420.3,648.0L420.8,645.9L421.3,643.5L421.8,640.5L422.3,637.0L422.8,633.6L423.3,630.4L423.8,627.3L424.3,624.7L424.8,622.5L425.3,620.7L425.9,619.9L426.4,620.3L426.9,621.1L427.4,622.9L427.9,625.6L428.4,628.8L428.9,632.9L429.4,636.9L429.9,640.9L430.4,644.6L430.9,647.7L431.4,650.5L431.9,652.6L432.4,653.8L432.9,654.8L433.4,655.6L433.9,656.0L434.4,656.4L434.9,656.7L435.4,656.9L435.9,657.1L436.4,657.2L436.9,657.2L437.5,657.2L438.0,657.2L438.5,657.2L439.0,657.2L439.5,657.2L440.0,657.2L440.5,657.2L441.0,657.2L441.5,657.2L442.0,657.2L442.5,657.2L443.0,657.2L443.5,657.2L444.0,657.2L444.5,657.2L445.0,657.2L445.5,657.2L446.0,657.2L446.5,657.2L447.0,657.2L447.5,657.2L448.0,657.2L448.5,657.2L449.1,657.2L449.6,657.2L450.1,657.2L450.6,657.2L451.1,657.2L451.6,657.2L452.1,657.2L452.6,657.2L453.1,657.2L453.6,657.2L454.1,657.2L454.6,657.2L455.1,657.2L455.6,657.2L456.1,657.2L456.6,657.2L457.1,657.2L457.6,657.2L458.1,657.2L458.6,657.2L459.1,657.2L459.6,657.2L460.2,657.2L460.7,657.2L461.2,657.2L461.7,657.2L462.2,657.2L462.7,657.2L463.2,657.2L463.7,657.2L464.2,657.2L464.7,657.2L465.2,657.2L465.7,657.2" fill="none" stroke="#961a36" stroke-width="1.8" stroke-linejoin="round"/>
<path d="M386.0,657.2L386.5,657.2L387.0,657.2L387.5,657.2L388.0,657.2L388.5,657.2L389.0,657.2L389.5,657.2L390.0,657.2L390.5,657.2L391.0,657.2L391.5,657.2L392.1,657.2L392.6,657.2L393.1,657.2L393.6,657.2L394.1,657.2L394.6,657.2L395.1,657.2L395.6,657.2L396.1,657.2L396.6,657.2L397.1,657.2L397.6,657.2L398.1,657.2L398.6,657.2L399.1,657.2L399.6,657.2L400.1,657.2L400.6,657.2L401.1,657.2L401.6,657.2L402.1,657.2L402.6,657.2L403.2,657.2L403.7,657.2L404.2,657.2L404.7,657.2L405.2,657.2L405.7,657.2L406.2,657.2L406.7,657.2L407.2,657.2L407.7,657.2L408.2,657.2L408.7,657.2L409.2,657.2L409.7,657.2L410.2,657.2L410.7,657.2L411.2,657.2L411.7,657.2L412.2,657.2L412.7,657.2L413.2,657.2L413.7,657.2L414.2,657.2L414.8,657.2L415.3,657.2L415.8,657.2L416.3,657.2L416.8,657.2L417.3,657.2L417.8,657.2L418.3,657.2L418.8,657.2L419.3,657.2L419.8,657.2L420.3,657.2L420.8,657.2L421.3,657.2L421.8,657.2L422.3,657.2L422.8,657.2L423.3,657.2L423.8,657.2L424.3,657.2L424.8,657.2L425.3,657.2L425.9,657.2L426.4,657.2L426.9,657.2L427.4,657.2L427.9,657.2L428.4,657.2L428.9,657.2L429.4,657.2L429.9,657.2L430.4,657.2L430.9,657.2L431.4,657.2L431.9,657.2L432.4,657.2L432.9,657.2L433.4,657.2L433.9,657.2L434.4,657.2L434.9,657.1L435.4,656.9L435.9,656.7L436.4,656.4L436.9,655.8L437.5,654.8L438.0,653.8L438.5,652.8L439.0,652.0L439.5,651.2L440.0,650.3L440.5,649.3L441.0,648.2L441.5,646.8L442.0,645.0L442.5,642.9L443.0,640.2L443.5,636.4L444.0,631.9L444.5,626.5L445.0,619.6L445.5,613.2L446.0,607.2L446.5,602.4L447.0,599.2L447.5,596.9L448.0,597.2L448.5,600.4L449.1,605.3L449.6,613.3L450.1,621.5L450.6,629.6L451.1,637.1L451.6,643.7L452.1,649.2L452.6,652.2L453.1,654.0L453.6,655.2L454.1,655.7L454.6,656.1L455.1,656.4L455.6,656.6L456.1,656.6L456.6,656.6L457.1,656.6L457.6,656.6L458.1,656.6L458.6,656.6L459.1,656.6L459.6,656.6L460.2,656.6L460.7,656.6L461.2,656.6L461.7,656.6L462.2,656.6L462.7,656.6L463.2,656.6L463.7,656.6L464.2,656.6L464.7,656.6L465.2,656.6L465.7,656.6" fill="none" stroke="#323f5e" stroke-width="1.6" stroke-linejoin="round"/>
</g>
<rect x="386.00" y="596.00" width="79.70" height="61.20" fill="none" stroke="#000" stroke-width="1.7"/>
<path d="M385.15,657.20h-1.7M385.15,655.74h-1.7M385.15,654.28h-1.7M385.15,652.81h-1.7M385.15,651.35h-1.7M385.15,649.89h-1.7M385.15,648.43h-1.7M385.15,646.96h-1.7M385.15,645.50h-1.7M385.15,644.04h-1.7M385.15,642.58h-1.7M385.15,641.11h-1.7M385.15,639.65h-1.7M385.15,638.19h-1.7M385.15,636.73h-1.7M385.15,635.26h-1.7M385.15,633.80h-1.7M385.15,632.34h-1.7M385.15,630.88h-1.7M385.15,629.42h-1.7M385.15,627.95h-1.7M385.15,626.49h-1.7M385.15,625.03h-1.7M385.15,623.57h-1.7M385.15,622.10h-1.7M385.15,620.64h-1.7M385.15,619.18h-1.7M385.15,617.72h-1.7M385.15,616.25h-1.7M385.15,614.79h-1.7M385.15,613.33h-1.7M385.15,611.87h-1.7M385.15,610.40h-1.7M385.15,608.94h-1.7M385.15,607.48h-1.7M385.15,606.02h-1.7M385.15,604.55h-1.7M385.15,603.09h-1.7M385.15,601.63h-1.7M385.15,600.17h-1.7M385.15,598.71h-1.7M385.15,597.24h-1.7" stroke="#000" stroke-width="1.0" fill="none"/>
<path d="M385.15,657.20h-2.8M385.15,649.89h-2.8M385.15,642.58h-2.8M385.15,635.26h-2.8M385.15,627.95h-2.8M385.15,620.64h-2.8M385.15,613.33h-2.8M385.15,606.02h-2.8M385.15,598.71h-2.8" stroke="#000" stroke-width="1.3" fill="none"/>
<path d="M392.00,658.05v1.7M395.51,658.05v1.7M398.00,658.05v1.7M399.93,658.05v1.7M401.50,658.05v1.7M402.84,658.05v1.7M403.99,658.05v1.7M405.01,658.05v1.7M411.92,658.05v1.7M415.43,658.05v1.7M417.92,658.05v1.7M419.85,658.05v1.7M421.43,658.05v1.7M422.76,658.05v1.7M423.92,658.05v1.7M424.94,658.05v1.7M431.85,658.05v1.7M435.36,658.05v1.7M437.85,658.05v1.7M439.78,658.05v1.7M441.35,658.05v1.7M442.69,658.05v1.7M443.84,658.05v1.7M444.86,658.05v1.7M451.77,658.05v1.7M455.28,658.05v1.7M457.77,658.05v1.7M459.70,658.05v1.7M461.28,658.05v1.7M462.61,658.05v1.7M463.77,658.05v1.7M464.79,658.05v1.7" stroke="#000" stroke-width="1.0" fill="none"/>
<path d="M386.00,658.05v2.8M405.93,658.05v2.8M425.85,658.05v2.8M445.77,658.05v2.8M465.70,658.05v2.8" stroke="#000" stroke-width="1.2" fill="none"/>
<text x="380.20" y="659.90" font-size="7.5" text-anchor="end" stroke="#000" stroke-width="0.25">0</text>
<text x="380.20" y="652.59" font-size="7.5" text-anchor="end" stroke="#000" stroke-width="0.25">10</text>
<text x="380.20" y="645.28" font-size="7.5" text-anchor="end" stroke="#000" stroke-width="0.25">20</text>
<text x="380.20" y="637.96" font-size="7.5" text-anchor="end" stroke="#000" stroke-width="0.25">30</text>
<text x="380.20" y="630.65" font-size="7.5" text-anchor="end" stroke="#000" stroke-width="0.25">40</text>
<text x="380.20" y="623.34" font-size="7.5" text-anchor="end" stroke="#000" stroke-width="0.25">50</text>
<text x="380.20" y="616.03" font-size="7.5" text-anchor="end" stroke="#000" stroke-width="0.25">60</text>
<text x="380.20" y="608.72" font-size="7.5" text-anchor="end" stroke="#000" stroke-width="0.25">70</text>
<text x="380.20" y="601.41" font-size="7.5" text-anchor="end" stroke="#000" stroke-width="0.25">80</text>
<text x="385.40" y="670.40" font-size="7.4" text-anchor="middle" stroke="#000" stroke-width="0.25">10</text>
<text x="389.90" y="667.90" font-size="4.2" stroke="#000" stroke-width="0.15">0</text>
<text x="404.92" y="670.40" font-size="7.4" text-anchor="middle" stroke="#000" stroke-width="0.25">10</text>
<text x="409.42" y="667.90" font-size="4.2" stroke="#000" stroke-width="0.15">1</text>
<text x="424.45" y="670.40" font-size="7.4" text-anchor="middle" stroke="#000" stroke-width="0.25">10</text>
<text x="428.95" y="667.90" font-size="4.2" stroke="#000" stroke-width="0.15">2</text>
<text x="443.97" y="670.40" font-size="7.4" text-anchor="middle" stroke="#000" stroke-width="0.25">10</text>
<text x="448.47" y="667.90" font-size="4.2" stroke="#000" stroke-width="0.15">3</text>
<text x="463.50" y="670.40" font-size="7.4" text-anchor="middle" stroke="#000" stroke-width="0.25">10</text>
<text x="468.00" y="667.90" font-size="4.2" stroke="#000" stroke-width="0.15">4</text>
<text x="365.66" y="626.60" font-size="10.6" text-anchor="middle" textLength="30.50" lengthAdjust="spacingAndGlyphs" transform="rotate(-90 365.66 626.60)" stroke="#000" stroke-width="0.1">Counts</text>
<clipPath id="c194_745"><rect x="194.70" y="744.60" width="88.00" height="62.50"/></clipPath>
<g clip-path="url(#c194_745)">
<path d="M194.7,807.1L194.7,807.1L195.2,807.1L195.7,807.1L196.2,807.0L196.7,806.8L197.2,806.8L197.7,806.8L198.2,806.7L198.7,806.7L199.2,806.5L199.7,806.6L200.2,806.7L200.7,806.5L201.2,806.5L201.7,806.4L202.2,806.5L202.7,806.3L203.2,806.4L203.8,806.4L204.3,806.3L204.8,806.3L205.3,806.3L205.8,806.0L206.3,806.0L206.8,806.2L207.3,806.0L207.8,806.1L208.3,805.9L208.8,805.9L209.3,805.8L209.8,805.7L210.3,805.6L210.8,805.6L211.3,805.8L211.8,805.8L212.3,805.5L212.8,805.5L213.3,805.3L213.8,805.2L214.3,805.4L214.8,805.2L215.3,804.8L215.8,804.6L216.3,803.9L216.8,803.8L217.3,803.1L217.8,802.4L218.3,801.9L218.8,801.7L219.3,801.3L219.8,800.7L220.3,800.4L220.8,799.7L221.4,799.3L221.9,798.8L222.4,797.9L222.9,797.0L223.4,796.2L223.9,795.2L224.4,794.1L224.9,792.9L225.4,791.8L225.9,789.8L226.4,787.6L226.9,785.9L227.4,783.7L227.9,781.4L228.4,780.0L228.9,777.2L229.4,775.2L229.9,773.8L230.4,771.7L230.9,770.2L231.4,770.5L231.9,770.8L232.4,772.5L232.9,774.7L233.4,779.0L233.9,782.9L234.4,788.3L234.9,793.6L235.4,797.6L235.9,801.2L236.4,802.9L236.9,804.1L237.4,805.4L237.9,806.0L238.4,806.1L239.0,805.8L239.5,805.9L240.0,805.8L240.5,806.1L241.0,806.2L241.5,806.0L242.0,806.3L242.5,806.1L243.0,806.3L243.5,806.3L244.0,806.1L244.5,806.3L245.0,806.0L245.5,806.1L246.0,806.2L246.5,806.2L247.0,806.3L247.5,806.1L248.0,806.4L248.5,806.1L249.0,806.2L249.5,806.2L250.0,806.3L250.5,806.3L251.0,806.4L251.5,806.4L252.0,806.3L252.5,806.4L253.0,806.3L253.5,806.4L254.0,806.7L254.5,806.7L255.0,806.6L255.5,806.9L256.0,807.1L256.6,807.1L257.1,807.1L257.6,807.0L258.1,807.1L258.6,806.9L259.1,807.1L259.6,807.0L260.1,807.0L260.6,807.1L261.1,807.1L261.6,807.1L262.1,807.0L262.6,807.0L263.1,807.1L263.6,807.1L264.1,807.1L264.6,807.1L265.1,807.1L265.6,807.1L266.1,807.1L266.6,807.1L267.1,807.1L267.6,807.0L268.1,807.1L268.6,807.1L269.1,807.1L269.6,807.1L270.1,807.1L270.6,807.1L271.1,807.1L271.6,807.1L272.1,807.0L272.6,807.1L273.1,807.0L273.6,807.0L274.2,807.0L274.7,807.1L275.2,807.1L275.7,807.1L276.2,807.1L276.7,807.1L277.2,807.1L277.7,807.1L278.2,807.1L278.7,807.1L279.2,807.1L279.7,807.1L280.2,807.1L280.7,807.1L281.2,807.1L281.7,806.9L282.2,807.1L282.7,807.1L282.7,807.1 Z" fill="#d4887f" stroke="none"/>
<path d="M194.7,807.1L195.2,807.1L195.7,807.1L196.2,807.0L196.7,806.8L197.2,806.8L197.7,806.8L198.2,806.7L198.7,806.7L199.2,806.5L199.7,806.6L200.2,806.7L200.7,806.5L201.2,806.5L201.7,806.4L202.2,806.5L202.7,806.3L203.2,806.4L203.8,806.4L204.3,806.3L204.8,806.3L205.3,806.3L205.8,806.0L206.3,806.0L206.8,806.2L207.3,806.0L207.8,806.1L208.3,805.9L208.8,805.9L209.3,805.8L209.8,805.7L210.3,805.6L210.8,805.6L211.3,805.8L211.8,805.8L212.3,805.5L212.8,805.5L213.3,805.3L213.8,805.2L214.3,805.4L214.8,805.2L215.3,804.8L215.8,804.6L216.3,803.9L216.8,803.8L217.3,803.1L217.8,802.4L218.3,801.9L218.8,801.7L219.3,801.3L219.8,800.7L220.3,800.4L220.8,799.7L221.4,799.3L221.9,798.8L222.4,797.9L222.9,797.0L223.4,796.2L223.9,795.2L224.4,794.1L224.9,792.9L225.4,791.8L225.9,789.8L226.4,787.6L226.9,785.9L227.4,783.7L227.9,781.4L228.4,780.0L228.9,777.2L229.4,775.2L229.9,773.8L230.4,771.7L230.9,770.2L231.4,770.5L231.9,770.8L232.4,772.5L232.9,774.7L233.4,779.0L233.9,782.9L234.4,788.3L234.9,793.6L235.4,797.6L235.9,801.2L236.4,802.9L236.9,804.1L237.4,805.4L237.9,806.0L238.4,806.1L239.0,805.8L239.5,805.9L240.0,805.8L240.5,806.1L241.0,806.2L241.5,806.0L242.0,806.3L242.5,806.1L243.0,806.3L243.5,806.3L244.0,806.1L244.5,806.3L245.0,806.0L245.5,806.1L246.0,806.2L246.5,806.2L247.0,806.3L247.5,806.1L248.0,806.4L248.5,806.1L249.0,806.2L249.5,806.2L250.0,806.3L250.5,806.3L251.0,806.4L251.5,806.4L252.0,806.3L252.5,806.4L253.0,806.3L253.5,806.4L254.0,806.7L254.5,806.7L255.0,806.6L255.5,806.9L256.0,807.1L256.6,807.1L257.1,807.1L257.6,807.0L258.1,807.1L258.6,806.9L259.1,807.1L259.6,807.0L260.1,807.0L260.6,807.1L261.1,807.1L261.6,807.1L262.1,807.0L262.6,807.0L263.1,807.1L263.6,807.1L264.1,807.1L264.6,807.1L265.1,807.1L265.6,807.1L266.1,807.1L266.6,807.1L267.1,807.1L267.6,807.0L268.1,807.1L268.6,807.1L269.1,807.1L269.6,807.1L270.1,807.1L270.6,807.1L271.1,807.1L271.6,807.1L272.1,807.0L272.6,807.1L273.1,807.0L273.6,807.0L274.2,807.0L274.7,807.1L275.2,807.1L275.7,807.1L276.2,807.1L276.7,807.1L277.2,807.1L277.7,807.1L278.2,807.1L278.7,807.1L279.2,807.1L279.7,807.1L280.2,807.1L280.7,807.1L281.2,807.1L281.7,806.9L282.2,807.1L282.7,807.1" fill="none" stroke="#961a36" stroke-width="1.8" stroke-linejoin="round"/>
<path d="M194.7,807.1L195.2,807.1L195.7,807.1L196.2,807.1L196.7,807.1L197.2,807.1L197.7,807.1L198.2,807.1L198.7,807.1L199.2,807.1L199.7,807.1L200.2,807.1L200.7,807.1L201.2,807.1L201.7,807.1L202.2,807.1L202.7,807.1L203.2,807.1L203.8,807.1L204.3,807.1L204.8,807.1L205.3,807.1L205.8,807.1L206.3,807.1L206.8,807.1L207.3,807.1L207.8,807.1L208.3,807.1L208.8,807.1L209.3,807.1L209.8,807.1L210.3,807.1L210.8,807.1L211.3,807.1L211.8,807.1L212.3,807.1L212.8,807.1L213.3,807.1L213.8,807.1L214.3,807.1L214.8,807.1L215.3,807.1L215.8,807.1L216.3,807.1L216.8,807.1L217.3,807.1L217.8,807.1L218.3,807.1L218.8,807.1L219.3,807.1L219.8,807.1L220.3,807.1L220.8,807.1L221.4,807.1L221.9,807.1L222.4,807.1L222.9,807.1L223.4,807.1L223.9,807.1L224.4,807.1L224.9,807.1L225.4,807.1L225.9,807.1L226.4,807.1L226.9,807.1L227.4,807.1L227.9,807.1L228.4,807.1L228.9,807.1L229.4,807.1L229.9,807.1L230.4,807.1L230.9,807.1L231.4,807.1L231.9,807.1L232.4,807.1L232.9,807.1L233.4,807.1L233.9,807.1L234.4,807.1L234.9,807.1L235.4,807.1L235.9,807.1L236.4,807.1L236.9,807.1L237.4,807.1L237.9,807.1L238.4,807.1L239.0,807.1L239.5,807.1L240.0,807.1L240.5,807.0L241.0,806.9L241.5,806.7L242.0,806.4L242.5,806.1L243.0,805.7L243.5,805.3L244.0,804.8L244.5,804.2L245.0,803.5L245.5,802.3L246.0,800.6L246.5,798.5L247.0,795.2L247.5,789.7L248.0,783.6L248.5,776.4L249.0,768.8L249.5,762.0L250.0,755.8L250.5,750.9L251.0,746.8L251.5,747.5L252.0,753.1L252.5,759.4L253.0,767.0L253.5,774.7L254.0,782.8L254.5,789.9L255.0,795.4L255.5,799.9L256.0,802.2L256.6,803.7L257.1,804.8L257.6,805.5L258.1,806.1L258.6,806.6L259.1,806.9L259.6,807.1L260.1,807.1L260.6,807.1L261.1,807.1L261.6,807.1L262.1,807.1L262.6,807.1L263.1,807.1L263.6,807.1L264.1,807.1L264.6,807.1L265.1,807.1L265.6,807.1L266.1,807.1L266.6,807.1L267.1,807.1L267.6,807.1L268.1,807.1L268.6,807.1L269.1,807.1L269.6,807.1L270.1,807.1L270.6,807.1L271.1,807.1L271.6,807.1L272.1,807.1L272.6,807.1L273.1,807.1L273.6,807.1L274.2,807.1L274.7,807.1L275.2,807.1L275.7,807.1L276.2,807.1L276.7,807.1L277.2,807.1L277.7,807.1L278.2,807.1L278.7,807.1L279.2,807.1L279.7,807.1L280.2,807.1L280.7,807.1L281.2,807.1L281.7,807.1L282.2,807.1L282.7,807.1" fill="none" stroke="#323f5e" stroke-width="1.6" stroke-linejoin="round"/>
</g>
<rect x="194.70" y="745.60" width="88.00" height="61.50" fill="none" stroke="#000" stroke-width="1.7"/>
<path d="M193.85,807.10h-1.7M193.85,804.31h-1.7M193.85,801.53h-1.7M193.85,798.74h-1.7M193.85,795.95h-1.7M193.85,793.17h-1.7M193.85,790.38h-1.7M193.85,787.59h-1.7M193.85,784.81h-1.7M193.85,782.02h-1.7M193.85,779.23h-1.7M193.85,776.45h-1.7M193.85,773.66h-1.7M193.85,770.87h-1.7M193.85,768.09h-1.7M193.85,765.30h-1.7M193.85,762.51h-1.7M193.85,759.73h-1.7M193.85,756.94h-1.7M193.85,754.15h-1.7M193.85,751.37h-1.7M193.85,748.58h-1.7M193.85,745.80h-1.7" stroke="#000" stroke-width="1.0" fill="none"/>
<path d="M193.85,807.10h-2.8M193.85,795.95h-2.8M193.85,784.81h-2.8M193.85,773.66h-2.8M193.85,762.51h-2.8M193.85,751.37h-2.8" stroke="#000" stroke-width="1.3" fill="none"/>
<path d="M201.32,807.95v1.7M205.20,807.95v1.7M207.95,807.95v1.7M210.08,807.95v1.7M211.82,807.95v1.7M213.29,807.95v1.7M214.57,807.95v1.7M215.69,807.95v1.7M223.32,807.95v1.7M227.20,807.95v1.7M229.95,807.95v1.7M232.08,807.95v1.7M233.82,807.95v1.7M235.29,807.95v1.7M236.57,807.95v1.7M237.69,807.95v1.7M245.32,807.95v1.7M249.20,807.95v1.7M251.95,807.95v1.7M254.08,807.95v1.7M255.82,807.95v1.7M257.29,807.95v1.7M258.57,807.95v1.7M259.69,807.95v1.7M267.32,807.95v1.7M271.20,807.95v1.7M273.95,807.95v1.7M276.08,807.95v1.7M277.82,807.95v1.7M279.29,807.95v1.7M280.57,807.95v1.7M281.69,807.95v1.7" stroke="#000" stroke-width="1.0" fill="none"/>
<path d="M194.70,807.95v2.8M216.70,807.95v2.8M238.70,807.95v2.8M260.70,807.95v2.8M282.70,807.95v2.8" stroke="#000" stroke-width="1.2" fill="none"/>
<text x="188.90" y="809.80" font-size="7.5" text-anchor="end" stroke="#000" stroke-width="0.25">0</text>
<text x="188.90" y="798.65" font-size="7.5" text-anchor="end" stroke="#000" stroke-width="0.25">40</text>
<text x="188.90" y="787.51" font-size="7.5" text-anchor="end" stroke="#000" stroke-width="0.25">80</text>
<text x="188.90" y="776.36" font-size="7.5" text-anchor="end" stroke="#000" stroke-width="0.25">120</text>
<text x="188.90" y="765.21" font-size="7.5" text-anchor="end" stroke="#000" stroke-width="0.25">160</text>
<text x="188.90" y="754.07" font-size="7.5" text-anchor="end" stroke="#000" stroke-width="0.25">200</text>
<text x="194.10" y="820.30" font-size="7.4" text-anchor="middle" stroke="#000" stroke-width="0.25">10</text>
<text x="198.60" y="817.80" font-size="4.2" stroke="#000" stroke-width="0.15">0</text>
<text x="215.70" y="820.30" font-size="7.4" text-anchor="middle" stroke="#000" stroke-width="0.25">10</text>
<text x="220.20" y="817.80" font-size="4.2" stroke="#000" stroke-width="0.15">1</text>
<text x="237.30" y="820.30" font-size="7.4" text-anchor="middle" stroke="#000" stroke-width="0.25">10</text>
<text x="241.80" y="817.80" font-size="4.2" stroke="#000" stroke-width="0.15">2</text>
<text x="258.90" y="820.30" font-size="7.4" text-anchor="middle" stroke="#000" stroke-width="0.25">10</text>
<text x="263.40" y="817.80" font-size="4.2" stroke="#000" stroke-width="0.15">3</text>
<text x="280.50" y="820.30" font-size="7.4" text-anchor="middle" stroke="#000" stroke-width="0.25">10</text>
<text x="285.00" y="817.80" font-size="4.2" stroke="#000" stroke-width="0.15">4</text>
<text x="170.19" y="776.35" font-size="10.6" text-anchor="middle" textLength="30.50" lengthAdjust="spacingAndGlyphs" transform="rotate(-90 170.19 776.35)" stroke="#000" stroke-width="0.1">Counts</text>
<clipPath id="c331_745"><rect x="331.10" y="744.60" width="89.20" height="62.50"/></clipPath>
<g clip-path="url(#c331_745)">
<path d="M331.1,807.1L331.1,807.0L331.6,806.7L332.1,807.1L332.6,806.5L333.1,806.9L333.6,806.9L334.1,806.6L334.6,807.1L335.1,806.7L335.6,806.8L336.1,807.1L336.6,806.8L337.1,807.0L337.7,806.6L338.2,806.6L338.7,806.9L339.2,806.9L339.7,806.5L340.2,807.1L340.7,807.1L341.2,806.9L341.7,806.8L342.2,806.4L342.7,806.8L343.2,807.0L343.7,806.0L344.2,806.3L344.7,805.8L345.2,804.2L345.7,804.4L346.2,804.3L346.7,804.3L347.2,804.9L347.7,804.2L348.2,804.4L348.7,804.3L349.2,803.8L349.7,804.4L350.3,803.1L350.8,804.2L351.3,804.4L351.8,803.3L352.3,803.3L352.8,802.5L353.3,800.5L353.8,799.4L354.3,797.7L354.8,796.1L355.3,796.2L355.8,793.9L356.3,792.6L356.8,791.1L357.3,789.4L357.8,787.5L358.3,785.5L358.8,783.1L359.3,780.5L359.8,779.2L360.3,780.8L360.8,778.5L361.3,773.7L361.8,770.9L362.3,769.8L362.8,768.9L363.4,768.1L363.9,767.1L364.4,761.5L364.9,761.2L365.4,761.2L365.9,759.7L366.4,759.8L366.9,756.4L367.4,757.3L367.9,758.2L368.4,763.3L368.9,767.0L369.4,772.7L369.9,777.1L370.4,782.1L370.9,784.4L371.4,788.3L371.9,793.2L372.4,796.5L372.9,799.9L373.4,802.2L373.9,804.6L374.4,804.8L374.9,807.1L375.4,806.6L376.0,806.5L376.5,807.1L377.0,806.9L377.5,807.1L378.0,806.6L378.5,807.1L379.0,807.0L379.5,807.1L380.0,807.1L380.5,807.1L381.0,807.1L381.5,807.0L382.0,806.9L382.5,806.9L383.0,807.1L383.5,806.5L384.0,806.9L384.5,807.1L385.0,806.5L385.5,806.4L386.0,807.1L386.5,807.1L387.0,807.1L387.5,806.7L388.0,806.9L388.6,807.1L389.1,807.0L389.6,806.6L390.1,807.0L390.6,807.1L391.1,807.1L391.6,807.1L392.1,807.1L392.6,806.6L393.1,807.1L393.6,807.1L394.1,807.1L394.6,806.4L395.1,806.4L395.6,807.1L396.1,806.7L396.6,807.1L397.1,806.6L397.6,807.1L398.1,807.1L398.6,806.6L399.1,806.9L399.6,807.0L400.1,807.1L400.6,806.7L401.1,806.7L401.7,806.9L402.2,807.1L402.7,807.1L403.2,806.4L403.7,807.1L404.2,807.1L404.7,806.8L405.2,806.7L405.7,807.1L406.2,807.0L406.7,807.1L407.2,806.5L407.7,807.1L408.2,807.1L408.7,807.1L409.2,806.5L409.7,807.1L410.2,806.4L410.7,807.1L411.2,806.8L411.7,807.1L412.2,806.7L412.7,807.0L413.2,806.9L413.7,807.1L414.3,807.1L414.8,806.7L415.3,807.1L415.8,806.7L416.3,806.8L416.8,807.1L417.3,807.1L417.8,807.1L418.3,807.1L418.8,807.1L419.3,806.6L419.8,807.1L420.3,807.1L420.3,807.1 Z" fill="#d4887f" stroke="none"/>
<path d="M331.1,807.0L331.6,806.7L332.1,807.1L332.6,806.5L333.1,806.9L333.6,806.9L334.1,806.6L334.6,807.1L335.1,806.7L335.6,806.8L336.1,807.1L336.6,806.8L337.1,807.0L337.7,806.6L338.2,806.6L338.7,806.9L339.2,806.9L339.7,806.5L340.2,807.1L340.7,807.1L341.2,806.9L341.7,806.8L342.2,806.4L342.7,806.8L343.2,807.0L343.7,806.0L344.2,806.3L344.7,805.8L345.2,804.2L345.7,804.4L346.2,804.3L346.7,804.3L347.2,804.9L347.7,804.2L348.2,804.4L348.7,804.3L349.2,803.8L349.7,804.4L350.3,803.1L350.8,804.2L351.3,804.4L351.8,803.3L352.3,803.3L352.8,802.5L353.3,800.5L353.8,799.4L354.3,797.7L354.8,796.1L355.3,796.2L355.8,793.9L356.3,792.6L356.8,791.1L357.3,789.4L357.8,787.5L358.3,785.5L358.8,783.1L359.3,780.5L359.8,779.2L360.3,780.8L360.8,778.5L361.3,773.7L361.8,770.9L362.3,769.8L362.8,768.9L363.4,768.1L363.9,767.1L364.4,761.5L364.9,761.2L365.4,761.2L365.9,759.7L366.4,759.8L366.9,756.4L367.4,757.3L367.9,758.2L368.4,763.3L368.9,767.0L369.4,772.7L369.9,777.1L370.4,782.1L370.9,784.4L371.4,788.3L371.9,793.2L372.4,796.5L372.9,799.9L373.4,802.2L373.9,804.6L374.4,804.8L374.9,807.1L375.4,806.6L376.0,806.5L376.5,807.1L377.0,806.9L377.5,807.1L378.0,806.6L378.5,807.1L379.0,807.0L379.5,807.1L380.0,807.1L380.5,807.1L381.0,807.1L381.5,807.0L382.0,806.9L382.5,806.9L383.0,807.1L383.5,806.5L384.0,806.9L384.5,807.1L385.0,806.5L385.5,806.4L386.0,807.1L386.5,807.1L387.0,807.1L387.5,806.7L388.0,806.9L388.6,807.1L389.1,807.0L389.6,806.6L390.1,807.0L390.6,807.1L391.1,807.1L391.6,807.1L392.1,807.1L392.6,806.6L393.1,807.1L393.6,807.1L394.1,807.1L394.6,806.4L395.1,806.4L395.6,807.1L396.1,806.7L396.6,807.1L397.1,806.6L397.6,807.1L398.1,807.1L398.6,806.6L399.1,806.9L399.6,807.0L400.1,807.1L400.6,806.7L401.1,806.7L401.7,806.9L402.2,807.1L402.7,807.1L403.2,806.4L403.7,807.1L404.2,807.1L404.7,806.8L405.2,806.7L405.7,807.1L406.2,807.0L406.7,807.1L407.2,806.5L407.7,807.1L408.2,807.1L408.7,807.1L409.2,806.5L409.7,807.1L410.2,806.4L410.7,807.1L411.2,806.8L411.7,807.1L412.2,806.7L412.7,807.0L413.2,806.9L413.7,807.1L414.3,807.1L414.8,806.7L415.3,807.1L415.8,806.7L416.3,806.8L416.8,807.1L417.3,807.1L417.8,807.1L418.3,807.1L418.8,807.1L419.3,806.6L419.8,807.1L420.3,807.1" fill="none" stroke="#961a36" stroke-width="1.8" stroke-linejoin="round"/>
<path d="M331.1,807.1L331.6,806.4L332.1,806.8L332.6,807.1L333.1,807.0L333.6,807.1L334.1,807.1L334.6,806.6L335.1,806.4L335.6,807.1L336.1,806.9L336.6,807.1L337.1,807.1L337.7,807.1L338.2,807.1L338.7,806.7L339.2,807.1L339.7,807.1L340.2,807.1L340.7,807.1L341.2,807.1L341.7,807.1L342.2,807.1L342.7,807.0L343.2,806.9L343.7,807.1L344.2,807.0L344.7,807.1L345.2,806.9L345.7,806.6L346.2,806.5L346.7,806.5L347.2,807.0L347.7,806.4L348.2,806.8L348.7,806.9L349.2,807.1L349.7,807.1L350.3,807.1L350.8,806.5L351.3,806.4L351.8,806.3L352.3,806.6L352.8,806.7L353.3,806.0L353.8,804.6L354.3,805.3L354.8,803.8L355.3,803.9L355.8,803.7L356.3,803.9L356.8,803.6L357.3,803.4L357.8,802.0L358.3,803.1L358.8,802.1L359.3,801.2L359.8,801.4L360.3,801.0L360.8,798.6L361.3,799.3L361.8,797.0L362.3,797.1L362.8,795.8L363.4,795.5L363.9,793.9L364.4,792.8L364.9,790.3L365.4,790.7L365.9,788.4L366.4,786.1L366.9,783.8L367.4,784.9L367.9,780.1L368.4,780.8L368.9,777.7L369.4,775.8L369.9,776.4L370.4,774.6L370.9,778.9L371.4,779.2L371.9,780.4L372.4,781.1L372.9,785.1L373.4,784.7L373.9,785.2L374.4,789.1L374.9,789.1L375.4,788.7L376.0,791.9L376.5,791.7L377.0,790.6L377.5,789.5L378.0,789.4L378.5,789.8L379.0,787.2L379.5,786.7L380.0,787.7L380.5,785.7L381.0,785.1L381.5,780.1L382.0,779.5L382.5,779.4L383.0,779.3L383.5,780.6L384.0,779.5L384.5,780.0L385.0,779.3L385.5,779.5L386.0,780.7L386.5,781.8L387.0,783.7L387.5,785.8L388.0,787.3L388.6,790.4L389.1,792.9L389.6,795.3L390.1,797.2L390.6,799.6L391.1,800.6L391.6,802.2L392.1,803.4L392.6,804.8L393.1,806.0L393.6,806.3L394.1,805.9L394.6,806.5L395.1,806.7L395.6,807.0L396.1,806.4L396.6,805.6L397.1,804.8L397.6,805.0L398.1,805.7L398.6,806.9L399.1,807.1L399.6,807.1L400.1,806.7L400.6,806.5L401.1,807.1L401.7,807.1L402.2,807.1L402.7,806.5L403.2,807.1L403.7,806.7L404.2,807.1L404.7,806.4L405.2,807.1L405.7,806.8L406.2,806.8L406.7,807.1L407.2,807.1L407.7,806.6L408.2,807.1L408.7,806.9L409.2,807.1L409.7,807.1L410.2,807.1L410.7,806.5L411.2,807.1L411.7,807.1L412.2,806.7L412.7,807.1L413.2,806.8L413.7,807.1L414.3,807.1L414.8,807.0L415.3,807.1L415.8,806.7L416.3,806.5L416.8,807.1L417.3,807.0L417.8,807.1L418.3,807.1L418.8,806.4L419.3,807.0L419.8,807.0L420.3,806.8" fill="none" stroke="#323f5e" stroke-width="1.6" stroke-linejoin="round"/>
</g>
<rect x="331.10" y="745.60" width="89.20" height="61.50" fill="none" stroke="#000" stroke-width="1.7"/>
<path d="M330.25,807.10h-1.7M330.25,805.06h-1.7M330.25,803.01h-1.7M330.25,800.97h-1.7M330.25,798.93h-1.7M330.25,796.88h-1.7M330.25,794.84h-1.7M330.25,792.80h-1.7M330.25,790.75h-1.7M330.25,788.71h-1.7M330.25,786.67h-1.7M330.25,784.62h-1.7M330.25,782.58h-1.7M330.25,780.54h-1.7M330.25,778.50h-1.7M330.25,776.45h-1.7M330.25,774.41h-1.7M330.25,772.37h-1.7M330.25,770.32h-1.7M330.25,768.28h-1.7M330.25,766.24h-1.7M330.25,764.19h-1.7M330.25,762.15h-1.7M330.25,760.11h-1.7M330.25,758.06h-1.7M330.25,756.02h-1.7M330.25,753.98h-1.7M330.25,751.93h-1.7M330.25,749.89h-1.7M330.25,747.85h-1.7M330.25,745.80h-1.7" stroke="#000" stroke-width="1.0" fill="none"/>
<path d="M330.25,807.10h-2.8M330.25,796.88h-2.8M330.25,786.67h-2.8M330.25,776.45h-2.8M330.25,766.24h-2.8M330.25,756.02h-2.8M330.25,745.80h-2.8" stroke="#000" stroke-width="1.3" fill="none"/>
<path d="M337.81,807.95v1.7M341.74,807.95v1.7M344.53,807.95v1.7M346.69,807.95v1.7M348.45,807.95v1.7M349.95,807.95v1.7M351.24,807.95v1.7M352.38,807.95v1.7M360.11,807.95v1.7M364.04,807.95v1.7M366.83,807.95v1.7M368.99,807.95v1.7M370.75,807.95v1.7M372.25,807.95v1.7M373.54,807.95v1.7M374.68,807.95v1.7M382.41,807.95v1.7M386.34,807.95v1.7M389.13,807.95v1.7M391.29,807.95v1.7M393.05,807.95v1.7M394.55,807.95v1.7M395.84,807.95v1.7M396.98,807.95v1.7M404.71,807.95v1.7M408.64,807.95v1.7M411.43,807.95v1.7M413.59,807.95v1.7M415.35,807.95v1.7M416.85,807.95v1.7M418.14,807.95v1.7M419.28,807.95v1.7" stroke="#000" stroke-width="1.0" fill="none"/>
<path d="M331.10,807.95v2.8M353.40,807.95v2.8M375.70,807.95v2.8M398.00,807.95v2.8M420.30,807.95v2.8" stroke="#000" stroke-width="1.2" fill="none"/>
<text x="325.30" y="809.80" font-size="7.5" text-anchor="end" stroke="#000" stroke-width="0.25">0</text>
<text x="325.30" y="799.58" font-size="7.5" text-anchor="end" stroke="#000" stroke-width="0.25">5</text>
<text x="325.30" y="789.37" font-size="7.5" text-anchor="end" stroke="#000" stroke-width="0.25">10</text>
<text x="325.30" y="779.15" font-size="7.5" text-anchor="end" stroke="#000" stroke-width="0.25">15</text>
<text x="325.30" y="768.94" font-size="7.5" text-anchor="end" stroke="#000" stroke-width="0.25">20</text>
<text x="325.30" y="758.72" font-size="7.5" text-anchor="end" stroke="#000" stroke-width="0.25">25</text>
<text x="325.30" y="748.50" font-size="7.5" text-anchor="end" stroke="#000" stroke-width="0.25">30</text>
<text x="330.50" y="820.30" font-size="7.4" text-anchor="middle" stroke="#000" stroke-width="0.25">10</text>
<text x="335.00" y="817.80" font-size="4.2" stroke="#000" stroke-width="0.15">0</text>
<text x="352.40" y="820.30" font-size="7.4" text-anchor="middle" stroke="#000" stroke-width="0.25">10</text>
<text x="356.90" y="817.80" font-size="4.2" stroke="#000" stroke-width="0.15">1</text>
<text x="374.30" y="820.30" font-size="7.4" text-anchor="middle" stroke="#000" stroke-width="0.25">10</text>
<text x="378.80" y="817.80" font-size="4.2" stroke="#000" stroke-width="0.15">2</text>
<text x="396.20" y="820.30" font-size="7.4" text-anchor="middle" stroke="#000" stroke-width="0.25">10</text>
<text x="400.70" y="817.80" font-size="4.2" stroke="#000" stroke-width="0.15">3</text>
<text x="418.10" y="820.30" font-size="7.4" text-anchor="middle" stroke="#000" stroke-width="0.25">10</text>
<text x="422.60" y="817.80" font-size="4.2" stroke="#000" stroke-width="0.15">4</text>
<text x="310.76" y="776.35" font-size="10.6" text-anchor="middle" textLength="30.50" lengthAdjust="spacingAndGlyphs" transform="rotate(-90 310.76 776.35)" stroke="#000" stroke-width="0.1">Counts</text>
<clipPath id="c194_854"><rect x="194.70" y="853.10" width="88.00" height="62.50"/></clipPath>
<g clip-path="url(#c194_854)">
<path d="M194.7,915.6L194.7,915.6L195.2,915.6L195.7,915.6L196.2,915.5L196.7,915.6L197.2,915.5L197.7,915.6L198.2,915.6L198.7,915.5L199.2,915.6L199.7,915.5L200.2,915.6L200.7,915.6L201.2,915.6L201.7,915.6L202.2,915.5L202.7,915.4L203.2,915.6L203.8,915.6L204.3,915.4L204.8,915.6L205.3,915.5L205.8,915.6L206.3,915.5L206.8,915.5L207.3,915.6L207.8,915.4L208.3,915.5L208.8,915.5L209.3,915.5L209.8,915.5L210.3,915.6L210.8,915.6L211.3,915.5L211.8,915.3L212.3,914.8L212.8,914.8L213.3,914.6L213.8,914.0L214.3,913.7L214.8,913.5L215.3,913.2L215.8,913.0L216.3,912.5L216.8,912.0L217.3,911.6L217.8,911.5L218.3,910.8L218.8,910.6L219.3,909.6L219.8,909.2L220.3,909.1L220.8,908.1L221.4,908.0L221.9,907.1L222.4,906.6L222.9,906.0L223.4,904.8L223.9,903.7L224.4,902.9L224.9,901.1L225.4,900.0L225.9,898.9L226.4,897.1L226.9,895.4L227.4,892.6L227.9,890.8L228.4,887.9L228.9,885.0L229.4,881.9L229.9,880.6L230.4,879.0L230.9,878.2L231.4,878.5L231.9,878.3L232.4,879.0L232.9,880.0L233.4,881.2L233.9,885.1L234.4,888.7L234.9,893.4L235.4,897.6L235.9,901.3L236.4,905.4L236.9,909.2L237.4,910.9L237.9,912.6L238.4,913.6L239.0,914.4L239.5,914.8L240.0,915.2L240.5,915.6L241.0,915.4L241.5,915.6L242.0,915.5L242.5,915.6L243.0,915.6L243.5,915.6L244.0,915.4L244.5,915.6L245.0,915.6L245.5,915.6L246.0,915.5L246.5,915.6L247.0,915.5L247.5,915.6L248.0,915.6L248.5,915.6L249.0,915.6L249.5,915.5L250.0,915.5L250.5,915.6L251.0,915.6L251.5,915.6L252.0,915.6L252.5,915.5L253.0,915.5L253.5,915.6L254.0,915.5L254.5,915.5L255.0,915.5L255.5,915.6L256.0,915.6L256.6,915.4L257.1,915.6L257.6,915.5L258.1,915.6L258.6,915.5L259.1,915.5L259.6,915.4L260.1,915.6L260.6,915.5L261.1,915.6L261.6,915.6L262.1,915.5L262.6,915.6L263.1,915.4L263.6,915.6L264.1,915.6L264.6,915.6L265.1,915.6L265.6,915.6L266.1,915.5L266.6,915.5L267.1,915.5L267.6,915.5L268.1,915.5L268.6,915.6L269.1,915.6L269.6,915.5L270.1,915.6L270.6,915.6L271.1,915.6L271.6,915.6L272.1,915.6L272.6,915.6L273.1,915.5L273.6,915.6L274.2,915.6L274.7,915.6L275.2,915.6L275.7,915.6L276.2,915.5L276.7,915.6L277.2,915.6L277.7,915.6L278.2,915.6L278.7,915.6L279.2,915.5L279.7,915.6L280.2,915.6L280.7,915.4L281.2,915.6L281.7,915.6L282.2,915.6L282.7,915.6L282.7,915.6 Z" fill="#d4887f" stroke="none"/>
<path d="M194.7,915.6L195.2,915.6L195.7,915.6L196.2,915.5L196.7,915.6L197.2,915.5L197.7,915.6L198.2,915.6L198.7,915.5L199.2,915.6L199.7,915.5L200.2,915.6L200.7,915.6L201.2,915.6L201.7,915.6L202.2,915.5L202.7,915.4L203.2,915.6L203.8,915.6L204.3,915.4L204.8,915.6L205.3,915.5L205.8,915.6L206.3,915.5L206.8,915.5L207.3,915.6L207.8,915.4L208.3,915.5L208.8,915.5L209.3,915.5L209.8,915.5L210.3,915.6L210.8,915.6L211.3,915.5L211.8,915.3L212.3,914.8L212.8,914.8L213.3,914.6L213.8,914.0L214.3,913.7L214.8,913.5L215.3,913.2L215.8,913.0L216.3,912.5L216.8,912.0L217.3,911.6L217.8,911.5L218.3,910.8L218.8,910.6L219.3,909.6L219.8,909.2L220.3,909.1L220.8,908.1L221.4,908.0L221.9,907.1L222.4,906.6L222.9,906.0L223.4,904.8L223.9,903.7L224.4,902.9L224.9,901.1L225.4,900.0L225.9,898.9L226.4,897.1L226.9,895.4L227.4,892.6L227.9,890.8L228.4,887.9L228.9,885.0L229.4,881.9L229.9,880.6L230.4,879.0L230.9,878.2L231.4,878.5L231.9,878.3L232.4,879.0L232.9,880.0L233.4,881.2L233.9,885.1L234.4,888.7L234.9,893.4L235.4,897.6L235.9,901.3L236.4,905.4L236.9,909.2L237.4,910.9L237.9,912.6L238.4,913.6L239.0,914.4L239.5,914.8L240.0,915.2L240.5,915.6L241.0,915.4L241.5,915.6L242.0,915.5L242.5,915.6L243.0,915.6L243.5,915.6L244.0,915.4L244.5,915.6L245.0,915.6L245.5,915.6L246.0,915.5L246.5,915.6L247.0,915.5L247.5,915.6L248.0,915.6L248.5,915.6L249.0,915.6L249.5,915.5L250.0,915.5L250.5,915.6L251.0,915.6L251.5,915.6L252.0,915.6L252.5,915.5L253.0,915.5L253.5,915.6L254.0,915.5L254.5,915.5L255.0,915.5L255.5,915.6L256.0,915.6L256.6,915.4L257.1,915.6L257.6,915.5L258.1,915.6L258.6,915.5L259.1,915.5L259.6,915.4L260.1,915.6L260.6,915.5L261.1,915.6L261.6,915.6L262.1,915.5L262.6,915.6L263.1,915.4L263.6,915.6L264.1,915.6L264.6,915.6L265.1,915.6L265.6,915.6L266.1,915.5L266.6,915.5L267.1,915.5L267.6,915.5L268.1,915.5L268.6,915.6L269.1,915.6L269.6,915.5L270.1,915.6L270.6,915.6L271.1,915.6L271.6,915.6L272.1,915.6L272.6,915.6L273.1,915.5L273.6,915.6L274.2,915.6L274.7,915.6L275.2,915.6L275.7,915.6L276.2,915.5L276.7,915.6L277.2,915.6L277.7,915.6L278.2,915.6L278.7,915.6L279.2,915.5L279.7,915.6L280.2,915.6L280.7,915.4L281.2,915.6L281.7,915.6L282.2,915.6L282.7,915.6" fill="none" stroke="#961a36" stroke-width="1.8" stroke-linejoin="round"/>
<path d="M194.7,915.6L195.2,915.6L195.7,915.6L196.2,915.6L196.7,915.6L197.2,915.6L197.7,915.6L198.2,915.6L198.7,915.6L199.2,915.6L199.7,915.6L200.2,915.6L200.7,915.6L201.2,915.6L201.7,915.6L202.2,915.6L202.7,915.6L203.2,915.6L203.8,915.6L204.3,915.6L204.8,915.6L205.3,915.6L205.8,915.6L206.3,915.6L206.8,915.6L207.3,915.6L207.8,915.6L208.3,915.6L208.8,915.6L209.3,915.6L209.8,915.6L210.3,915.6L210.8,915.6L211.3,915.6L211.8,915.6L212.3,915.6L212.8,915.6L213.3,915.6L213.8,915.6L214.3,915.6L214.8,915.6L215.3,915.6L215.8,915.6L216.3,915.6L216.8,915.6L217.3,915.6L217.8,915.6L218.3,915.6L218.8,915.6L219.3,915.6L219.8,915.6L220.3,915.6L220.8,915.6L221.4,915.6L221.9,915.6L222.4,915.6L222.9,915.6L223.4,915.6L223.9,915.6L224.4,915.6L224.9,915.6L225.4,915.6L225.9,915.6L226.4,915.6L226.9,915.6L227.4,915.6L227.9,915.6L228.4,915.6L228.9,915.6L229.4,915.6L229.9,915.6L230.4,915.6L230.9,915.6L231.4,915.6L231.9,915.6L232.4,915.6L232.9,915.6L233.4,915.6L233.9,915.6L234.4,915.6L234.9,915.6L235.4,915.6L235.9,915.6L236.4,915.6L236.9,915.6L237.4,915.6L237.9,915.6L238.4,915.6L239.0,915.6L239.5,915.6L240.0,915.6L240.5,915.5L241.0,915.3L241.5,915.0L242.0,914.7L242.5,914.2L243.0,913.7L243.5,913.2L244.0,912.7L244.5,912.1L245.0,911.5L245.5,910.8L246.0,910.1L246.5,909.1L247.0,907.9L247.5,906.4L248.0,903.7L248.5,899.5L249.0,894.3L249.5,888.5L250.0,880.7L250.5,873.3L251.0,867.6L251.5,862.6L252.0,858.7L252.5,855.3L253.0,855.3L253.5,858.6L254.0,863.6L254.5,871.2L255.0,879.0L255.5,887.7L256.0,895.9L256.6,901.4L257.1,905.7L257.6,908.9L258.1,910.7L258.6,912.0L259.1,913.0L259.6,913.8L260.1,914.4L260.6,914.9L261.1,915.3L261.6,915.6L262.1,915.6L262.6,915.6L263.1,915.6L263.6,915.6L264.1,915.6L264.6,915.6L265.1,915.6L265.6,915.6L266.1,915.6L266.6,915.6L267.1,915.6L267.6,915.6L268.1,915.6L268.6,915.6L269.1,915.6L269.6,915.6L270.1,915.6L270.6,915.6L271.1,915.6L271.6,915.6L272.1,915.6L272.6,915.6L273.1,915.6L273.6,915.6L274.2,915.6L274.7,915.6L275.2,915.6L275.7,915.6L276.2,915.6L276.7,915.6L277.2,915.6L277.7,915.6L278.2,915.6L278.7,915.6L279.2,915.6L279.7,915.6L280.2,915.6L280.7,915.6L281.2,915.6L281.7,915.6L282.2,915.6L282.7,915.6" fill="none" stroke="#323f5e" stroke-width="1.6" stroke-linejoin="round"/>
</g>
<rect x="194.70" y="854.10" width="88.00" height="61.50" fill="none" stroke="#000" stroke-width="1.7"/>
<path d="M193.85,915.60h-1.7M193.85,912.81h-1.7M193.85,910.03h-1.7M193.85,907.24h-1.7M193.85,904.45h-1.7M193.85,901.67h-1.7M193.85,898.88h-1.7M193.85,896.09h-1.7M193.85,893.31h-1.7M193.85,890.52h-1.7M193.85,887.73h-1.7M193.85,884.95h-1.7M193.85,882.16h-1.7M193.85,879.37h-1.7M193.85,876.59h-1.7M193.85,873.80h-1.7M193.85,871.01h-1.7M193.85,868.23h-1.7M193.85,865.44h-1.7M193.85,862.65h-1.7M193.85,859.87h-1.7M193.85,857.08h-1.7M193.85,854.30h-1.7" stroke="#000" stroke-width="1.0" fill="none"/>
<path d="M193.85,915.60h-2.8M193.85,904.45h-2.8M193.85,893.31h-2.8M193.85,882.16h-2.8M193.85,871.01h-2.8M193.85,859.87h-2.8" stroke="#000" stroke-width="1.3" fill="none"/>
<path d="M201.32,916.45v1.7M205.20,916.45v1.7M207.95,916.45v1.7M210.08,916.45v1.7M211.82,916.45v1.7M213.29,916.45v1.7M214.57,916.45v1.7M215.69,916.45v1.7M223.32,916.45v1.7M227.20,916.45v1.7M229.95,916.45v1.7M232.08,916.45v1.7M233.82,916.45v1.7M235.29,916.45v1.7M236.57,916.45v1.7M237.69,916.45v1.7M245.32,916.45v1.7M249.20,916.45v1.7M251.95,916.45v1.7M254.08,916.45v1.7M255.82,916.45v1.7M257.29,916.45v1.7M258.57,916.45v1.7M259.69,916.45v1.7M267.32,916.45v1.7M271.20,916.45v1.7M273.95,916.45v1.7M276.08,916.45v1.7M277.82,916.45v1.7M279.29,916.45v1.7M280.57,916.45v1.7M281.69,916.45v1.7" stroke="#000" stroke-width="1.0" fill="none"/>
<path d="M194.70,916.45v2.8M216.70,916.45v2.8M238.70,916.45v2.8M260.70,916.45v2.8M282.70,916.45v2.8" stroke="#000" stroke-width="1.2" fill="none"/>
<text x="188.90" y="918.30" font-size="7.5" text-anchor="end" stroke="#000" stroke-width="0.25">0</text>
<text x="188.90" y="907.15" font-size="7.5" text-anchor="end" stroke="#000" stroke-width="0.25">40</text>
<text x="188.90" y="896.01" font-size="7.5" text-anchor="end" stroke="#000" stroke-width="0.25">80</text>
<text x="188.90" y="884.86" font-size="7.5" text-anchor="end" stroke="#000" stroke-width="0.25">120</text>
<text x="188.90" y="873.71" font-size="7.5" text-anchor="end" stroke="#000" stroke-width="0.25">160</text>
<text x="188.90" y="862.57" font-size="7.5" text-anchor="end" stroke="#000" stroke-width="0.25">200</text>
<text x="194.10" y="928.80" font-size="7.4" text-anchor="middle" stroke="#000" stroke-width="0.25">10</text>
<text x="198.60" y="926.30" font-size="4.2" stroke="#000" stroke-width="0.15">0</text>
<text x="215.70" y="928.80" font-size="7.4" text-anchor="middle" stroke="#000" stroke-width="0.25">10</text>
<text x="220.20" y="926.30" font-size="4.2" stroke="#000" stroke-width="0.15">1</text>
<text x="237.30" y="928.80" font-size="7.4" text-anchor="middle" stroke="#000" stroke-width="0.25">10</text>
<text x="241.80" y="926.30" font-size="4.2" stroke="#000" stroke-width="0.15">2</text>
<text x="258.90" y="928.80" font-size="7.4" text-anchor="middle" stroke="#000" stroke-width="0.25">10</text>
<text x="263.40" y="926.30" font-size="4.2" stroke="#000" stroke-width="0.15">3</text>
<text x="280.50" y="928.80" font-size="7.4" text-anchor="middle" stroke="#000" stroke-width="0.25">10</text>
<text x="285.00" y="926.30" font-size="4.2" stroke="#000" stroke-width="0.15">4</text>
<text x="170.19" y="884.85" font-size="10.6" text-anchor="middle" textLength="30.50" lengthAdjust="spacingAndGlyphs" transform="rotate(-90 170.19 884.85)" stroke="#000" stroke-width="0.1">Counts</text>
<clipPath id="c331_854"><rect x="331.10" y="853.10" width="89.20" height="62.50"/></clipPath>
<g clip-path="url(#c331_854)">
<path d="M331.1,915.6L331.1,912.7L331.6,912.6L332.1,912.7L332.6,912.7L333.1,912.5L333.6,912.8L334.1,912.6L334.6,913.5L335.1,912.8L335.6,913.1L336.1,913.4L336.6,913.2L337.1,913.4L337.7,912.6L338.2,912.8L338.7,913.4L339.2,912.9L339.7,913.6L340.2,913.6L340.7,912.7L341.2,912.7L341.7,913.3L342.2,913.4L342.7,913.3L343.2,913.7L343.7,912.8L344.2,912.5L344.7,911.9L345.2,911.5L345.7,910.2L346.2,909.5L346.7,911.2L347.2,910.8L347.7,911.2L348.2,910.8L348.7,910.5L349.2,910.3L349.7,909.5L350.3,908.8L350.8,908.2L351.3,906.0L351.8,905.4L352.3,903.3L352.8,902.4L353.3,902.2L353.8,899.5L354.3,898.7L354.8,897.0L355.3,896.1L355.8,892.4L356.3,891.3L356.8,890.0L357.3,886.6L357.8,885.0L358.3,884.0L358.8,881.8L359.3,879.5L359.8,877.4L360.3,874.4L360.8,876.7L361.3,876.8L361.8,876.3L362.3,873.1L362.8,872.2L363.4,874.8L363.9,872.9L364.4,872.9L364.9,870.0L365.4,867.1L365.9,871.2L366.4,872.5L366.9,876.0L367.4,880.3L367.9,883.8L368.4,886.3L368.9,888.5L369.4,894.0L369.9,896.4L370.4,898.4L370.9,900.1L371.4,904.0L371.9,904.8L372.4,908.3L372.9,910.3L373.4,912.5L373.9,913.2L374.4,914.5L374.9,915.1L375.4,915.1L376.0,915.1L376.5,915.4L377.0,915.1L377.5,915.4L378.0,915.2L378.5,915.6L379.0,915.6L379.5,915.6L380.0,915.5L380.5,915.4L381.0,915.5L381.5,915.3L382.0,915.6L382.5,915.3L383.0,915.6L383.5,915.6L384.0,915.6L384.5,915.6L385.0,915.1L385.5,915.5L386.0,915.6L386.5,915.1L387.0,915.2L387.5,915.1L388.0,915.6L388.6,915.4L389.1,915.6L389.6,915.2L390.1,915.6L390.6,915.1L391.1,915.5L391.6,915.5L392.1,915.5L392.6,915.1L393.1,915.1L393.6,915.6L394.1,915.6L394.6,915.4L395.1,915.3L395.6,915.3L396.1,915.6L396.6,915.1L397.1,915.1L397.6,915.1L398.1,915.3L398.6,915.6L399.1,915.3L399.6,915.6L400.1,915.6L400.6,915.6L401.1,915.6L401.7,915.6L402.2,915.5L402.7,915.2L403.2,915.1L403.7,915.6L404.2,915.5L404.7,915.3L405.2,915.4L405.7,915.6L406.2,915.6L406.7,915.1L407.2,915.6L407.7,915.6L408.2,915.4L408.7,915.5L409.2,915.2L409.7,915.4L410.2,915.6L410.7,915.6L411.2,915.4L411.7,915.6L412.2,915.6L412.7,915.5L413.2,915.6L413.7,915.1L414.3,915.6L414.8,915.6L415.3,915.6L415.8,915.2L416.3,915.6L416.8,915.6L417.3,915.3L417.8,915.3L418.3,915.1L418.8,915.3L419.3,915.4L419.8,915.1L420.3,915.2L420.3,915.6 Z" fill="#d4887f" stroke="none"/>
<path d="M331.1,912.7L331.6,912.6L332.1,912.7L332.6,912.7L333.1,912.5L333.6,912.8L334.1,912.6L334.6,913.5L335.1,912.8L335.6,913.1L336.1,913.4L336.6,913.2L337.1,913.4L337.7,912.6L338.2,912.8L338.7,913.4L339.2,912.9L339.7,913.6L340.2,913.6L340.7,912.7L341.2,912.7L341.7,913.3L342.2,913.4L342.7,913.3L343.2,913.7L343.7,912.8L344.2,912.5L344.7,911.9L345.2,911.5L345.7,910.2L346.2,909.5L346.7,911.2L347.2,910.8L347.7,911.2L348.2,910.8L348.7,910.5L349.2,910.3L349.7,909.5L350.3,908.8L350.8,908.2L351.3,906.0L351.8,905.4L352.3,903.3L352.8,902.4L353.3,902.2L353.8,899.5L354.3,898.7L354.8,897.0L355.3,896.1L355.8,892.4L356.3,891.3L356.8,890.0L357.3,886.6L357.8,885.0L358.3,884.0L358.8,881.8L359.3,879.5L359.8,877.4L360.3,874.4L360.8,876.7L361.3,876.8L361.8,876.3L362.3,873.1L362.8,872.2L363.4,874.8L363.9,872.9L364.4,872.9L364.9,870.0L365.4,867.1L365.9,871.2L366.4,872.5L366.9,876.0L367.4,880.3L367.9,883.8L368.4,886.3L368.9,888.5L369.4,894.0L369.9,896.4L370.4,898.4L370.9,900.1L371.4,904.0L371.9,904.8L372.4,908.3L372.9,910.3L373.4,912.5L373.9,913.2L374.4,914.5L374.9,915.1L375.4,915.1L376.0,915.1L376.5,915.4L377.0,915.1L377.5,915.4L378.0,915.2L378.5,915.6L379.0,915.6L379.5,915.6L380.0,915.5L380.5,915.4L381.0,915.5L381.5,915.3L382.0,915.6L382.5,915.3L383.0,915.6L383.5,915.6L384.0,915.6L384.5,915.6L385.0,915.1L385.5,915.5L386.0,915.6L386.5,915.1L387.0,915.2L387.5,915.1L388.0,915.6L388.6,915.4L389.1,915.6L389.6,915.2L390.1,915.6L390.6,915.1L391.1,915.5L391.6,915.5L392.1,915.5L392.6,915.1L393.1,915.1L393.6,915.6L394.1,915.6L394.6,915.4L395.1,915.3L395.6,915.3L396.1,915.6L396.6,915.1L397.1,915.1L397.6,915.1L398.1,915.3L398.6,915.6L399.1,915.3L399.6,915.6L400.1,915.6L400.6,915.6L401.1,915.6L401.7,915.6L402.2,915.5L402.7,915.2L403.2,915.1L403.7,915.6L404.2,915.5L404.7,915.3L405.2,915.4L405.7,915.6L406.2,915.6L406.7,915.1L407.2,915.6L407.7,915.6L408.2,915.4L408.7,915.5L409.2,915.2L409.7,915.4L410.2,915.6L410.7,915.6L411.2,915.4L411.7,915.6L412.2,915.6L412.7,915.5L413.2,915.6L413.7,915.1L414.3,915.6L414.8,915.6L415.3,915.6L415.8,915.2L416.3,915.6L416.8,915.6L417.3,915.3L417.8,915.3L418.3,915.1L418.8,915.3L419.3,915.4L419.8,915.1L420.3,915.2" fill="none" stroke="#961a36" stroke-width="1.8" stroke-linejoin="round"/>
<path d="M331.1,915.6L331.6,915.6L332.1,915.6L332.6,915.1L333.1,915.6L333.6,915.6L334.1,914.9L334.6,915.6L335.1,915.6L335.6,915.6L336.1,915.6L336.6,915.6L337.1,915.6L337.7,915.6L338.2,915.6L338.7,915.1L339.2,915.4L339.7,915.6L340.2,915.4L340.7,914.9L341.2,915.3L341.7,915.5L342.2,915.6L342.7,915.6L343.2,915.6L343.7,915.6L344.2,915.6L344.7,914.9L345.2,915.6L345.7,915.5L346.2,915.6L346.7,915.6L347.2,914.9L347.7,915.2L348.2,915.6L348.7,915.6L349.2,915.6L349.7,915.6L350.3,915.1L350.8,915.6L351.3,915.6L351.8,915.5L352.3,915.6L352.8,915.6L353.3,915.6L353.8,915.6L354.3,915.1L354.8,915.6L355.3,915.1L355.8,915.6L356.3,915.3L356.8,914.7L357.3,915.4L357.8,915.1L358.3,914.5L358.8,913.4L359.3,914.3L359.8,913.4L360.3,913.6L360.8,912.7L361.3,912.0L361.8,912.5L362.3,912.2L362.8,911.5L363.4,909.9L363.9,910.0L364.4,909.9L364.9,909.2L365.4,908.8L365.9,908.0L366.4,906.6L366.9,906.0L367.4,905.8L367.9,904.2L368.4,902.6L368.9,903.6L369.4,902.9L369.9,902.0L370.4,901.1L370.9,900.9L371.4,900.9L371.9,900.1L372.4,901.3L372.9,898.5L373.4,900.2L373.9,899.6L374.4,898.1L374.9,898.0L375.4,897.4L376.0,897.4L376.5,896.0L377.0,895.5L377.5,896.8L378.0,895.0L378.5,896.0L379.0,899.4L379.5,900.1L380.0,896.7L380.5,895.2L381.0,894.7L381.5,892.9L382.0,890.0L382.5,892.0L383.0,889.9L383.5,890.4L384.0,890.8L384.5,893.2L385.0,894.4L385.5,896.4L386.0,897.2L386.5,897.8L387.0,897.7L387.5,898.1L388.0,900.5L388.6,902.9L389.1,904.0L389.6,905.0L390.1,906.9L390.6,909.1L391.1,910.7L391.6,911.5L392.1,912.9L392.6,912.9L393.1,913.0L393.6,914.2L394.1,914.7L394.6,915.2L395.1,915.6L395.6,915.4L396.1,915.2L396.6,915.6L397.1,915.1L397.6,915.6L398.1,914.9L398.6,915.6L399.1,915.6L399.6,915.6L400.1,915.6L400.6,915.3L401.1,915.6L401.7,915.5L402.2,915.4L402.7,915.2L403.2,915.1L403.7,915.6L404.2,915.6L404.7,915.5L405.2,915.0L405.7,915.5L406.2,915.4L406.7,915.4L407.2,915.4L407.7,915.6L408.2,915.1L408.7,915.2L409.2,915.4L409.7,915.6L410.2,915.6L410.7,915.6L411.2,915.1L411.7,915.3L412.2,915.6L412.7,914.9L413.2,915.6L413.7,915.5L414.3,915.0L414.8,915.4L415.3,915.6L415.8,914.9L416.3,915.6L416.8,915.6L417.3,915.6L417.8,915.6L418.3,915.6L418.8,915.6L419.3,915.2L419.8,915.1L420.3,915.6" fill="none" stroke="#323f5e" stroke-width="1.6" stroke-linejoin="round"/>
</g>
<rect x="331.10" y="854.10" width="89.20" height="61.50" fill="none" stroke="#000" stroke-width="1.7"/>
<path d="M330.25,915.60h-1.7M330.25,913.56h-1.7M330.25,911.51h-1.7M330.25,909.47h-1.7M330.25,907.43h-1.7M330.25,905.38h-1.7M330.25,903.34h-1.7M330.25,901.30h-1.7M330.25,899.25h-1.7M330.25,897.21h-1.7M330.25,895.17h-1.7M330.25,893.12h-1.7M330.25,891.08h-1.7M330.25,889.04h-1.7M330.25,887.00h-1.7M330.25,884.95h-1.7M330.25,882.91h-1.7M330.25,880.87h-1.7M330.25,878.82h-1.7M330.25,876.78h-1.7M330.25,874.74h-1.7M330.25,872.69h-1.7M330.25,870.65h-1.7M330.25,868.61h-1.7M330.25,866.56h-1.7M330.25,864.52h-1.7M330.25,862.48h-1.7M330.25,860.43h-1.7M330.25,858.39h-1.7M330.25,856.35h-1.7M330.25,854.30h-1.7" stroke="#000" stroke-width="1.0" fill="none"/>
<path d="M330.25,915.60h-2.8M330.25,905.38h-2.8M330.25,895.17h-2.8M330.25,884.95h-2.8M330.25,874.74h-2.8M330.25,864.52h-2.8M330.25,854.30h-2.8" stroke="#000" stroke-width="1.3" fill="none"/>
<path d="M337.81,916.45v1.7M341.74,916.45v1.7M344.53,916.45v1.7M346.69,916.45v1.7M348.45,916.45v1.7M349.95,916.45v1.7M351.24,916.45v1.7M352.38,916.45v1.7M360.11,916.45v1.7M364.04,916.45v1.7M366.83,916.45v1.7M368.99,916.45v1.7M370.75,916.45v1.7M372.25,916.45v1.7M373.54,916.45v1.7M374.68,916.45v1.7M382.41,916.45v1.7M386.34,916.45v1.7M389.13,916.45v1.7M391.29,916.45v1.7M393.05,916.45v1.7M394.55,916.45v1.7M395.84,916.45v1.7M396.98,916.45v1.7M404.71,916.45v1.7M408.64,916.45v1.7M411.43,916.45v1.7M413.59,916.45v1.7M415.35,916.45v1.7M416.85,916.45v1.7M418.14,916.45v1.7M419.28,916.45v1.7" stroke="#000" stroke-width="1.0" fill="none"/>
<path d="M331.10,916.45v2.8M353.40,916.45v2.8M375.70,916.45v2.8M398.00,916.45v2.8M420.30,916.45v2.8" stroke="#000" stroke-width="1.2" fill="none"/>
<text x="325.30" y="918.30" font-size="7.5" text-anchor="end" stroke="#000" stroke-width="0.25">0</text>
<text x="325.30" y="908.08" font-size="7.5" text-anchor="end" stroke="#000" stroke-width="0.25">5</text>
<text x="325.30" y="897.87" font-size="7.5" text-anchor="end" stroke="#000" stroke-width="0.25">10</text>
<text x="325.30" y="887.65" font-size="7.5" text-anchor="end" stroke="#000" stroke-width="0.25">15</text>
<text x="325.30" y="877.44" font-size="7.5" text-anchor="end" stroke="#000" stroke-width="0.25">20</text>
<text x="325.30" y="867.22" font-size="7.5" text-anchor="end" stroke="#000" stroke-width="0.25">25</text>
<text x="325.30" y="857.00" font-size="7.5" text-anchor="end" stroke="#000" stroke-width="0.25">30</text>
<text x="330.50" y="928.80" font-size="7.4" text-anchor="middle" stroke="#000" stroke-width="0.25">10</text>
<text x="335.00" y="926.30" font-size="4.2" stroke="#000" stroke-width="0.15">0</text>
<text x="352.40" y="928.80" font-size="7.4" text-anchor="middle" stroke="#000" stroke-width="0.25">10</text>
<text x="356.90" y="926.30" font-size="4.2" stroke="#000" stroke-width="0.15">1</text>
<text x="374.30" y="928.80" font-size="7.4" text-anchor="middle" stroke="#000" stroke-width="0.25">10</text>
<text x="378.80" y="926.30" font-size="4.2" stroke="#000" stroke-width="0.15">2</text>
<text x="396.20" y="928.80" font-size="7.4" text-anchor="middle" stroke="#000" stroke-width="0.25">10</text>
<text x="400.70" y="926.30" font-size="4.2" stroke="#000" stroke-width="0.15">3</text>
<text x="418.10" y="928.80" font-size="7.4" text-anchor="middle" stroke="#000" stroke-width="0.25">10</text>
<text x="422.60" y="926.30" font-size="4.2" stroke="#000" stroke-width="0.15">4</text>
<text x="310.76" y="884.85" font-size="10.6" text-anchor="middle" textLength="30.50" lengthAdjust="spacingAndGlyphs" transform="rotate(-90 310.76 884.85)" stroke="#000" stroke-width="0.1">Counts</text>
<text x="11.00" y="25.20" font-size="16.5" font-weight="bold">A</text>
<text x="11.40" y="727.70" font-size="16.5" font-weight="bold">B</text>
<text x="143.60" y="728.00" font-size="16.5" font-weight="bold">C</text>
<text x="84.50" y="73.30" font-size="11" font-weight="bold" text-anchor="end">Pre GT</text>
<text x="84.50" y="163.70" font-size="11" font-weight="bold" text-anchor="end">1 month</text>
<text x="84.50" y="258.30" font-size="11" font-weight="bold" text-anchor="end">3 months</text>
<text x="84.50" y="352.20" font-size="11" font-weight="bold" text-anchor="end">6 months</text>
<text x="84.50" y="444.50" font-size="11" font-weight="bold" text-anchor="end">12 months</text>
<text x="84.50" y="539.30" font-size="11" font-weight="bold" text-anchor="end">20 months</text>
<text x="84.50" y="623.80" font-size="11" font-weight="bold" text-anchor="end">Healthy</text>
<text x="84.50" y="636.30" font-size="11" font-weight="bold" text-anchor="end">control</text>
<text x="222.80" y="71.90" font-size="11" font-weight="bold">Whole blood</text>
<text x="163.50" y="686.70" font-size="11" font-weight="bold" text-anchor="middle">T cells</text>
<text x="292.00" y="686.70" font-size="11" font-weight="bold" text-anchor="middle">NK cells</text>
<text x="425.50" y="686.70" font-size="11" font-weight="bold" text-anchor="middle">B cells</text>
<rect x="378.3" y="155.1" width="6.9" height="5.7" fill="#d4887f" stroke="#961a36" stroke-width="1.3"/>
<rect x="378.3" y="165.7" width="6.9" height="5.7" fill="#e6f3fa" stroke="#323f5e" stroke-width="1.3"/>
<text x="390.00" y="160.50" font-size="8">control</text>
<text x="390.00" y="170.70" font-size="8">WASp</text>
<text x="81.20" y="738.50" font-size="11" text-anchor="middle" stroke="#000" stroke-width="0.3">Con</text>
<text x="111.20" y="738.50" font-size="11" text-anchor="middle" stroke="#000" stroke-width="0.3">Pt</text>
<text x="58.50" y="771.20" font-size="11" text-anchor="end" stroke="#000" stroke-width="0.3">WASp</text>
<text x="58.80" y="823.20" font-size="11" text-anchor="end" stroke="#000" stroke-width="0.3">actin</text>
<defs>
<filter id="blur1" x="-30%" y="-80%" width="160%" height="260%"><feGaussianBlur stdDeviation="0.75"/></filter>
<filter id="blur2" x="-20%" y="-50%" width="140%" height="200%"><feGaussianBlur stdDeviation="0.65"/></filter>
<filter id="blur2b" x="-30%" y="-30%" width="160%" height="160%"><feGaussianBlur stdDeviation="1.3"/></filter>
<filter id="blur4" x="-50%" y="-50%" width="200%" height="200%"><feGaussianBlur stdDeviation="3"/></filter>
<clipPath id="blotclip1"><rect x="63.5" y="744.9" width="67.3" height="43"/></clipPath>
</defs>
<rect x="63.5" y="744.9" width="67.3" height="43" fill="#bfbfbf"/>
<g clip-path="url(#blotclip1)"><g filter="url(#blur4)"><ellipse cx="108" cy="766" rx="9" ry="16" fill="#cfcfcf"/><ellipse cx="123" cy="782" rx="8" ry="5" fill="#cfcfcf"/><ellipse cx="80" cy="783" rx="9" ry="4" fill="#cbcbcb"/><ellipse cx="80" cy="765" rx="12" ry="10" fill="#b8b8b8"/><ellipse cx="66" cy="770" rx="3" ry="18" fill="#c4c4c4"/></g></g>
<g filter="url(#blur2b)"><rect x="70" y="760.5" width="21.5" height="14.5" rx="3" fill="#a8a8a8"/></g>
<g filter="url(#blur1)"><rect x="70.5" y="765.3" width="20" height="1.2" fill="#b8b8b8"/><path d="M68.7,757 C68.7,755.3 70,755.3 72,755.6 C78,756.1 84,756.1 90,755.5 C92.3,755.2 92.7,755.6 92.6,757.3 C92.5,759.8 91,760.4 86,760.5 C80,760.7 74,760.7 71,760.4 C69.3,760.2 68.7,759.2 68.7,757 Z" fill="#0a0a0a"/><rect x="70.5" y="762.7" width="20" height="1.9" rx="0.9" fill="#767676"/><rect x="70.3" y="768" width="20.1" height="3.5" rx="1.6" fill="#2e2e2e"/><ellipse cx="80" cy="770" rx="3.5" ry="1.6" fill="#1a1a1a"/><rect x="100.8" y="757.1" width="19.6" height="2.6" rx="1.2" fill="#969696"/></g>
<rect x="63.5" y="799.2" width="67.3" height="40.7" fill="#bababa"/>
<g filter="url(#blur2)"><path d="M68.4,820.3 C68,815.8 73,815 80,815 C87,815 93.2,814.8 93.4,819.3 C93.6,825 88,826.9 81,826.9 C74,826.9 69,825.6 68.4,820.3 Z" fill="#0a0a0a"/><path d="M97.3,819.8 C96.8,815 102,814 109,813.8 C116,813.6 123.8,812.6 124,816.5 C124.2,822.5 120,826 111,826.2 C103,826.3 97.9,825 97.3,819.8 Z" fill="#0a0a0a"/><circle cx="126.3" cy="814.3" r="0.9" fill="#222"/></g>
<text x="238.90" y="739.00" font-size="11" font-weight="bold" text-anchor="middle">Con</text>
<text x="375.50" y="738.75" font-size="11" font-weight="bold" text-anchor="middle">Pt (20 months)</text>
<text x="239.40" y="834.00" font-size="10.7" text-anchor="middle" textLength="47.00" lengthAdjust="spacingAndGlyphs">WASP APC</text>
<text x="375.60" y="834.00" font-size="10.7" text-anchor="middle" textLength="47.00" lengthAdjust="spacingAndGlyphs">WASP APC</text>
<text x="239.40" y="943.20" font-size="10.7" text-anchor="middle" textLength="47.00" lengthAdjust="spacingAndGlyphs">WASP APC</text>
<text x="375.60" y="943.20" font-size="10.7" text-anchor="middle" textLength="47.00" lengthAdjust="spacingAndGlyphs">WASP APC</text>
<text x="425" y="771.25" font-size="8" font-weight="bold">Naïve CD4<tspan dy="-3.2" font-size="4.8">+</tspan><tspan dy="3.2"> T cells</tspan></text>
<text x="425" y="781.25" font-size="8" font-weight="bold">(CD4<tspan dy="-3.2" font-size="4.8">+</tspan><tspan dy="3.2"> CD45RA<tspan dy="-3.2" font-size="4.8">+</tspan><tspan dy="3.2"> CD27<tspan dy="-3.2" font-size="4.8">+</tspan><tspan dy="3.2">)</tspan></tspan></tspan></text>
<text x="425.00" y="791.25" font-size="8" font-weight="bold">VCN=1.5</text>
<text x="425" y="880.40" font-size="8" font-weight="bold">Naïve CD8<tspan dy="-3.2" font-size="4.8">+</tspan><tspan dy="3.2"> T cells</tspan></text>
<text x="425" y="890.40" font-size="8" font-weight="bold">(CD8<tspan dy="-3.2" font-size="4.8">+</tspan><tspan dy="3.2"> CD45RA<tspan dy="-3.2" font-size="4.8">+</tspan><tspan dy="3.2"> CD27<tspan dy="-3.2" font-size="4.8">+</tspan><tspan dy="3.2">)</tspan></tspan></tspan></text>
<text x="425.00" y="900.20" font-size="8" font-weight="bold">VCN=2.9</text>
<path d="M0,0H520V956H0Z M2,2V953.8H517.8V2Z" fill="#000" fill-rule="evenodd"/></svg>
</body></html>
